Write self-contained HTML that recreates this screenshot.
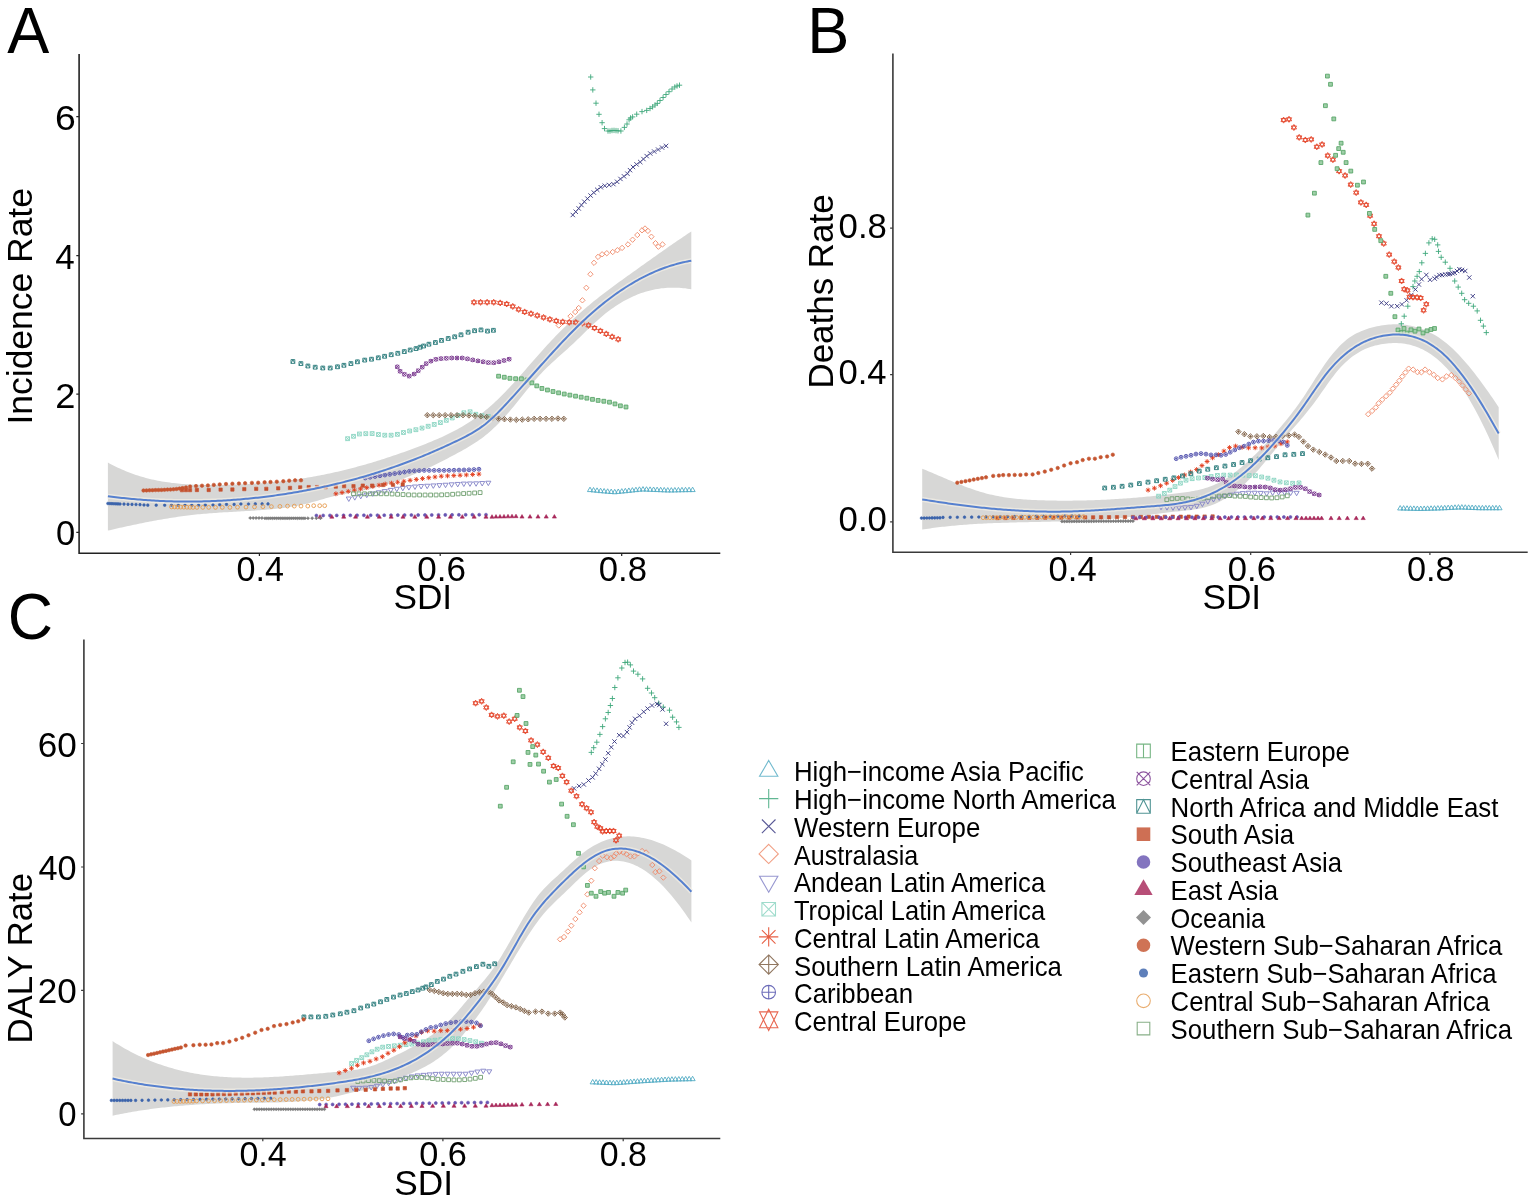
<!DOCTYPE html>
<html><head><meta charset="utf-8"><title>SDI vs rates</title>
<style>html,body{margin:0;padding:0;background:#fff;}svg{display:block;}</style>
</head><body>
<svg width="1535" height="1204" viewBox="0 0 1535 1204">
<rect width="1535" height="1204" fill="#fff"/>
<path d="M107.9 462.53 L109.9 463.64 L111.9 464.7 L113.89 465.73 L115.89 466.73 L117.89 467.69 L119.89 468.62 L121.89 469.51 L123.88 470.37 L125.88 471.21 L127.88 472.01 L129.88 472.78 L131.88 473.52 L133.87 474.23 L135.87 474.91 L137.87 475.56 L139.87 476.18 L141.87 476.78 L143.86 477.35 L145.86 477.9 L147.86 478.42 L149.86 478.92 L151.85 479.39 L153.85 479.83 L155.85 480.26 L157.85 480.66 L159.85 481.04 L161.84 481.39 L163.84 481.73 L165.84 482.05 L167.84 482.34 L169.84 482.62 L171.83 482.88 L173.83 483.12 L175.83 483.34 L177.83 483.55 L179.83 483.74 L181.82 483.91 L183.82 484.07 L185.82 484.22 L187.82 484.35 L189.82 484.46 L191.81 484.57 L193.81 484.66 L195.81 484.74 L197.81 484.8 L199.81 484.86 L201.8 484.91 L203.8 484.95 L205.8 484.97 L207.8 484.99 L209.8 485.01 L211.79 485.01 L213.79 485.01 L215.79 485 L217.79 484.99 L219.78 484.97 L221.78 484.94 L223.78 484.91 L225.78 484.88 L227.78 484.83 L229.77 484.78 L231.77 484.73 L233.77 484.67 L235.77 484.6 L237.77 484.53 L239.76 484.45 L241.76 484.36 L243.76 484.27 L245.76 484.17 L247.76 484.06 L249.75 483.95 L251.75 483.83 L253.75 483.7 L255.75 483.57 L257.75 483.43 L259.74 483.29 L261.74 483.13 L263.74 482.97 L265.74 482.81 L267.74 482.63 L269.73 482.45 L271.73 482.26 L273.73 482.07 L275.73 481.86 L277.73 481.65 L279.72 481.43 L281.72 481.21 L283.72 480.98 L285.72 480.74 L287.72 480.49 L289.71 480.23 L291.71 479.97 L293.71 479.7 L295.71 479.42 L297.7 479.13 L299.7 478.83 L301.7 478.53 L303.7 478.22 L305.7 477.9 L307.69 477.57 L309.69 477.23 L311.69 476.89 L313.69 476.54 L315.69 476.17 L317.68 475.8 L319.68 475.43 L321.68 475.04 L323.68 474.64 L325.68 474.24 L327.67 473.83 L329.67 473.4 L331.67 472.97 L333.67 472.53 L335.67 472.09 L337.66 471.63 L339.66 471.17 L341.66 470.69 L343.66 470.21 L345.66 469.72 L347.65 469.22 L349.65 468.72 L351.65 468.2 L353.65 467.68 L355.65 467.15 L357.64 466.61 L359.64 466.07 L361.64 465.51 L363.64 464.95 L365.63 464.38 L367.63 463.8 L369.63 463.22 L371.63 462.63 L373.63 462.03 L375.62 461.42 L377.62 460.8 L379.62 460.18 L381.62 459.55 L383.62 458.91 L385.61 458.26 L387.61 457.61 L389.61 456.95 L391.61 456.28 L393.61 455.61 L395.6 454.93 L397.6 454.24 L399.6 453.54 L401.6 452.84 L403.6 452.13 L405.59 451.42 L407.59 450.69 L409.59 449.96 L411.59 449.23 L413.59 448.48 L415.58 447.73 L417.58 446.98 L419.58 446.21 L421.58 445.44 L423.58 444.66 L425.57 443.88 L427.57 443.08 L429.57 442.28 L431.57 441.46 L433.57 440.62 L435.56 439.78 L437.56 438.91 L439.56 438.03 L441.56 437.13 L443.55 436.22 L445.55 435.28 L447.55 434.32 L449.55 433.33 L451.55 432.33 L453.54 431.29 L455.54 430.23 L457.54 429.15 L459.54 428.03 L461.54 426.88 L463.53 425.71 L465.53 424.49 L467.53 423.25 L469.53 421.97 L471.53 420.65 L473.52 419.3 L475.52 417.91 L477.52 416.48 L479.52 415 L481.52 413.49 L483.51 411.93 L485.51 410.33 L487.51 408.68 L489.51 406.98 L491.51 405.24 L493.5 403.45 L495.5 401.6 L497.5 399.71 L499.5 397.77 L501.5 395.79 L503.49 393.77 L505.49 391.7 L507.49 389.61 L509.49 387.48 L511.48 385.32 L513.48 383.14 L515.48 380.93 L517.48 378.71 L519.48 376.46 L521.47 374.2 L523.47 371.93 L525.47 369.65 L527.47 367.37 L529.47 365.08 L531.46 362.79 L533.46 360.51 L535.46 358.23 L537.46 355.95 L539.46 353.69 L541.45 351.45 L543.45 349.22 L545.45 347.01 L547.45 344.83 L549.45 342.67 L551.44 340.54 L553.44 338.43 L555.44 336.36 L557.44 334.31 L559.44 332.29 L561.43 330.29 L563.43 328.32 L565.43 326.38 L567.43 324.46 L569.43 322.56 L571.42 320.69 L573.42 318.84 L575.42 317.02 L577.42 315.22 L579.42 313.44 L581.41 311.69 L583.41 309.96 L585.41 308.25 L587.41 306.56 L589.4 304.89 L591.4 303.24 L593.4 301.61 L595.4 300 L597.4 298.41 L599.39 296.84 L601.39 295.28 L603.39 293.74 L605.39 292.21 L607.39 290.7 L609.38 289.2 L611.38 287.71 L613.38 286.23 L615.38 284.76 L617.38 283.3 L619.37 281.85 L621.37 280.4 L623.37 278.96 L625.37 277.52 L627.37 276.09 L629.36 274.67 L631.36 273.24 L633.36 271.82 L635.36 270.39 L637.36 268.97 L639.35 267.54 L641.35 266.12 L643.35 264.69 L645.35 263.27 L647.35 261.85 L649.34 260.42 L651.34 259.01 L653.34 257.59 L655.34 256.17 L657.33 254.76 L659.33 253.35 L661.33 251.95 L663.33 250.54 L665.33 249.15 L667.32 247.75 L669.32 246.36 L671.32 244.98 L673.32 243.6 L675.32 242.22 L677.31 240.85 L679.31 239.49 L681.31 238.14 L683.31 236.79 L685.31 235.44 L687.3 234.11 L689.3 232.78 L691.3 231.46 L691.3 289.27 L689.3 288.93 L687.3 288.63 L685.31 288.37 L683.31 288.14 L681.31 287.96 L679.31 287.82 L677.31 287.71 L675.32 287.65 L673.32 287.63 L671.32 287.64 L669.32 287.7 L667.32 287.8 L665.33 287.95 L663.33 288.13 L661.33 288.36 L659.33 288.63 L657.33 288.95 L655.34 289.31 L653.34 289.71 L651.34 290.16 L649.34 290.65 L647.35 291.19 L645.35 291.77 L643.35 292.4 L641.35 293.08 L639.35 293.8 L637.36 294.57 L635.36 295.39 L633.36 296.25 L631.36 297.17 L629.36 298.13 L627.37 299.14 L625.37 300.2 L623.37 301.31 L621.37 302.48 L619.37 303.69 L617.38 304.95 L615.38 306.26 L613.38 307.63 L611.38 309.04 L609.38 310.51 L607.39 312.04 L605.39 313.61 L603.39 315.24 L601.39 316.92 L599.39 318.66 L597.4 320.44 L595.4 322.26 L593.4 324.12 L591.4 326.01 L589.4 327.93 L587.41 329.86 L585.41 331.8 L583.41 333.75 L581.41 335.7 L579.42 337.65 L577.42 339.59 L575.42 341.51 L573.42 343.4 L571.42 345.28 L569.43 347.12 L567.43 348.95 L565.43 350.75 L563.43 352.54 L561.43 354.32 L559.44 356.09 L557.44 357.87 L555.44 359.67 L553.44 361.48 L551.44 363.31 L549.45 365.18 L547.45 367.1 L545.45 369.05 L543.45 371.07 L541.45 373.14 L539.46 375.29 L537.46 377.5 L535.46 379.78 L533.46 382.11 L531.46 384.5 L529.47 386.92 L527.47 389.37 L525.47 391.84 L523.47 394.33 L521.47 396.82 L519.48 399.31 L517.48 401.8 L515.48 404.26 L513.48 406.7 L511.48 409.1 L509.49 411.45 L507.49 413.76 L505.49 416.02 L503.49 418.22 L501.5 420.37 L499.5 422.45 L497.5 424.48 L495.5 426.45 L493.5 428.36 L491.51 430.2 L489.51 431.97 L487.51 433.68 L485.51 435.32 L483.51 436.88 L481.52 438.39 L479.52 439.83 L477.52 441.22 L475.52 442.56 L473.52 443.85 L471.53 445.1 L469.53 446.32 L467.53 447.5 L465.53 448.65 L463.53 449.79 L461.54 450.9 L459.54 452 L457.54 453.09 L455.54 454.18 L453.54 455.25 L451.55 456.32 L449.55 457.37 L447.55 458.42 L445.55 459.46 L443.55 460.48 L441.56 461.5 L439.56 462.51 L437.56 463.5 L435.56 464.49 L433.57 465.46 L431.57 466.42 L429.57 467.37 L427.57 468.31 L425.57 469.23 L423.58 470.15 L421.58 471.05 L419.58 471.93 L417.58 472.8 L415.58 473.66 L413.59 474.51 L411.59 475.34 L409.59 476.15 L407.59 476.95 L405.59 477.74 L403.6 478.51 L401.6 479.26 L399.6 480 L397.6 480.72 L395.6 481.43 L393.61 482.12 L391.61 482.79 L389.61 483.44 L387.61 484.08 L385.61 484.69 L383.62 485.29 L381.62 485.87 L379.62 486.43 L377.62 486.98 L375.62 487.5 L373.63 488 L371.63 488.49 L369.63 488.95 L367.63 489.4 L365.63 489.82 L363.64 490.23 L361.64 490.63 L359.64 491.02 L357.64 491.4 L355.65 491.77 L353.65 492.14 L351.65 492.51 L349.65 492.89 L347.65 493.26 L345.66 493.64 L343.66 494.04 L341.66 494.44 L339.66 494.85 L337.66 495.29 L335.67 495.74 L333.67 496.21 L331.67 496.71 L329.67 497.23 L327.67 497.77 L325.68 498.33 L323.68 498.9 L321.68 499.48 L319.68 500.06 L317.68 500.65 L315.69 501.23 L313.69 501.8 L311.69 502.36 L309.69 502.89 L307.69 503.41 L305.7 503.9 L303.7 504.37 L301.7 504.81 L299.7 505.23 L297.7 505.63 L295.71 506.01 L293.71 506.37 L291.71 506.7 L289.71 507.02 L287.72 507.33 L285.72 507.61 L283.72 507.88 L281.72 508.14 L279.72 508.38 L277.73 508.61 L275.73 508.83 L273.73 509.03 L271.73 509.23 L269.73 509.41 L267.74 509.59 L265.74 509.76 L263.74 509.92 L261.74 510.07 L259.74 510.22 L257.75 510.37 L255.75 510.5 L253.75 510.63 L251.75 510.76 L249.75 510.89 L247.76 511.01 L245.76 511.12 L243.76 511.24 L241.76 511.35 L239.76 511.46 L237.77 511.57 L235.77 511.68 L233.77 511.79 L231.77 511.91 L229.77 512.02 L227.78 512.13 L225.78 512.25 L223.78 512.37 L221.78 512.49 L219.78 512.61 L217.79 512.74 L215.79 512.88 L213.79 513.01 L211.79 513.16 L209.8 513.31 L207.8 513.47 L205.8 513.63 L203.8 513.8 L201.8 513.98 L199.81 514.17 L197.81 514.37 L195.81 514.58 L193.81 514.8 L191.81 515.02 L189.82 515.26 L187.82 515.5 L185.82 515.75 L183.82 516.01 L181.82 516.28 L179.83 516.56 L177.83 516.84 L175.83 517.14 L173.83 517.44 L171.83 517.74 L169.84 518.06 L167.84 518.38 L165.84 518.71 L163.84 519.05 L161.84 519.39 L159.85 519.74 L157.85 520.09 L155.85 520.46 L153.85 520.83 L151.85 521.2 L149.86 521.58 L147.86 521.96 L145.86 522.36 L143.86 522.75 L141.87 523.15 L139.87 523.56 L137.87 523.97 L135.87 524.39 L133.87 524.81 L131.88 525.23 L129.88 525.66 L127.88 526.09 L125.88 526.53 L123.88 526.97 L121.89 527.42 L119.89 527.86 L117.89 528.31 L115.89 528.77 L113.89 529.22 L111.9 529.68 L109.9 530.15 L107.9 530.61Z" fill="#d7d7d6"/>
<path d="M922.2 468.66 L924.19 469.48 L926.19 470.31 L928.18 471.14 L930.18 471.98 L932.17 472.83 L934.17 473.68 L936.16 474.54 L938.16 475.39 L940.15 476.25 L942.15 477.11 L944.14 477.96 L946.14 478.81 L948.13 479.66 L950.13 480.5 L952.12 481.34 L954.12 482.16 L956.11 482.98 L958.11 483.79 L960.1 484.59 L962.1 485.37 L964.09 486.14 L966.09 486.9 L968.08 487.64 L970.08 488.36 L972.07 489.07 L974.07 489.76 L976.06 490.42 L978.05 491.06 L980.05 491.69 L982.04 492.28 L984.04 492.85 L986.03 493.4 L988.03 493.92 L990.02 494.41 L992.02 494.87 L994.01 495.31 L996.01 495.73 L998 496.12 L1000 496.49 L1001.99 496.83 L1003.99 497.16 L1005.98 497.46 L1007.98 497.75 L1009.97 498.01 L1011.97 498.26 L1013.96 498.49 L1015.96 498.7 L1017.95 498.9 L1019.95 499.08 L1021.94 499.25 L1023.94 499.4 L1025.93 499.55 L1027.92 499.67 L1029.92 499.79 L1031.91 499.9 L1033.91 500 L1035.9 500.08 L1037.9 500.16 L1039.89 500.24 L1041.89 500.3 L1043.88 500.36 L1045.88 500.41 L1047.87 500.46 L1049.87 500.51 L1051.86 500.54 L1053.86 500.58 L1055.85 500.6 L1057.85 500.63 L1059.84 500.64 L1061.84 500.66 L1063.83 500.66 L1065.83 500.66 L1067.82 500.66 L1069.82 500.65 L1071.81 500.64 L1073.81 500.62 L1075.8 500.59 L1077.8 500.57 L1079.79 500.53 L1081.78 500.49 L1083.78 500.45 L1085.77 500.4 L1087.77 500.35 L1089.76 500.29 L1091.76 500.23 L1093.75 500.16 L1095.75 500.08 L1097.74 500.01 L1099.74 499.92 L1101.73 499.84 L1103.73 499.75 L1105.72 499.65 L1107.72 499.55 L1109.71 499.44 L1111.71 499.33 L1113.7 499.22 L1115.7 499.1 L1117.69 498.97 L1119.69 498.85 L1121.68 498.71 L1123.68 498.58 L1125.67 498.43 L1127.67 498.29 L1129.66 498.14 L1131.66 497.98 L1133.65 497.82 L1135.64 497.66 L1137.64 497.49 L1139.63 497.32 L1141.63 497.15 L1143.62 496.97 L1145.62 496.78 L1147.61 496.59 L1149.61 496.4 L1151.6 496.2 L1153.6 496 L1155.59 495.8 L1157.59 495.59 L1159.58 495.38 L1161.58 495.16 L1163.57 494.94 L1165.57 494.71 L1167.56 494.48 L1169.56 494.25 L1171.55 494.02 L1173.55 493.78 L1175.54 493.53 L1177.54 493.28 L1179.53 493.03 L1181.53 492.78 L1183.52 492.52 L1185.51 492.24 L1187.51 491.96 L1189.5 491.65 L1191.5 491.32 L1193.49 490.97 L1195.49 490.59 L1197.48 490.18 L1199.48 489.73 L1201.47 489.24 L1203.47 488.7 L1205.46 488.12 L1207.46 487.49 L1209.45 486.8 L1211.45 486.05 L1213.44 485.24 L1215.44 484.36 L1217.43 483.42 L1219.43 482.4 L1221.42 481.31 L1223.42 480.15 L1225.41 478.93 L1227.41 477.65 L1229.4 476.31 L1231.4 474.91 L1233.39 473.46 L1235.39 471.96 L1237.38 470.4 L1239.37 468.8 L1241.37 467.16 L1243.36 465.46 L1245.36 463.73 L1247.35 461.95 L1249.35 460.13 L1251.34 458.27 L1253.34 456.37 L1255.33 454.43 L1257.33 452.45 L1259.32 450.44 L1261.32 448.39 L1263.31 446.31 L1265.31 444.2 L1267.3 442.05 L1269.3 439.87 L1271.29 437.67 L1273.29 435.44 L1275.28 433.17 L1277.28 430.89 L1279.27 428.58 L1281.27 426.23 L1283.26 423.86 L1285.26 421.44 L1287.25 418.98 L1289.24 416.48 L1291.24 413.93 L1293.23 411.33 L1295.23 408.67 L1297.22 405.95 L1299.22 403.17 L1301.21 400.32 L1303.21 397.4 L1305.2 394.41 L1307.2 391.35 L1309.19 388.26 L1311.19 385.13 L1313.18 381.99 L1315.18 378.86 L1317.17 375.74 L1319.17 372.66 L1321.16 369.63 L1323.16 366.66 L1325.15 363.77 L1327.15 360.98 L1329.14 358.3 L1331.14 355.73 L1333.13 353.27 L1335.13 350.92 L1337.12 348.69 L1339.12 346.58 L1341.11 344.59 L1343.1 342.72 L1345.1 340.97 L1347.09 339.35 L1349.09 337.86 L1351.08 336.49 L1353.08 335.25 L1355.07 334.12 L1357.07 333.09 L1359.06 332.14 L1361.06 331.27 L1363.05 330.46 L1365.05 329.7 L1367.04 329 L1369.04 328.36 L1371.03 327.77 L1373.03 327.23 L1375.02 326.74 L1377.02 326.3 L1379.01 325.9 L1381.01 325.55 L1383 325.25 L1385 324.99 L1386.99 324.76 L1388.99 324.59 L1390.98 324.45 L1392.98 324.36 L1394.97 324.32 L1396.96 324.32 L1398.96 324.37 L1400.95 324.47 L1402.95 324.63 L1404.94 324.83 L1406.94 325.09 L1408.93 325.41 L1410.93 325.78 L1412.92 326.21 L1414.92 326.7 L1416.91 327.25 L1418.91 327.86 L1420.9 328.53 L1422.9 329.27 L1424.89 330.07 L1426.89 330.94 L1428.88 331.88 L1430.88 332.88 L1432.87 333.96 L1434.87 335.11 L1436.86 336.33 L1438.86 337.62 L1440.85 338.99 L1442.85 340.44 L1444.84 341.97 L1446.83 343.57 L1448.83 345.26 L1450.82 347.02 L1452.82 348.87 L1454.81 350.78 L1456.81 352.77 L1458.8 354.83 L1460.8 356.96 L1462.79 359.15 L1464.79 361.41 L1466.78 363.73 L1468.78 366.1 L1470.77 368.54 L1472.77 371.02 L1474.76 373.56 L1476.76 376.15 L1478.75 378.79 L1480.75 381.47 L1482.74 384.19 L1484.74 386.96 L1486.73 389.76 L1488.73 392.6 L1490.72 395.47 L1492.72 398.37 L1494.71 401.31 L1496.71 404.27 L1498.7 407.25 L1498.7 459.92 L1496.71 455.15 L1494.71 450.49 L1492.72 445.91 L1490.72 441.43 L1488.73 437.05 L1486.73 432.76 L1484.74 428.57 L1482.74 424.48 L1480.75 420.49 L1478.75 416.59 L1476.76 412.79 L1474.76 409.1 L1472.77 405.5 L1470.77 402.01 L1468.78 398.62 L1466.78 395.33 L1464.79 392.15 L1462.79 389.07 L1460.8 386.1 L1458.8 383.23 L1456.81 380.46 L1454.81 377.81 L1452.82 375.26 L1450.82 372.82 L1448.83 370.49 L1446.83 368.27 L1444.84 366.16 L1442.85 364.16 L1440.85 362.26 L1438.86 360.47 L1436.86 358.78 L1434.87 357.18 L1432.87 355.69 L1430.88 354.29 L1428.88 352.98 L1426.89 351.77 L1424.89 350.64 L1422.9 349.6 L1420.9 348.65 L1418.91 347.78 L1416.91 346.99 L1414.92 346.28 L1412.92 345.64 L1410.93 345.09 L1408.93 344.6 L1406.94 344.19 L1404.94 343.84 L1402.95 343.56 L1400.95 343.35 L1398.96 343.19 L1396.96 343.1 L1394.97 343.07 L1392.98 343.09 L1390.98 343.17 L1388.99 343.3 L1386.99 343.48 L1385 343.71 L1383 343.99 L1381.01 344.31 L1379.01 344.69 L1377.02 345.13 L1375.02 345.62 L1373.03 346.18 L1371.03 346.8 L1369.04 347.5 L1367.04 348.27 L1365.05 349.12 L1363.05 350.06 L1361.06 351.08 L1359.06 352.19 L1357.07 353.39 L1355.07 354.69 L1353.08 356.09 L1351.08 357.59 L1349.09 359.21 L1347.09 360.93 L1345.1 362.77 L1343.1 364.73 L1341.11 366.81 L1339.12 369.02 L1337.12 371.36 L1335.13 373.82 L1333.13 376.39 L1331.14 379.05 L1329.14 381.78 L1327.15 384.57 L1325.15 387.39 L1323.16 390.23 L1321.16 393.08 L1319.17 395.92 L1317.17 398.72 L1315.18 401.47 L1313.18 404.17 L1311.19 406.79 L1309.19 409.36 L1307.2 411.86 L1305.2 414.32 L1303.21 416.71 L1301.21 419.07 L1299.22 421.38 L1297.22 423.67 L1295.23 425.93 L1293.23 428.19 L1291.24 430.46 L1289.24 432.73 L1287.25 435.03 L1285.26 437.37 L1283.26 439.74 L1281.27 442.13 L1279.27 444.55 L1277.28 446.99 L1275.28 449.43 L1273.29 451.88 L1271.29 454.33 L1269.3 456.77 L1267.3 459.19 L1265.31 461.6 L1263.31 463.97 L1261.32 466.32 L1259.32 468.63 L1257.33 470.89 L1255.33 473.1 L1253.34 475.25 L1251.34 477.34 L1249.35 479.36 L1247.35 481.32 L1245.36 483.2 L1243.36 485.03 L1241.37 486.78 L1239.37 488.47 L1237.38 490.09 L1235.39 491.65 L1233.39 493.14 L1231.4 494.57 L1229.4 495.93 L1227.41 497.22 L1225.41 498.45 L1223.42 499.62 L1221.42 500.72 L1219.43 501.75 L1217.43 502.72 L1215.44 503.63 L1213.44 504.47 L1211.45 505.25 L1209.45 505.96 L1207.46 506.61 L1205.46 507.2 L1203.47 507.72 L1201.47 508.19 L1199.48 508.61 L1197.48 508.99 L1195.49 509.32 L1193.49 509.62 L1191.5 509.88 L1189.5 510.13 L1187.51 510.35 L1185.51 510.56 L1183.52 510.77 L1181.53 510.97 L1179.53 511.17 L1177.54 511.38 L1175.54 511.59 L1173.55 511.81 L1171.55 512.03 L1169.56 512.26 L1167.56 512.49 L1165.57 512.73 L1163.57 512.97 L1161.58 513.21 L1159.58 513.45 L1157.59 513.7 L1155.59 513.94 L1153.6 514.19 L1151.6 514.44 L1149.61 514.69 L1147.61 514.94 L1145.62 515.19 L1143.62 515.43 L1141.63 515.68 L1139.63 515.92 L1137.64 516.16 L1135.64 516.39 L1133.65 516.63 L1131.66 516.85 L1129.66 517.08 L1127.67 517.3 L1125.67 517.51 L1123.68 517.72 L1121.68 517.92 L1119.69 518.12 L1117.69 518.3 L1115.7 518.48 L1113.7 518.66 L1111.71 518.83 L1109.71 518.99 L1107.72 519.14 L1105.72 519.29 L1103.73 519.43 L1101.73 519.57 L1099.74 519.7 L1097.74 519.83 L1095.75 519.95 L1093.75 520.06 L1091.76 520.17 L1089.76 520.28 L1087.77 520.38 L1085.77 520.48 L1083.78 520.57 L1081.78 520.66 L1079.79 520.74 L1077.8 520.82 L1075.8 520.9 L1073.81 520.98 L1071.81 521.05 L1069.82 521.11 L1067.82 521.18 L1065.83 521.24 L1063.83 521.3 L1061.84 521.36 L1059.84 521.41 L1057.85 521.47 L1055.85 521.52 L1053.86 521.57 L1051.86 521.62 L1049.87 521.66 L1047.87 521.71 L1045.88 521.75 L1043.88 521.8 L1041.89 521.84 L1039.89 521.88 L1037.9 521.92 L1035.9 521.96 L1033.91 522.01 L1031.91 522.05 L1029.92 522.09 L1027.92 522.13 L1025.93 522.18 L1023.94 522.22 L1021.94 522.27 L1019.95 522.31 L1017.95 522.36 L1015.96 522.41 L1013.96 522.46 L1011.97 522.52 L1009.97 522.57 L1007.98 522.63 L1005.98 522.69 L1003.99 522.75 L1001.99 522.81 L1000 522.88 L998 522.95 L996.01 523.03 L994.01 523.1 L992.02 523.19 L990.02 523.27 L988.03 523.36 L986.03 523.45 L984.04 523.55 L982.04 523.65 L980.05 523.76 L978.05 523.87 L976.06 523.98 L974.07 524.1 L972.07 524.23 L970.08 524.36 L968.08 524.5 L966.09 524.64 L964.09 524.79 L962.1 524.94 L960.1 525.1 L958.11 525.27 L956.11 525.45 L954.12 525.63 L952.12 525.81 L950.13 526.01 L948.13 526.21 L946.14 526.42 L944.14 526.64 L942.15 526.86 L940.15 527.1 L938.16 527.34 L936.16 527.59 L934.17 527.84 L932.17 528.11 L930.18 528.39 L928.18 528.67 L926.19 528.96 L924.19 529.27 L922.2 529.58Z" fill="#d7d7d6"/>
<path d="M112.6 1041.11 L114.6 1042.39 L116.59 1043.64 L118.59 1044.87 L120.58 1046.07 L122.58 1047.23 L124.58 1048.38 L126.57 1049.49 L128.57 1050.58 L130.56 1051.64 L132.56 1052.68 L134.55 1053.69 L136.55 1054.67 L138.55 1055.63 L140.54 1056.57 L142.54 1057.48 L144.53 1058.36 L146.53 1059.22 L148.53 1060.06 L150.52 1060.88 L152.52 1061.67 L154.51 1062.44 L156.51 1063.18 L158.5 1063.9 L160.5 1064.6 L162.5 1065.28 L164.49 1065.94 L166.49 1066.57 L168.48 1067.19 L170.48 1067.78 L172.48 1068.36 L174.47 1068.91 L176.47 1069.44 L178.46 1069.96 L180.46 1070.45 L182.46 1070.92 L184.45 1071.38 L186.45 1071.82 L188.44 1072.24 L190.44 1072.64 L192.43 1073.02 L194.43 1073.39 L196.43 1073.74 L198.42 1074.07 L200.42 1074.38 L202.41 1074.68 L204.41 1074.96 L206.41 1075.23 L208.4 1075.48 L210.4 1075.72 L212.39 1075.94 L214.39 1076.15 L216.38 1076.34 L218.38 1076.52 L220.38 1076.68 L222.37 1076.83 L224.37 1076.97 L226.36 1077.09 L228.36 1077.2 L230.36 1077.3 L232.35 1077.39 L234.35 1077.46 L236.34 1077.52 L238.34 1077.58 L240.34 1077.62 L242.33 1077.65 L244.33 1077.67 L246.32 1077.67 L248.32 1077.67 L250.31 1077.66 L252.31 1077.64 L254.31 1077.61 L256.3 1077.57 L258.3 1077.53 L260.29 1077.47 L262.29 1077.41 L264.29 1077.34 L266.28 1077.26 L268.28 1077.17 L270.27 1077.08 L272.27 1076.98 L274.26 1076.87 L276.26 1076.76 L278.26 1076.64 L280.25 1076.52 L282.25 1076.39 L284.24 1076.26 L286.24 1076.12 L288.24 1075.98 L290.23 1075.83 L292.23 1075.68 L294.22 1075.53 L296.22 1075.37 L298.22 1075.21 L300.21 1075.04 L302.21 1074.88 L304.2 1074.71 L306.2 1074.54 L308.19 1074.36 L310.19 1074.19 L312.19 1074.02 L314.18 1073.84 L316.18 1073.66 L318.17 1073.49 L320.17 1073.31 L322.17 1073.13 L324.16 1072.96 L326.16 1072.78 L328.15 1072.61 L330.15 1072.44 L332.14 1072.27 L334.14 1072.1 L336.14 1071.93 L338.13 1071.76 L340.13 1071.6 L342.12 1071.42 L344.12 1071.24 L346.12 1071.04 L348.11 1070.83 L350.11 1070.6 L352.1 1070.34 L354.1 1070.06 L356.1 1069.75 L358.09 1069.41 L360.09 1069.03 L362.08 1068.62 L364.08 1068.16 L366.07 1067.66 L368.07 1067.11 L370.07 1066.5 L372.06 1065.84 L374.06 1065.14 L376.05 1064.38 L378.05 1063.59 L380.05 1062.75 L382.04 1061.89 L384.04 1061 L386.03 1060.08 L388.03 1059.15 L390.02 1058.2 L392.02 1057.24 L394.02 1056.28 L396.01 1055.32 L398.01 1054.35 L400 1053.38 L402 1052.4 L404 1051.4 L405.99 1050.39 L407.99 1049.37 L409.98 1048.33 L411.98 1047.27 L413.98 1046.18 L415.97 1045.07 L417.97 1043.92 L419.96 1042.75 L421.96 1041.54 L423.95 1040.3 L425.95 1039.02 L427.95 1037.69 L429.94 1036.32 L431.94 1034.91 L433.93 1033.45 L435.93 1031.93 L437.93 1030.36 L439.92 1028.74 L441.92 1027.05 L443.91 1025.3 L445.91 1023.49 L447.9 1021.62 L449.9 1019.67 L451.9 1017.65 L453.89 1015.56 L455.89 1013.39 L457.88 1011.14 L459.88 1008.83 L461.88 1006.47 L463.87 1004.08 L465.87 1001.67 L467.86 999.27 L469.86 996.9 L471.86 994.56 L473.85 992.24 L475.85 989.95 L477.84 987.65 L479.84 985.35 L481.83 983.01 L483.83 980.64 L485.83 978.21 L487.82 975.72 L489.82 973.14 L491.81 970.47 L493.81 967.7 L495.81 964.8 L497.8 961.78 L499.8 958.66 L501.79 955.43 L503.79 952.12 L505.78 948.75 L507.78 945.31 L509.78 941.83 L511.77 938.32 L513.77 934.78 L515.76 931.25 L517.76 927.72 L519.76 924.21 L521.75 920.73 L523.75 917.31 L525.74 913.95 L527.74 910.68 L529.74 907.5 L531.73 904.43 L533.73 901.5 L535.72 898.7 L537.72 896.07 L539.71 893.59 L541.71 891.25 L543.71 889.04 L545.7 886.93 L547.7 884.91 L549.69 882.97 L551.69 881.09 L553.69 879.25 L555.68 877.43 L557.68 875.63 L559.67 873.82 L561.67 871.98 L563.66 870.13 L565.66 868.28 L567.66 866.42 L569.65 864.57 L571.65 862.73 L573.64 860.92 L575.64 859.14 L577.64 857.4 L579.63 855.71 L581.63 854.08 L583.62 852.51 L585.62 851.01 L587.62 849.6 L589.61 848.26 L591.61 847 L593.6 845.81 L595.6 844.7 L597.59 843.66 L599.59 842.7 L601.59 841.81 L603.58 840.99 L605.58 840.24 L607.57 839.56 L609.57 838.95 L611.57 838.4 L613.56 837.93 L615.56 837.51 L617.55 837.16 L619.55 836.88 L621.54 836.66 L623.54 836.49 L625.54 836.39 L627.53 836.35 L629.53 836.37 L631.52 836.44 L633.52 836.57 L635.52 836.76 L637.51 837 L639.51 837.29 L641.5 837.64 L643.5 838.03 L645.5 838.48 L647.49 838.98 L649.49 839.52 L651.48 840.12 L653.48 840.76 L655.47 841.44 L657.47 842.17 L659.47 842.95 L661.46 843.76 L663.46 844.62 L665.45 845.52 L667.45 846.46 L669.45 847.44 L671.44 848.45 L673.44 849.5 L675.43 850.59 L677.43 851.71 L679.42 852.87 L681.42 854.06 L683.42 855.28 L685.41 856.53 L687.41 857.81 L689.4 859.12 L691.4 860.45 L691.4 922.6 L689.4 919.6 L687.41 916.66 L685.41 913.79 L683.42 910.98 L681.42 908.23 L679.42 905.55 L677.43 902.94 L675.43 900.39 L673.44 897.92 L671.44 895.51 L669.45 893.18 L667.45 890.92 L665.45 888.73 L663.46 886.61 L661.46 884.58 L659.47 882.61 L657.47 880.73 L655.47 878.92 L653.48 877.19 L651.48 875.55 L649.49 873.98 L647.49 872.5 L645.5 871.1 L643.5 869.78 L641.5 868.55 L639.51 867.41 L637.51 866.35 L635.52 865.38 L633.52 864.5 L631.52 863.72 L629.53 863.02 L627.53 862.42 L625.54 861.91 L623.54 861.49 L621.54 861.17 L619.55 860.95 L617.55 860.83 L615.56 860.8 L613.56 860.87 L611.57 861.05 L609.57 861.32 L607.57 861.7 L605.58 862.19 L603.58 862.77 L601.59 863.47 L599.59 864.27 L597.59 865.18 L595.6 866.2 L593.6 867.32 L591.61 868.56 L589.61 869.91 L587.62 871.38 L585.62 872.95 L583.62 874.64 L581.63 876.43 L579.63 878.29 L577.64 880.2 L575.64 882.12 L573.64 884.05 L571.65 885.98 L569.65 887.9 L567.66 889.83 L565.66 891.74 L563.66 893.65 L561.67 895.56 L559.67 897.45 L557.68 899.34 L555.68 901.24 L553.69 903.16 L551.69 905.14 L549.69 907.17 L547.7 909.28 L545.7 911.5 L543.71 913.82 L541.71 916.27 L539.71 918.83 L537.72 921.49 L535.72 924.24 L533.73 927.08 L531.73 930 L529.74 932.99 L527.74 936.04 L525.74 939.15 L523.75 942.31 L521.75 945.51 L519.76 948.76 L517.76 952.04 L515.76 955.35 L513.77 958.68 L511.77 962.03 L509.78 965.39 L507.78 968.75 L505.78 972.12 L503.79 975.47 L501.79 978.82 L499.8 982.14 L497.8 985.44 L495.81 988.71 L493.81 991.95 L491.81 995.14 L489.82 998.28 L487.82 1001.37 L485.83 1004.4 L483.83 1007.37 L481.83 1010.26 L479.84 1013.08 L477.84 1015.83 L475.85 1018.53 L473.85 1021.18 L471.86 1023.78 L469.86 1026.34 L467.86 1028.88 L465.87 1031.37 L463.87 1033.82 L461.88 1036.21 L459.88 1038.53 L457.88 1040.78 L455.89 1042.94 L453.89 1045.01 L451.9 1047 L449.9 1048.9 L447.9 1050.72 L445.91 1052.46 L443.91 1054.12 L441.92 1055.71 L439.92 1057.23 L437.93 1058.69 L435.93 1060.08 L433.93 1061.41 L431.94 1062.68 L429.94 1063.9 L427.95 1065.07 L425.95 1066.19 L423.95 1067.26 L421.96 1068.29 L419.96 1069.28 L417.97 1070.24 L415.97 1071.16 L413.98 1072.06 L411.98 1072.93 L409.98 1073.77 L407.99 1074.61 L405.99 1075.42 L404 1076.23 L402 1077.02 L400 1077.81 L398.01 1078.6 L396.01 1079.4 L394.02 1080.2 L392.02 1081 L390.02 1081.81 L388.03 1082.62 L386.03 1083.43 L384.04 1084.22 L382.04 1084.99 L380.05 1085.73 L378.05 1086.45 L376.05 1087.13 L374.06 1087.76 L372.06 1088.35 L370.07 1088.89 L368.07 1089.36 L366.07 1089.79 L364.08 1090.19 L362.08 1090.56 L360.09 1090.93 L358.09 1091.3 L356.1 1091.69 L354.1 1092.1 L352.1 1092.55 L350.11 1093.03 L348.11 1093.53 L346.12 1094.03 L344.12 1094.54 L342.12 1095.03 L340.13 1095.51 L338.13 1095.97 L336.14 1096.4 L334.14 1096.82 L332.14 1097.22 L330.15 1097.59 L328.15 1097.95 L326.16 1098.29 L324.16 1098.62 L322.17 1098.93 L320.17 1099.22 L318.17 1099.49 L316.18 1099.75 L314.18 1100 L312.19 1100.22 L310.19 1100.44 L308.19 1100.64 L306.2 1100.83 L304.2 1101.01 L302.21 1101.17 L300.21 1101.33 L298.22 1101.47 L296.22 1101.6 L294.22 1101.72 L292.23 1101.83 L290.23 1101.93 L288.24 1102.03 L286.24 1102.11 L284.24 1102.19 L282.25 1102.26 L280.25 1102.33 L278.26 1102.38 L276.26 1102.44 L274.26 1102.48 L272.27 1102.52 L270.27 1102.56 L268.28 1102.59 L266.28 1102.62 L264.29 1102.65 L262.29 1102.68 L260.29 1102.7 L258.3 1102.72 L256.3 1102.74 L254.31 1102.76 L252.31 1102.78 L250.31 1102.8 L248.32 1102.82 L246.32 1102.85 L244.33 1102.87 L242.33 1102.9 L240.34 1102.93 L238.34 1102.96 L236.34 1103 L234.35 1103.04 L232.35 1103.09 L230.36 1103.13 L228.36 1103.19 L226.36 1103.24 L224.37 1103.3 L222.37 1103.37 L220.38 1103.43 L218.38 1103.51 L216.38 1103.58 L214.39 1103.67 L212.39 1103.75 L210.4 1103.84 L208.4 1103.94 L206.41 1104.04 L204.41 1104.14 L202.41 1104.25 L200.42 1104.37 L198.42 1104.49 L196.43 1104.61 L194.43 1104.74 L192.43 1104.88 L190.44 1105.02 L188.44 1105.16 L186.45 1105.32 L184.45 1105.47 L182.46 1105.64 L180.46 1105.81 L178.46 1105.98 L176.47 1106.16 L174.47 1106.35 L172.48 1106.54 L170.48 1106.74 L168.48 1106.95 L166.49 1107.16 L164.49 1107.38 L162.5 1107.61 L160.5 1107.84 L158.5 1108.08 L156.51 1108.33 L154.51 1108.58 L152.52 1108.84 L150.52 1109.1 L148.53 1109.38 L146.53 1109.66 L144.53 1109.95 L142.54 1110.24 L140.54 1110.55 L138.55 1110.86 L136.55 1111.18 L134.55 1111.5 L132.56 1111.84 L130.56 1112.18 L128.57 1112.53 L126.57 1112.89 L124.58 1113.26 L122.58 1113.63 L120.58 1114.01 L118.59 1114.41 L116.59 1114.81 L114.6 1115.21 L112.6 1115.63Z" fill="#d7d7d6"/>
<path d="M590 487.15L592.56 491.58L587.44 491.58ZM593.53 487.5L596.09 491.93L590.97 491.93ZM597.06 487.85L599.62 492.28L594.5 492.28ZM600.59 488.2L603.15 492.64L598.03 492.64ZM604.12 488.51L606.68 492.95L601.56 492.95ZM607.66 488.79L610.22 493.23L605.1 493.23ZM611.19 489.08L613.75 493.51L608.64 493.51ZM614.73 489.33L617.29 493.76L612.17 493.76ZM618.26 488.99L620.82 493.42L615.7 493.42ZM621.79 488.65L624.35 493.08L619.23 493.08ZM625.32 488.31L627.88 492.74L622.76 492.74ZM628.85 487.95L631.41 492.39L626.29 492.39ZM632.38 487.58L634.94 492.01L629.82 492.01ZM635.91 487.2L638.47 491.63L633.35 491.63ZM639.43 486.82L641.99 491.25L636.87 491.25ZM642.97 486.58L645.52 491.01L640.41 491.01ZM646.51 486.72L649.07 491.15L643.95 491.15ZM650.05 486.86L652.61 491.29L647.5 491.29ZM653.6 486.99L656.16 491.42L651.04 491.42ZM657.14 487.13L659.7 491.57L654.58 491.57ZM660.69 487.28L663.25 491.71L658.13 491.71ZM664.23 487.43L666.79 491.86L661.67 491.86ZM667.78 487.58L670.34 492.01L665.22 492.01ZM671.32 487.6L673.88 492.03L668.76 492.03ZM674.87 487.5L677.43 491.94L672.31 491.94ZM678.41 487.41L680.97 491.84L675.85 491.84ZM681.96 487.33L684.52 491.76L679.4 491.76ZM685.51 487.27L688.07 491.7L682.95 491.7ZM689.05 487.21L691.61 491.64L686.49 491.64ZM692.6 487.15L695.16 491.58L690.04 491.58Z" fill="none" stroke="#52abc4" stroke-width="0.9"/>
<path d="M588.01 77H593.39M590.7 74.31V79.69M590.11 89.9H595.49M592.8 87.21V92.59M593.31 103.2H598.69M596 100.51V105.89M596.31 114.3H601.69M599 111.61V116.99M599.41 122.7H604.79M602.1 120.01V125.39M601.81 128.6H607.19M604.5 125.91V131.29M605.31 131H610.69M608 128.31V133.69M607.31 131H612.69M610 128.31V133.69M609.31 130.5H614.69M612 127.81V133.19M611.31 130.4H616.69M614 127.71V133.09M613.31 130.6H618.69M616 127.91V133.29M615.31 130.8H620.69M618 128.11V133.49M618.21 131H623.59M620.9 128.31V133.69M621.71 127.4H627.09M624.4 124.71V130.09M624.31 124H629.69M627 121.31V126.69M626.41 119.8H631.79M629.1 117.11V122.49M627.81 118H633.19M630.5 115.31V120.69M629.91 116.9H635.29M632.6 114.21V119.59M634.01 114.2H639.39M636.7 111.51V116.89M639.31 111.6H644.69M642 108.91V114.29M644.01 110.4H649.39M646.7 107.71V113.09M647.31 108.5H652.69M650 105.81V111.19M649.91 106.9H655.29M652.6 104.21V109.59M652.31 105H657.69M655 102.31V107.69M654.61 103.4H659.99M657.3 100.71V106.09M657.31 100.5H662.69M660 97.81V103.19M660.41 97.5H665.79M663.1 94.81V100.19M663.31 94.5H668.69M666 91.81V97.19M666.31 91.7H671.69M669 89.01V94.39M669.31 89H674.69M672 86.31V91.69M672.11 87H677.49M674.8 84.31V89.69M674.31 86H679.69M677 83.31V88.69M676.81 85.2H682.19M679.5 82.51V87.89" fill="none" stroke="#3fa87c" stroke-width="0.9"/>
<path d="M570.62 212.81L574.98 217.19M570.62 217.19L574.98 212.81M573.58 209.57L577.95 213.94M573.58 213.94L577.95 209.57M576.5 206.28L580.87 210.65M576.5 210.65L580.87 206.28M579.24 202.84L583.61 207.21M579.24 207.21L583.61 202.84M582.16 199.57L586.53 203.94M582.16 203.94L586.53 199.57M585.27 196.46L589.64 200.83M585.27 200.83L589.64 196.46M588.38 193.35L592.75 197.72M588.38 197.72L592.75 193.35M591.63 190.39L596 194.76M591.63 194.76L596 190.39M595.01 187.58L599.38 191.95M595.01 191.95L599.38 187.58M598.6 185.04L602.97 189.41M598.6 189.41L602.97 185.04M602.65 183.56L607.02 187.93M602.65 187.93L607.02 183.56M606.97 182.79L611.34 187.16M606.97 187.16L611.34 182.79M611.22 181.97L615.59 186.34M611.22 186.34L615.59 181.97M614.92 179.6L619.29 183.97M614.92 183.97L619.29 179.6M618.27 176.75L622.64 181.12M618.27 181.12L622.64 176.75M621.8 174.15L626.17 178.52M621.8 178.52L626.17 174.15M625.25 171.53L629.62 175.9M625.25 175.9L629.62 171.53M627.83 167.97L632.2 172.34M627.83 172.34L632.2 167.97M630.81 164.8L635.18 169.17M630.81 169.17L635.18 164.8M634.35 162.2L638.72 166.57M634.35 166.57L638.72 162.2M638.07 159.86L642.44 164.23M638.07 164.23L642.44 159.86M641.27 156.86L645.64 161.23M641.27 161.23L645.64 156.86M644.52 153.92L648.89 158.29M644.52 158.29L648.89 153.92M648.05 151.3L652.42 155.67M648.05 155.67L652.42 151.3M652 149.35L656.37 153.72M652 153.72L656.37 149.35M655.94 147.4L660.31 151.77M655.94 151.77L660.31 147.4M659.85 145.4L664.22 149.77M659.85 149.77L664.22 145.4M663.92 143.72L668.28 148.09M663.92 148.09L668.28 143.72" fill="none" stroke="#353580" stroke-width="0.9"/>
<path d="M558.8 322.81L561.49 325.5L558.8 328.19L556.11 325.5ZM570.5 313.51L573.19 316.2L570.5 318.89L567.81 316.2ZM575.2 309.31L577.89 312L575.2 314.69L572.51 312ZM578.7 305.31L581.39 308L578.7 310.69L576.01 308ZM582.4 297.61L585.09 300.3L582.4 302.99L579.71 300.3ZM586.3 285.11L588.99 287.8L586.3 290.49L583.61 287.8ZM590.4 271.51L593.09 274.2L590.4 276.89L587.71 274.2ZM594 260.11L596.69 262.8L594 265.49L591.31 262.8ZM598 254.21L600.69 256.9L598 259.59L595.31 256.9ZM602.1 251.61L604.79 254.3L602.1 256.99L599.41 254.3ZM606.8 250.51L609.49 253.2L606.8 255.89L604.11 253.2ZM612.7 249.31L615.39 252L612.7 254.69L610.01 252ZM617.4 247.51L620.09 250.2L617.4 252.89L614.71 250.2ZM622.1 245.21L624.79 247.9L622.1 250.59L619.41 247.9ZM628 241.71L630.69 244.4L628 247.09L625.31 244.4ZM632.6 237.01L635.29 239.7L632.6 242.39L629.91 239.7ZM637.3 232.31L639.99 235L637.3 237.69L634.61 235ZM642 227.61L644.69 230.3L642 232.99L639.31 230.3ZM645 225.81L647.69 228.5L645 231.19L642.31 228.5ZM647.9 228.21L650.59 230.9L647.9 233.59L645.21 230.9ZM651.4 234.01L654.09 236.7L651.4 239.39L648.71 236.7ZM655.5 240.51L658.19 243.2L655.5 245.89L652.81 243.2ZM658.4 244.01L661.09 246.7L658.4 249.39L655.71 246.7ZM662.5 241.71L665.19 244.4L662.5 247.09L659.81 244.4Z" fill="none" stroke="#ef8a6a" stroke-width="0.9"/>
<path d="M348.8 501.45L351.36 497.02L346.24 497.02ZM354.78 500.15L357.34 495.71L352.22 495.71ZM360.76 498.86L363.32 494.42L358.2 494.42ZM366.75 497.63L369.31 493.19L364.19 493.19ZM372.75 496.41L375.31 491.98L370.19 491.98ZM378.76 495.24L381.32 490.81L376.2 490.81ZM384.76 494.05L387.32 489.62L382.2 489.62ZM390.75 492.82L393.31 488.39L388.19 488.39ZM396.77 491.72L399.33 487.29L394.21 487.29ZM402.83 490.84L405.38 486.41L400.27 486.41ZM408.9 490.08L411.45 485.65L406.34 485.65ZM414.98 489.45L417.54 485.02L412.42 485.02ZM421.08 488.99L423.64 484.56L418.52 484.56ZM427.19 488.68L429.75 484.25L424.63 484.25ZM433.3 488.37L435.86 483.94L430.75 483.94ZM439.42 488.06L441.97 483.62L436.86 483.62ZM445.52 487.67L448.08 483.24L442.96 483.24ZM451.63 487.26L454.19 482.82L449.07 482.82ZM457.73 486.88L460.29 482.45L455.18 482.45ZM463.84 486.52L466.4 482.09L461.28 482.09ZM469.96 486.37L472.52 481.94L467.4 481.94ZM476.08 486.26L478.64 481.83L473.52 481.83ZM482.19 485.97L484.75 481.54L479.63 481.54ZM488.3 485.65L490.86 481.22L485.74 481.22Z" fill="none" stroke="#8181c6" stroke-width="0.9"/>
<path d="M345.7 436.8H349.5V440.6H345.7ZM345.7 436.8L349.5 440.6M345.7 440.6L349.5 436.8M351.61 434.43H355.41V438.23H351.61ZM351.61 434.43L355.41 438.23M351.61 438.23L355.41 434.43M357.53 432.09H361.33V435.89H357.53ZM357.53 432.09L361.33 435.89M357.53 435.89L361.33 432.09M363.89 431.77H367.69V435.57H363.89ZM363.89 431.77L367.69 435.57M363.89 435.57L367.69 431.77M370.24 431.67H374.04V435.47H370.24ZM370.24 431.67L374.04 435.47M370.24 435.47L374.04 431.67M376.54 432.63H380.34V436.43H376.54ZM376.54 432.63L380.34 436.43M376.54 436.43L380.34 432.63M382.86 433.3H386.66V437.1H382.86ZM382.86 433.3L386.66 437.1M382.86 437.1L386.66 433.3M389.23 433.3H393.03V437.1H389.23ZM389.23 433.3L393.03 437.1M389.23 437.1L393.03 433.3M395.47 432.44H399.27V436.24H395.47ZM395.47 432.44L399.27 436.24M395.47 436.24L399.27 432.44M401.57 430.62H405.37V434.42H401.57ZM401.57 430.62L405.37 434.42M401.57 434.42L405.37 430.62M407.75 429.09H411.55V432.89H407.75ZM407.75 429.09L411.55 432.89M407.75 432.89L411.55 429.09M413.99 427.81H417.79V431.61H413.99ZM413.99 427.81L417.79 431.61M413.99 431.61L417.79 427.81M420.14 426.17H423.94V429.97H420.14ZM420.14 426.17L423.94 429.97M420.14 429.97L423.94 426.17M426.25 424.36H430.05V428.16H426.25ZM426.25 424.36L430.05 428.16M426.25 428.16L430.05 424.36M432.35 422.54H436.15V426.34H432.35ZM432.35 422.54L436.15 426.34M432.35 426.34L436.15 422.54M438.46 420.71H442.26V424.51H438.46ZM438.46 420.71L442.26 424.51M438.46 424.51L442.26 420.71M444.4 418.43H448.2V422.23H444.4ZM444.4 418.43L448.2 422.23M444.4 422.23L448.2 418.43M450.31 416.06H454.11V419.86H450.31ZM450.31 416.06L454.11 419.86M450.31 419.86L454.11 416.06M456.14 413.48H459.94V417.28H456.14ZM456.14 413.48L459.94 417.28M456.14 417.28L459.94 413.48M461.95 410.87H465.75V414.67H461.95ZM461.95 410.87L465.75 414.67M461.95 414.67L465.75 410.87M468.19 409.86H471.99V413.66H468.19ZM468.19 409.86L471.99 413.66M468.19 413.66L471.99 409.86M473.95 412.37H477.75V416.17H473.95ZM473.95 412.37L477.75 416.17M473.95 416.17L477.75 412.37M480.07 413.78H483.87V417.58H480.07ZM480.07 413.78L483.87 417.58M480.07 417.58L483.87 413.78M486.4 414.5H490.2V418.3H486.4ZM486.4 414.5L490.2 418.3M486.4 418.3L490.2 414.5" fill="none" stroke="#8ad5c2" stroke-width="0.9"/>
<path d="M334.19 492.09L337.61 495.51M334.19 495.51L337.61 492.09M333.48 493.8H338.32M335.9 491.38V496.22M340.36 490.88L343.78 494.3M340.36 494.3L343.78 490.88M339.65 492.59H344.49M342.07 490.17V495.01M346.52 489.66L349.94 493.08M346.52 493.08L349.94 489.66M345.82 491.37H350.65M348.23 488.95V493.79M352.68 488.4L356.1 491.82M352.68 491.82L356.1 488.4M351.97 490.11H356.81M354.39 487.69V492.53M358.84 487.14L362.26 490.56M358.84 490.56L362.26 487.14M358.13 488.85H362.97M360.55 486.44V491.27M365.01 485.93L368.43 489.35M365.01 489.35L368.43 485.93M364.3 487.64H369.14M366.72 485.22V490.06M371.17 484.71L374.59 488.13M371.17 488.13L374.59 484.71M370.46 486.42H375.3M372.88 484V488.84M377.33 483.45L380.75 486.87M377.33 486.87L380.75 483.45M376.62 485.16H381.46M379.04 482.75V487.58M383.52 482.34L386.94 485.76M383.52 485.76L386.94 482.34M382.81 484.05H387.64M385.23 481.63V486.47M389.74 481.43L393.16 484.85M389.74 484.85L393.16 481.43M389.03 483.14H393.86M391.45 480.73V485.56M395.95 480.5L399.37 483.92M395.95 483.92L399.37 480.5M395.24 482.21H400.08M397.66 479.8V484.63M402.16 479.55L405.58 482.97M402.16 482.97L405.58 479.55M401.46 481.26H406.29M403.87 478.84V483.68M408.38 478.62L411.8 482.04M408.38 482.04L411.8 478.62M407.67 480.33H412.51M410.09 477.92V482.75M414.6 477.72L418.02 481.14M414.6 481.14L418.02 477.72M413.89 479.43H418.73M416.31 477.01V481.85M420.83 476.86L424.25 480.28M420.83 480.28L424.25 476.86M420.12 478.57H424.96M422.54 476.15V480.99M427.06 476.02L430.48 479.44M427.06 479.44L430.48 476.02M426.35 477.73H431.19M428.77 475.31V480.14M433.3 475.26L436.72 478.68M433.3 478.68L436.72 475.26M432.59 476.97H437.42M435.01 474.55V479.38M439.54 474.51L442.96 477.93M439.54 477.93L442.96 474.51M438.83 476.22H443.67M441.25 473.8V478.64M445.81 474.18L449.23 477.6M445.81 477.6L449.23 474.18M445.11 475.89H449.94M447.52 473.47V478.3M452.09 473.85L455.51 477.27M452.09 477.27L455.51 473.85M451.38 475.56H456.22M453.8 473.15V477.98M458.37 473.54L461.79 476.96M458.37 476.96L461.79 473.54M457.66 475.25H462.5M460.08 472.83V477.66M464.64 473.2L468.06 476.62M464.64 476.62L468.06 473.2M463.94 474.91H468.77M466.35 472.49V477.32M470.92 472.79L474.34 476.21M470.92 476.21L474.34 472.79M470.21 474.5H475.05M472.63 472.08V476.92M477.19 472.39L480.61 475.81M477.19 475.81L480.61 472.39M476.48 474.1H481.32M478.9 471.68V476.52" fill="none" stroke="#e23c1c" stroke-width="0.9"/>
<path d="M427.3 412.51L429.99 415.2L427.3 417.89L424.61 415.2ZM425.82 415.2H428.78M427.3 413.72V416.68M433.25 412.51L435.94 415.2L433.25 417.89L430.56 415.2ZM431.77 415.2H434.73M433.25 413.72V416.68M439.2 412.51L441.89 415.2L439.2 417.89L436.52 415.2ZM437.73 415.2H440.68M439.2 413.72V416.68M445.15 412.51L447.84 415.2L445.15 417.89L442.47 415.2ZM443.68 415.2H446.63M445.15 413.72V416.68M451.11 412.51L453.79 415.2L451.11 417.89L448.42 415.2ZM449.63 415.2H452.58M451.11 413.72V416.68M457.06 412.51L459.74 415.2L457.06 417.89L454.37 415.2ZM455.58 415.2H458.54M457.06 413.72V416.68M463.01 412.51L465.7 415.2L463.01 417.89L460.32 415.2ZM461.53 415.2H464.49M463.01 413.72V416.68M468.95 412.79L471.64 415.48L468.95 418.16L466.26 415.48ZM467.47 415.48H470.43M468.95 414V416.96M474.89 413.2L477.58 415.88L474.89 418.57L472.2 415.88ZM473.41 415.88H476.37M474.89 414.41V417.36M480.83 413.61L483.51 416.29L480.83 418.98L478.14 416.29ZM479.35 416.29H482.3M480.83 414.81V417.77M486.72 414.37L489.41 417.06L486.72 419.75L484.04 417.06ZM485.25 417.06H488.2M486.72 415.58V418.54M492.61 415.27L495.3 417.96L492.61 420.64L489.92 417.96ZM491.13 417.96H494.09M492.61 416.48V419.44M498.52 415.94L501.21 418.63L498.52 421.32L495.83 418.63ZM497.04 418.63H500M498.52 417.15V420.11M504.44 416.54L507.13 419.22L504.44 421.91L501.76 419.22ZM502.96 419.22H505.92M504.44 417.75V420.7M510.38 416.88L513.07 419.57L510.38 422.25L507.7 419.57ZM508.91 419.57H511.86M510.38 418.09V421.04M516.33 417.18L519.01 419.87L516.33 422.56L513.64 419.87ZM514.85 419.87H517.8M516.33 418.39V421.35M522.27 416.94L524.96 419.62L522.27 422.31L519.58 419.62ZM520.79 419.62H523.75M522.27 418.15V421.1M528.21 416.63L530.9 419.32L528.21 422.01L525.53 419.32ZM526.74 419.32H529.69M528.21 417.84V420.8M534.15 416.14L536.83 418.83L534.15 421.52L531.46 418.83ZM532.67 418.83H535.62M534.15 417.35V420.31M540.1 416.11L542.78 418.8L540.1 421.49L537.41 418.8ZM538.62 418.8H541.57M540.1 417.32V420.28M546.05 416.11L548.73 418.8L546.05 421.49L543.36 418.8ZM544.57 418.8H547.53M546.05 417.32V420.28M552 416.11L554.69 418.8L552 421.49L549.31 418.8ZM550.52 418.8H553.48M552 417.32V420.28M557.94 415.81L560.63 418.5L557.94 421.19L555.25 418.5ZM556.46 418.5H559.42M557.94 417.02V419.98M563.8 416.11L566.49 418.8L563.8 421.49L561.11 418.8ZM562.32 418.8H565.28M563.8 417.32V420.28" fill="none" stroke="#7a5a3e" stroke-width="0.9"/>
<path d="M363.3 478a1.9 1.9 0 1 0 3.8 0a1.9 1.9 0 1 0 -3.8 0ZM364.06 478H366.34M365.2 476.86V479.14M368.21 477.24a1.9 1.9 0 1 0 3.8 0a1.9 1.9 0 1 0 -3.8 0ZM368.97 477.24H371.25M370.11 476.1V478.38M373.12 476.49a1.9 1.9 0 1 0 3.8 0a1.9 1.9 0 1 0 -3.8 0ZM373.88 476.49H376.16M375.02 475.35V477.63M378.04 475.76a1.9 1.9 0 1 0 3.8 0a1.9 1.9 0 1 0 -3.8 0ZM378.8 475.76H381.08M379.94 474.62V476.9M382.95 475.04a1.9 1.9 0 1 0 3.8 0a1.9 1.9 0 1 0 -3.8 0ZM383.71 475.04H385.99M384.85 473.9V476.18M387.87 474.32a1.9 1.9 0 1 0 3.8 0a1.9 1.9 0 1 0 -3.8 0ZM388.63 474.32H390.91M389.77 473.18V475.46M392.78 473.57a1.9 1.9 0 1 0 3.8 0a1.9 1.9 0 1 0 -3.8 0ZM393.54 473.57H395.82M394.68 472.43V474.71M397.69 472.82a1.9 1.9 0 1 0 3.8 0a1.9 1.9 0 1 0 -3.8 0ZM398.45 472.82H400.73M399.59 471.68V473.96M402.6 472.07a1.9 1.9 0 1 0 3.8 0a1.9 1.9 0 1 0 -3.8 0ZM403.36 472.07H405.64M404.5 470.93V473.21M407.51 471.31a1.9 1.9 0 1 0 3.8 0a1.9 1.9 0 1 0 -3.8 0ZM408.27 471.31H410.55M409.41 470.17V472.45M412.45 470.8a1.9 1.9 0 1 0 3.8 0a1.9 1.9 0 1 0 -3.8 0ZM413.21 470.8H415.49M414.35 469.66V471.94M417.41 470.59a1.9 1.9 0 1 0 3.8 0a1.9 1.9 0 1 0 -3.8 0ZM418.17 470.59H420.45M419.31 469.45V471.73M422.38 470.4a1.9 1.9 0 1 0 3.8 0a1.9 1.9 0 1 0 -3.8 0ZM423.14 470.4H425.42M424.28 469.26V471.54M427.34 470.4a1.9 1.9 0 1 0 3.8 0a1.9 1.9 0 1 0 -3.8 0ZM428.1 470.4H430.38M429.24 469.26V471.54M432.31 470.4a1.9 1.9 0 1 0 3.8 0a1.9 1.9 0 1 0 -3.8 0ZM433.07 470.4H435.35M434.21 469.26V471.54M437.28 470.4a1.9 1.9 0 1 0 3.8 0a1.9 1.9 0 1 0 -3.8 0ZM438.04 470.4H440.32M439.18 469.26V471.54M442.25 470.4a1.9 1.9 0 1 0 3.8 0a1.9 1.9 0 1 0 -3.8 0ZM443.01 470.4H445.29M444.15 469.26V471.54M447.22 470.35a1.9 1.9 0 1 0 3.8 0a1.9 1.9 0 1 0 -3.8 0ZM447.98 470.35H450.26M449.12 469.21V471.49M452.19 470.23a1.9 1.9 0 1 0 3.8 0a1.9 1.9 0 1 0 -3.8 0ZM452.95 470.23H455.23M454.09 469.09V471.37M457.15 470.1a1.9 1.9 0 1 0 3.8 0a1.9 1.9 0 1 0 -3.8 0ZM457.91 470.1H460.19M459.05 468.96V471.24M462.12 469.97a1.9 1.9 0 1 0 3.8 0a1.9 1.9 0 1 0 -3.8 0ZM462.88 469.97H465.16M464.02 468.83V471.11M467.09 469.84a1.9 1.9 0 1 0 3.8 0a1.9 1.9 0 1 0 -3.8 0ZM467.85 469.84H470.13M468.99 468.7V470.98M472.04 469.56a1.9 1.9 0 1 0 3.8 0a1.9 1.9 0 1 0 -3.8 0ZM472.8 469.56H475.08M473.94 468.42V470.7M477 469.2a1.9 1.9 0 1 0 3.8 0a1.9 1.9 0 1 0 -3.8 0ZM477.76 469.2H480.04M478.9 468.06V470.34" fill="none" stroke="#4c4caa" stroke-width="0.9"/>
<path d="M474 299.26L476.63 303.82L471.37 303.82ZM474 305.34L476.63 300.78L471.37 300.78ZM480.57 299.26L483.2 303.82L477.93 303.82ZM480.57 305.34L483.2 300.78L477.93 300.78ZM487.13 299.26L489.76 303.82L484.5 303.82ZM487.13 305.34L489.76 300.78L484.5 300.78ZM493.7 299.26L496.33 303.82L491.06 303.82ZM493.7 305.34L496.33 300.78L491.06 300.78ZM500.21 299.89L502.84 304.45L497.58 304.45ZM500.21 305.97L502.84 301.41L497.58 301.41ZM506.69 300.94L509.32 305.5L504.06 305.5ZM506.69 307.02L509.32 302.46L504.06 302.46ZM512.76 303.39L515.39 307.95L510.13 307.95ZM512.76 309.47L515.39 304.91L510.13 304.91ZM518.61 306.37L521.25 310.93L515.98 310.93ZM518.61 312.45L521.25 307.89L515.98 307.89ZM524.66 308.9L527.29 313.46L522.03 313.46ZM524.66 314.98L527.29 310.42L522.03 310.42ZM530.99 310.66L533.62 315.22L528.35 315.22ZM530.99 316.74L533.62 312.18L528.35 312.18ZM537.29 312.5L539.92 317.06L534.66 317.06ZM537.29 318.58L539.92 314.02L534.66 314.02ZM543.56 314.44L546.19 319L540.93 319ZM543.56 320.52L546.19 315.96L540.93 315.96ZM549.85 316.33L552.48 320.89L547.21 320.89ZM549.85 322.41L552.48 317.85L547.21 317.85ZM556.22 317.89L558.85 322.45L553.58 322.45ZM556.22 323.97L558.85 319.41L553.58 319.41ZM562.71 318.8L565.34 323.36L560.08 323.36ZM562.71 324.88L565.34 320.32L560.08 320.32ZM569.26 319.27L571.89 323.83L566.63 323.83ZM569.26 325.35L571.89 320.79L566.63 320.79ZM575.82 319.45L578.45 324.01L573.19 324.01ZM575.82 325.53L578.45 320.97L573.19 320.97ZM582.34 320.23L584.97 324.79L579.71 324.79ZM582.34 326.31L584.97 321.75L579.71 321.75ZM588.51 322.3L591.15 326.86L585.88 326.86ZM588.51 328.38L591.15 323.82L585.88 323.82ZM594.5 324.99L597.13 329.55L591.87 329.55ZM594.5 331.07L597.13 326.51L591.87 326.51ZM600.39 327.9L603.02 332.46L597.75 332.46ZM600.39 333.98L603.02 329.42L597.75 329.42ZM606.26 330.84L608.89 335.4L603.62 335.4ZM606.26 336.92L608.89 332.36L603.62 332.36ZM612.13 333.77L614.76 338.33L609.5 338.33ZM612.13 339.85L614.76 335.29L609.5 335.29ZM618.2 336.26L620.83 340.82L615.57 340.82ZM618.2 342.34L620.83 337.78L615.57 337.78Z" fill="none" stroke="#e4452a" stroke-width="0.9"/>
<path d="M496.7 374.3H500.5V378.1H496.7ZM502.36 375.34H506.16V379.14H502.36ZM508.01 376.4H511.81V380.2H508.01ZM513.73 376.84H517.53V380.64H513.73ZM519.48 376.9H523.28V380.7H519.48ZM525.04 378.09H528.84V381.89H525.04ZM530 380.95H533.8V384.75H530ZM534.88 383.98H538.68V387.78H534.88ZM540.02 386.56H543.82V390.36H540.02ZM545.56 388.11H549.36V391.91H545.56ZM551.11 389.6H554.91V393.4H551.11ZM556.7 390.94H560.5V394.74H556.7ZM562.33 392.13H566.13V395.93H562.33ZM567.97 393.22H571.77V397.02H567.97ZM573.63 394.26H577.43V398.06H573.63ZM579.29 395.28H583.09V399.08H579.29ZM584.95 396.29H588.75V400.09H584.95ZM590.58 397.44H594.38V401.24H590.58ZM596.23 398.54H600.03V402.34H596.23ZM601.92 399.33H605.72V403.13H601.92ZM607.59 400.28H611.39V404.08H607.59ZM613.07 402.01H616.87V405.81H613.07ZM618.47 403.93H622.27V407.73H618.47ZM624.1 405.1H627.9V408.9H624.1Z" fill="#9fcfa8" stroke="#5aa66a" stroke-width="0.9"/>
<path d="M395.4 366.8a1.9 1.9 0 1 0 3.8 0a1.9 1.9 0 1 0 -3.8 0ZM395.4 364.9L399.2 368.7M395.4 368.7L399.2 364.9M398.17 371.29a1.9 1.9 0 1 0 3.8 0a1.9 1.9 0 1 0 -3.8 0ZM398.17 369.39L401.97 373.19M398.17 373.19L401.97 369.39M402.47 374.32a1.9 1.9 0 1 0 3.8 0a1.9 1.9 0 1 0 -3.8 0ZM402.47 372.42L406.27 376.22M402.47 376.22L406.27 372.42M407.39 376.08a1.9 1.9 0 1 0 3.8 0a1.9 1.9 0 1 0 -3.8 0ZM407.39 374.18L411.19 377.98M407.39 377.98L411.19 374.18M412.3 374.05a1.9 1.9 0 1 0 3.8 0a1.9 1.9 0 1 0 -3.8 0ZM412.3 372.15L416.1 375.95M412.3 375.95L416.1 372.15M416.39 370.72a1.9 1.9 0 1 0 3.8 0a1.9 1.9 0 1 0 -3.8 0ZM416.39 368.82L420.19 372.62M416.39 372.62L420.19 368.82M420.36 367.2a1.9 1.9 0 1 0 3.8 0a1.9 1.9 0 1 0 -3.8 0ZM420.36 365.3L424.16 369.1M420.36 369.1L424.16 365.3M424.31 363.65a1.9 1.9 0 1 0 3.8 0a1.9 1.9 0 1 0 -3.8 0ZM424.31 361.75L428.11 365.55M424.31 365.55L428.11 361.75M428.98 361.16a1.9 1.9 0 1 0 3.8 0a1.9 1.9 0 1 0 -3.8 0ZM428.98 359.26L432.78 363.06M428.98 363.06L432.78 359.26M433.96 359.35a1.9 1.9 0 1 0 3.8 0a1.9 1.9 0 1 0 -3.8 0ZM433.96 357.45L437.76 361.25M433.96 361.25L437.76 357.45M439.15 358.6a1.9 1.9 0 1 0 3.8 0a1.9 1.9 0 1 0 -3.8 0ZM439.15 356.7L442.95 360.5M439.15 360.5L442.95 356.7M444.46 358.34a1.9 1.9 0 1 0 3.8 0a1.9 1.9 0 1 0 -3.8 0ZM444.46 356.44L448.26 360.24M444.46 360.24L448.26 356.44M449.75 358a1.9 1.9 0 1 0 3.8 0a1.9 1.9 0 1 0 -3.8 0ZM449.75 356.1L453.55 359.9M449.75 359.9L453.55 356.1M455.06 358a1.9 1.9 0 1 0 3.8 0a1.9 1.9 0 1 0 -3.8 0ZM455.06 356.1L458.86 359.9M455.06 359.9L458.86 356.1M460.37 358a1.9 1.9 0 1 0 3.8 0a1.9 1.9 0 1 0 -3.8 0ZM460.37 356.1L464.17 359.9M460.37 359.9L464.17 356.1M465.6 358.83a1.9 1.9 0 1 0 3.8 0a1.9 1.9 0 1 0 -3.8 0ZM465.6 356.93L469.4 360.73M465.6 360.73L469.4 356.93M470.8 359.89a1.9 1.9 0 1 0 3.8 0a1.9 1.9 0 1 0 -3.8 0ZM470.8 357.99L474.6 361.79M470.8 361.79L474.6 357.99M476.02 360.87a1.9 1.9 0 1 0 3.8 0a1.9 1.9 0 1 0 -3.8 0ZM476.02 358.97L479.82 362.77M476.02 362.77L479.82 358.97M481.25 361.75a1.9 1.9 0 1 0 3.8 0a1.9 1.9 0 1 0 -3.8 0ZM481.25 359.85L485.05 363.65M481.25 363.65L485.05 359.85M486.5 362.57a1.9 1.9 0 1 0 3.8 0a1.9 1.9 0 1 0 -3.8 0ZM486.5 360.67L490.3 364.47M486.5 364.47L490.3 360.67M491.8 362.7a1.9 1.9 0 1 0 3.8 0a1.9 1.9 0 1 0 -3.8 0ZM491.8 360.8L495.6 364.6M491.8 364.6L495.6 360.8M497 361.78a1.9 1.9 0 1 0 3.8 0a1.9 1.9 0 1 0 -3.8 0ZM497 359.88L500.8 363.68M497 363.68L500.8 359.88M502.15 360.5a1.9 1.9 0 1 0 3.8 0a1.9 1.9 0 1 0 -3.8 0ZM502.15 358.6L505.95 362.4M502.15 362.4L505.95 358.6M507.3 359.2a1.9 1.9 0 1 0 3.8 0a1.9 1.9 0 1 0 -3.8 0ZM507.3 357.3L511.1 361.1M507.3 361.1L511.1 357.3" fill="none" stroke="#74308a" stroke-width="0.9"/>
<path d="M291 359.6H294.8V363.4H291ZM291 363.4L292.9 359.6L294.8 363.4M299 361.7H302.8V365.5H299ZM299 365.5L300.9 361.7L302.8 365.5M306 364.1H309.8V367.9H306ZM306 367.9L307.9 364.1L309.8 367.9M313.3 365.3H317.1V369.1H313.3ZM313.3 369.1L315.2 365.3L317.1 369.1M320.9 366.1H324.7V369.9H320.9ZM320.9 369.9L322.8 366.1L324.7 369.9M328.3 366.1H332.1V369.9H328.3ZM328.3 369.9L330.2 366.1L332.1 369.9M335.6 364.9H339.4V368.7H335.6ZM335.6 368.7L337.5 364.9L339.4 368.7M342 363.4H345.8V367.2H342ZM342 367.2L343.9 363.4L345.8 367.2M349 361.7H352.8V365.5H349ZM349 365.5L350.9 361.7L352.8 365.5M355.5 359.9H359.3V363.7H355.5ZM355.5 363.7L357.4 359.9L359.3 363.7M362.8 358.2H366.6V362H362.8ZM362.8 362L364.7 358.2L366.6 362M369.6 357.3H373.4V361.1H369.6ZM369.6 361.1L371.5 357.3L373.4 361.1M376.4 355.9H380.2V359.7H376.4ZM376.4 359.7L378.3 355.9L380.2 359.7M382.7 354.4H386.5V358.2H382.7ZM382.7 358.2L384.6 354.4L386.5 358.2M389.3 352.8H393.1V356.6H389.3ZM389.3 356.6L391.2 352.8L393.1 356.6M395.9 351.4H399.7V355.2H395.9ZM395.9 355.2L397.8 351.4L399.7 355.2M402.4 349.7H406.2V353.5H402.4ZM402.4 353.5L404.3 349.7L406.2 353.5M408.3 348.1H412.1V351.9H408.3ZM408.3 351.9L410.2 348.1L412.1 351.9M414.1 346.7H417.9V350.5H414.1ZM414.1 350.5L416 346.7L417.9 350.5M418.2 345.3H422V349.1H418.2ZM418.2 349.1L420.1 345.3L422 349.1M421.7 344.1H425.5V347.9H421.7ZM421.7 347.9L423.6 344.1L425.5 347.9M427 342.3H430.8V346.1H427ZM427 346.1L428.9 342.3L430.8 346.1M433.5 340.6H437.3V344.4H433.5ZM433.5 344.4L435.4 340.6L437.3 344.4M439.6 338.5H443.4V342.3H439.6ZM439.6 342.3L441.5 338.5L443.4 342.3M446.3 336.6H450.1V340.4H446.3ZM446.3 340.4L448.2 336.6L450.1 340.4M452.8 334.9H456.6V338.7H452.8ZM452.8 338.7L454.7 334.9L456.6 338.7M459.1 332.9H462.9V336.7H459.1ZM459.1 336.7L461 332.9L462.9 336.7M466.2 330.3H470V334.1H466.2ZM466.2 334.1L468.1 330.3L470 334.1M472.7 328.8H476.5V332.6H472.7ZM472.7 332.6L474.6 328.8L476.5 332.6M479.1 328H482.9V331.8H479.1ZM479.1 331.8L481 328L482.9 331.8M485.6 329.2H489.4V333H485.6ZM485.6 333L487.5 329.2L489.4 333M491.5 328.4H495.3V332.2H491.5ZM491.5 332.2L493.4 328.4L495.3 332.2" fill="none" stroke="#2c7d7d" stroke-width="0.9"/>
<path d="M180.33 488.53H183.67V491.87H180.33ZM184.33 488.43H187.67V491.77H184.33ZM188.33 488.43H191.67V491.77H188.33ZM195.23 488.33H198.57V491.67H195.23ZM207.03 488.33H210.37V491.67H207.03ZM218.93 487.93H222.27V491.27H218.93ZM230.73 487.83H234.07V491.17H230.73ZM242.63 487.43H245.97V490.77H242.63ZM254.53 487.13H257.87V490.47H254.53ZM264.63 487.13H267.97V490.47H264.63ZM276.53 486.63H279.87V489.97H276.53ZM288.33 486.23H291.67V489.57H288.33ZM298.53 485.73H301.87V489.07H298.53ZM307.03 485.43H310.37V488.77H307.03ZM315.43 485.43H318.77V488.77H315.43ZM323.93 485.43H327.27V488.77H323.93ZM334.13 484.93H337.47V488.27H334.13ZM342.43 484.53H345.77V487.87H342.43ZM351.83 484.53H355.17V487.87H351.83ZM361.13 483.93H364.47V487.27H361.13ZM370.53 483.93H373.87V487.27H370.53ZM381.33 483.33H384.67V486.67H381.33ZM391.33 483.13H394.67V486.47H391.33ZM401.03 482.73H404.37V486.07H401.03Z" fill="#c4502f" stroke="#c4502f" stroke-width="0.6"/>
<path d="M314.88 515.5a1.52 1.52 0 1 0 3.04 0a1.52 1.52 0 1 0 -3.04 0ZM321.66 515.47a1.52 1.52 0 1 0 3.04 0a1.52 1.52 0 1 0 -3.04 0ZM328.45 515.44a1.52 1.52 0 1 0 3.04 0a1.52 1.52 0 1 0 -3.04 0ZM335.23 515.4a1.52 1.52 0 1 0 3.04 0a1.52 1.52 0 1 0 -3.04 0ZM342.02 515.37a1.52 1.52 0 1 0 3.04 0a1.52 1.52 0 1 0 -3.04 0ZM348.8 515.34a1.52 1.52 0 1 0 3.04 0a1.52 1.52 0 1 0 -3.04 0ZM355.58 515.31a1.52 1.52 0 1 0 3.04 0a1.52 1.52 0 1 0 -3.04 0ZM362.37 515.28a1.52 1.52 0 1 0 3.04 0a1.52 1.52 0 1 0 -3.04 0ZM369.15 515.24a1.52 1.52 0 1 0 3.04 0a1.52 1.52 0 1 0 -3.04 0ZM375.94 515.21a1.52 1.52 0 1 0 3.04 0a1.52 1.52 0 1 0 -3.04 0ZM382.72 515.18a1.52 1.52 0 1 0 3.04 0a1.52 1.52 0 1 0 -3.04 0ZM389.5 515.15a1.52 1.52 0 1 0 3.04 0a1.52 1.52 0 1 0 -3.04 0ZM396.29 515.12a1.52 1.52 0 1 0 3.04 0a1.52 1.52 0 1 0 -3.04 0ZM403.07 515.08a1.52 1.52 0 1 0 3.04 0a1.52 1.52 0 1 0 -3.04 0ZM409.86 515.05a1.52 1.52 0 1 0 3.04 0a1.52 1.52 0 1 0 -3.04 0ZM416.64 515.02a1.52 1.52 0 1 0 3.04 0a1.52 1.52 0 1 0 -3.04 0ZM423.42 514.99a1.52 1.52 0 1 0 3.04 0a1.52 1.52 0 1 0 -3.04 0ZM430.21 514.96a1.52 1.52 0 1 0 3.04 0a1.52 1.52 0 1 0 -3.04 0ZM436.99 514.92a1.52 1.52 0 1 0 3.04 0a1.52 1.52 0 1 0 -3.04 0ZM443.78 514.89a1.52 1.52 0 1 0 3.04 0a1.52 1.52 0 1 0 -3.04 0ZM450.56 514.86a1.52 1.52 0 1 0 3.04 0a1.52 1.52 0 1 0 -3.04 0ZM457.34 514.83a1.52 1.52 0 1 0 3.04 0a1.52 1.52 0 1 0 -3.04 0ZM464.13 514.8a1.52 1.52 0 1 0 3.04 0a1.52 1.52 0 1 0 -3.04 0ZM470.91 514.76a1.52 1.52 0 1 0 3.04 0a1.52 1.52 0 1 0 -3.04 0ZM477.7 514.73a1.52 1.52 0 1 0 3.04 0a1.52 1.52 0 1 0 -3.04 0ZM484.48 514.7a1.52 1.52 0 1 0 3.04 0a1.52 1.52 0 1 0 -3.04 0Z" fill="#6856b2" stroke="#6856b2" stroke-width="0.6"/>
<path d="M320 514.64L322.05 518.18L317.95 518.18ZM331.86 514.64L333.9 518.18L329.81 518.18ZM343.71 514.64L345.76 518.18L341.67 518.18ZM355.57 514.64L357.62 518.18L353.52 518.18ZM367.43 514.64L369.48 518.18L365.38 518.18ZM379.29 514.64L381.33 518.18L377.24 518.18ZM391.14 514.64L393.19 518.18L389.1 518.18ZM403 514.64L405.05 518.18L400.95 518.18ZM414.86 514.64L416.9 518.18L412.81 518.18ZM426.71 514.64L428.76 518.18L424.67 518.18ZM438.57 514.64L440.62 518.18L436.52 518.18ZM450.43 514.64L452.48 518.18L448.38 518.18ZM462.29 514.64L464.33 518.18L460.24 518.18ZM474.14 514.64L476.19 518.18L472.1 518.18ZM486 514.64L488.05 518.18L483.95 518.18ZM492 514.64L494.05 518.18L489.95 518.18ZM496 514.55L498.05 518.1L493.95 518.1ZM500 514.47L502.05 518.02L497.95 518.02ZM504 514.39L506.05 517.93L501.95 517.93ZM508 514.3L510.05 517.85L505.95 517.85ZM512 514.22L514.05 517.77L509.95 517.77ZM516 514.14L518.05 517.68L513.95 517.68ZM522 514.54L524.05 518.08L519.95 518.08ZM530 514.54L532.05 518.08L527.95 518.08ZM538 514.54L540.05 518.08L535.95 518.08ZM546.2 514.54L548.25 518.08L544.15 518.08ZM554.4 514.54L556.45 518.08L552.35 518.08Z" fill="#a8285a" stroke="#a8285a" stroke-width="0.6"/>
<path d="M250.2 516.43L251.77 518L250.2 519.57L248.63 518ZM253.15 516.43L254.72 518L253.15 519.57L251.58 518ZM256.1 516.43L257.67 518L256.1 519.57L254.53 518ZM259.05 516.43L260.62 518L259.05 519.57L257.48 518ZM262 516.43L263.57 518L262 519.57L260.43 518ZM265 516.73L266.57 518.3L265 519.87L263.43 518.3ZM266.9 516.73L268.47 518.3L266.9 519.87L265.34 518.3ZM268.81 516.73L270.38 518.3L268.81 519.87L267.24 518.3ZM270.71 516.73L272.28 518.3L270.71 519.87L269.15 518.3ZM272.62 516.73L274.19 518.3L272.62 519.87L271.05 518.3ZM274.52 516.73L276.09 518.3L274.52 519.87L272.96 518.3ZM276.43 516.73L278 518.3L276.43 519.87L274.86 518.3ZM278.33 516.73L279.9 518.3L278.33 519.87L276.77 518.3ZM280.24 516.73L281.81 518.3L280.24 519.87L278.67 518.3ZM282.14 516.73L283.71 518.3L282.14 519.87L280.58 518.3ZM284.05 516.73L285.62 518.3L284.05 519.87L282.48 518.3ZM285.95 516.73L287.52 518.3L285.95 519.87L284.38 518.3ZM287.86 516.73L289.42 518.3L287.86 519.87L286.29 518.3ZM289.76 516.73L291.33 518.3L289.76 519.87L288.19 518.3ZM291.67 516.73L293.23 518.3L291.67 519.87L290.1 518.3ZM293.57 516.73L295.14 518.3L293.57 519.87L292 518.3ZM295.48 516.73L297.04 518.3L295.48 519.87L293.91 518.3ZM297.38 516.73L298.95 518.3L297.38 519.87L295.81 518.3ZM299.29 516.73L300.85 518.3L299.29 519.87L297.72 518.3ZM301.19 516.73L302.76 518.3L301.19 519.87L299.62 518.3ZM303.1 516.73L304.66 518.3L303.1 519.87L301.53 518.3ZM305 516.73L306.57 518.3L305 519.87L303.43 518.3ZM308 516.63L309.57 518.2L308 519.77L306.43 518.2ZM312.17 516.63L313.73 518.2L312.17 519.77L310.6 518.2ZM316.33 516.63L317.9 518.2L316.33 519.77L314.77 518.2ZM320.5 516.63L322.07 518.2L320.5 519.77L318.93 518.2Z" fill="#7b7b7b" stroke="#7b7b7b" stroke-width="0.6"/>
<path d="M141.75 490.5a1.75 1.75 0 1 0 3.5 0a1.75 1.75 0 1 0 -3.5 0ZM144.75 490.4a1.75 1.75 0 1 0 3.5 0a1.75 1.75 0 1 0 -3.5 0ZM147.75 490.3a1.75 1.75 0 1 0 3.5 0a1.75 1.75 0 1 0 -3.5 0ZM150.75 490.2a1.75 1.75 0 1 0 3.5 0a1.75 1.75 0 1 0 -3.5 0ZM153.75 490.1a1.75 1.75 0 1 0 3.5 0a1.75 1.75 0 1 0 -3.5 0ZM156.75 490a1.75 1.75 0 1 0 3.5 0a1.75 1.75 0 1 0 -3.5 0ZM159.75 489.9a1.75 1.75 0 1 0 3.5 0a1.75 1.75 0 1 0 -3.5 0ZM162.75 489.8a1.75 1.75 0 1 0 3.5 0a1.75 1.75 0 1 0 -3.5 0ZM165.75 489.6a1.75 1.75 0 1 0 3.5 0a1.75 1.75 0 1 0 -3.5 0ZM168.75 489.5a1.75 1.75 0 1 0 3.5 0a1.75 1.75 0 1 0 -3.5 0ZM171.75 489.3a1.75 1.75 0 1 0 3.5 0a1.75 1.75 0 1 0 -3.5 0ZM174.75 489a1.75 1.75 0 1 0 3.5 0a1.75 1.75 0 1 0 -3.5 0ZM177.75 488.6a1.75 1.75 0 1 0 3.5 0a1.75 1.75 0 1 0 -3.5 0ZM180.75 488.1a1.75 1.75 0 1 0 3.5 0a1.75 1.75 0 1 0 -3.5 0ZM184.25 487.4a1.75 1.75 0 1 0 3.5 0a1.75 1.75 0 1 0 -3.5 0ZM188.35 486.6a1.75 1.75 0 1 0 3.5 0a1.75 1.75 0 1 0 -3.5 0ZM194.25 486.1a1.75 1.75 0 1 0 3.5 0a1.75 1.75 0 1 0 -3.5 0ZM200.25 485.7a1.75 1.75 0 1 0 3.5 0a1.75 1.75 0 1 0 -3.5 0ZM206.15 485.4a1.75 1.75 0 1 0 3.5 0a1.75 1.75 0 1 0 -3.5 0ZM212.05 484.9a1.75 1.75 0 1 0 3.5 0a1.75 1.75 0 1 0 -3.5 0ZM217.95 484.4a1.75 1.75 0 1 0 3.5 0a1.75 1.75 0 1 0 -3.5 0ZM224.25 484a1.75 1.75 0 1 0 3.5 0a1.75 1.75 0 1 0 -3.5 0ZM230.65 483.7a1.75 1.75 0 1 0 3.5 0a1.75 1.75 0 1 0 -3.5 0ZM237.15 483.5a1.75 1.75 0 1 0 3.5 0a1.75 1.75 0 1 0 -3.5 0ZM243.35 483.2a1.75 1.75 0 1 0 3.5 0a1.75 1.75 0 1 0 -3.5 0ZM250.15 482.9a1.75 1.75 0 1 0 3.5 0a1.75 1.75 0 1 0 -3.5 0ZM256.45 482.7a1.75 1.75 0 1 0 3.5 0a1.75 1.75 0 1 0 -3.5 0ZM262.85 482.3a1.75 1.75 0 1 0 3.5 0a1.75 1.75 0 1 0 -3.5 0ZM268.75 482a1.75 1.75 0 1 0 3.5 0a1.75 1.75 0 1 0 -3.5 0ZM275.05 481.7a1.75 1.75 0 1 0 3.5 0a1.75 1.75 0 1 0 -3.5 0ZM281.55 481.2a1.75 1.75 0 1 0 3.5 0a1.75 1.75 0 1 0 -3.5 0ZM287.45 480.7a1.75 1.75 0 1 0 3.5 0a1.75 1.75 0 1 0 -3.5 0ZM293.35 480.3a1.75 1.75 0 1 0 3.5 0a1.75 1.75 0 1 0 -3.5 0ZM299.25 480.3a1.75 1.75 0 1 0 3.5 0a1.75 1.75 0 1 0 -3.5 0Z" fill="#c55530" stroke="#c55530" stroke-width="0.6"/>
<path d="M106.57 503.5a1.33 1.33 0 1 0 2.66 0a1.33 1.33 0 1 0 -2.66 0ZM108.59 503.58a1.33 1.33 0 1 0 2.66 0a1.33 1.33 0 1 0 -2.66 0ZM110.6 503.67a1.33 1.33 0 1 0 2.66 0a1.33 1.33 0 1 0 -2.66 0ZM112.62 503.75a1.33 1.33 0 1 0 2.66 0a1.33 1.33 0 1 0 -2.66 0ZM114.64 503.83a1.33 1.33 0 1 0 2.66 0a1.33 1.33 0 1 0 -2.66 0ZM116.65 503.92a1.33 1.33 0 1 0 2.66 0a1.33 1.33 0 1 0 -2.66 0ZM118.67 504a1.33 1.33 0 1 0 2.66 0a1.33 1.33 0 1 0 -2.66 0ZM122.67 504.1a1.33 1.33 0 1 0 2.66 0a1.33 1.33 0 1 0 -2.66 0ZM126.67 504.3a1.33 1.33 0 1 0 2.66 0a1.33 1.33 0 1 0 -2.66 0ZM130.67 504.4a1.33 1.33 0 1 0 2.66 0a1.33 1.33 0 1 0 -2.66 0ZM134.67 504.5a1.33 1.33 0 1 0 2.66 0a1.33 1.33 0 1 0 -2.66 0ZM138.67 504.7a1.33 1.33 0 1 0 2.66 0a1.33 1.33 0 1 0 -2.66 0ZM142.67 505a1.33 1.33 0 1 0 2.66 0a1.33 1.33 0 1 0 -2.66 0ZM146.47 505.2a1.33 1.33 0 1 0 2.66 0a1.33 1.33 0 1 0 -2.66 0ZM154.87 505.2a1.33 1.33 0 1 0 2.66 0a1.33 1.33 0 1 0 -2.66 0ZM163.37 505.2a1.33 1.33 0 1 0 2.66 0a1.33 1.33 0 1 0 -2.66 0ZM170.17 505.2a1.33 1.33 0 1 0 2.66 0a1.33 1.33 0 1 0 -2.66 0ZM176.87 505.2a1.33 1.33 0 1 0 2.66 0a1.33 1.33 0 1 0 -2.66 0ZM183.67 505.2a1.33 1.33 0 1 0 2.66 0a1.33 1.33 0 1 0 -2.66 0ZM190.47 505.2a1.33 1.33 0 1 0 2.66 0a1.33 1.33 0 1 0 -2.66 0ZM197.27 505.2a1.33 1.33 0 1 0 2.66 0a1.33 1.33 0 1 0 -2.66 0ZM203.97 504.9a1.33 1.33 0 1 0 2.66 0a1.33 1.33 0 1 0 -2.66 0ZM211.67 504.9a1.33 1.33 0 1 0 2.66 0a1.33 1.33 0 1 0 -2.66 0ZM218.37 504.7a1.33 1.33 0 1 0 2.66 0a1.33 1.33 0 1 0 -2.66 0ZM225.17 504.4a1.33 1.33 0 1 0 2.66 0a1.33 1.33 0 1 0 -2.66 0ZM232.77 504.4a1.33 1.33 0 1 0 2.66 0a1.33 1.33 0 1 0 -2.66 0ZM239.57 504a1.33 1.33 0 1 0 2.66 0a1.33 1.33 0 1 0 -2.66 0ZM247.17 504a1.33 1.33 0 1 0 2.66 0a1.33 1.33 0 1 0 -2.66 0ZM253.97 503.9a1.33 1.33 0 1 0 2.66 0a1.33 1.33 0 1 0 -2.66 0ZM260.77 503.9a1.33 1.33 0 1 0 2.66 0a1.33 1.33 0 1 0 -2.66 0ZM266.67 503.9a1.33 1.33 0 1 0 2.66 0a1.33 1.33 0 1 0 -2.66 0Z" fill="#3b63ab" stroke="#3b63ab" stroke-width="0.6"/>
<path d="M169.6 506.9a1.9 1.9 0 1 0 3.8 0a1.9 1.9 0 1 0 -3.8 0ZM172.67 506.97a1.9 1.9 0 1 0 3.8 0a1.9 1.9 0 1 0 -3.8 0ZM175.74 507.04a1.9 1.9 0 1 0 3.8 0a1.9 1.9 0 1 0 -3.8 0ZM178.81 507.11a1.9 1.9 0 1 0 3.8 0a1.9 1.9 0 1 0 -3.8 0ZM181.89 507.19a1.9 1.9 0 1 0 3.8 0a1.9 1.9 0 1 0 -3.8 0ZM184.96 507.26a1.9 1.9 0 1 0 3.8 0a1.9 1.9 0 1 0 -3.8 0ZM188.03 507.33a1.9 1.9 0 1 0 3.8 0a1.9 1.9 0 1 0 -3.8 0ZM191.1 507.4a1.9 1.9 0 1 0 3.8 0a1.9 1.9 0 1 0 -3.8 0ZM195 507.4a1.9 1.9 0 1 0 3.8 0a1.9 1.9 0 1 0 -3.8 0ZM200.9 507.4a1.9 1.9 0 1 0 3.8 0a1.9 1.9 0 1 0 -3.8 0ZM206.8 507.4a1.9 1.9 0 1 0 3.8 0a1.9 1.9 0 1 0 -3.8 0ZM213.6 507.4a1.9 1.9 0 1 0 3.8 0a1.9 1.9 0 1 0 -3.8 0ZM220.4 507.4a1.9 1.9 0 1 0 3.8 0a1.9 1.9 0 1 0 -3.8 0ZM228 507.4a1.9 1.9 0 1 0 3.8 0a1.9 1.9 0 1 0 -3.8 0ZM235.6 507.2a1.9 1.9 0 1 0 3.8 0a1.9 1.9 0 1 0 -3.8 0ZM244.1 507.1a1.9 1.9 0 1 0 3.8 0a1.9 1.9 0 1 0 -3.8 0ZM252.6 506.9a1.9 1.9 0 1 0 3.8 0a1.9 1.9 0 1 0 -3.8 0ZM261 506.7a1.9 1.9 0 1 0 3.8 0a1.9 1.9 0 1 0 -3.8 0ZM269.5 506.6a1.9 1.9 0 1 0 3.8 0a1.9 1.9 0 1 0 -3.8 0ZM278 506.4a1.9 1.9 0 1 0 3.8 0a1.9 1.9 0 1 0 -3.8 0ZM285.6 506.1a1.9 1.9 0 1 0 3.8 0a1.9 1.9 0 1 0 -3.8 0ZM292.4 506.1a1.9 1.9 0 1 0 3.8 0a1.9 1.9 0 1 0 -3.8 0ZM299.1 506.1a1.9 1.9 0 1 0 3.8 0a1.9 1.9 0 1 0 -3.8 0ZM305.9 506.1a1.9 1.9 0 1 0 3.8 0a1.9 1.9 0 1 0 -3.8 0ZM311.8 505.7a1.9 1.9 0 1 0 3.8 0a1.9 1.9 0 1 0 -3.8 0ZM317.8 505.7a1.9 1.9 0 1 0 3.8 0a1.9 1.9 0 1 0 -3.8 0ZM322.8 505.7a1.9 1.9 0 1 0 3.8 0a1.9 1.9 0 1 0 -3.8 0Z" fill="none" stroke="#e59c50" stroke-width="0.9"/>
<path d="M351.6 491.9H355.4V495.7H351.6ZM357.11 491.9H360.91V495.7H357.11ZM362.62 491.9H366.42V495.7H362.62ZM368.13 491.9H371.93V495.7H368.13ZM373.64 491.9H377.44V495.7H373.64ZM379.14 491.9H382.94V495.7H379.14ZM384.65 491.9H388.45V495.7H384.65ZM390.16 492.08H393.96V495.88H390.16ZM395.66 492.36H399.46V496.16H395.66ZM401.16 492.64H404.96V496.44H401.16ZM406.66 492.92H410.46V496.72H406.66ZM412.17 493.1H415.97V496.9H412.17ZM417.68 493.1H421.48V496.9H417.68ZM423.18 493.1H426.98V496.9H423.18ZM428.69 493.1H432.49V496.9H428.69ZM434.2 493.08H438V496.88H434.2ZM439.71 492.94H443.51V496.74H439.71ZM445.22 492.8H449.02V496.6H445.22ZM450.71 492.39H454.51V496.19H450.71ZM456.2 491.97H460V495.77H456.2ZM461.7 491.66H465.5V495.46H461.7ZM467.2 491.38H471V495.18H467.2ZM472.7 491.05H476.5V494.85H472.7ZM478.2 490.7H482V494.5H478.2Z" fill="none" stroke="#6f9f6f" stroke-width="0.9"/>
<path d="M1400.2 505.55L1402.76 509.98L1397.64 509.98ZM1403.62 505.63L1406.18 510.06L1401.07 510.06ZM1407.05 505.72L1409.61 510.15L1404.49 510.15ZM1410.47 505.8L1413.03 510.24L1407.92 510.24ZM1413.9 505.89L1416.46 510.32L1411.34 510.32ZM1417.32 505.98L1419.88 510.41L1414.77 510.41ZM1420.75 506.03L1423.31 510.46L1418.19 510.46ZM1424.17 505.94L1426.73 510.37L1421.62 510.37ZM1427.6 505.86L1430.16 510.29L1425.04 510.29ZM1431.02 505.77L1433.58 510.2L1428.47 510.2ZM1434.45 505.68L1437.01 510.12L1431.89 510.12ZM1437.87 505.6L1440.43 510.03L1435.32 510.03ZM1441.3 505.48L1443.86 509.91L1438.74 509.91ZM1444.72 505.31L1447.28 509.74L1442.16 509.74ZM1448.14 505.14L1450.7 509.57L1445.58 509.57ZM1451.56 504.97L1454.12 509.4L1449 509.4ZM1454.98 504.8L1457.54 509.23L1452.43 509.23ZM1458.41 504.62L1460.97 509.06L1455.85 509.06ZM1461.83 504.62L1464.39 509.05L1459.27 509.05ZM1465.25 504.76L1467.81 509.19L1462.69 509.19ZM1468.68 504.89L1471.23 509.32L1466.12 509.32ZM1472.1 505.03L1474.66 509.46L1469.54 509.46ZM1475.52 505.17L1478.08 509.6L1472.96 509.6ZM1478.94 505.3L1481.5 509.74L1476.39 509.74ZM1482.37 505.35L1484.93 509.78L1479.81 509.78ZM1485.8 505.35L1488.35 509.78L1483.24 509.78ZM1489.22 505.35L1491.78 509.78L1486.66 509.78ZM1492.65 505.35L1495.21 509.78L1490.09 509.78ZM1496.07 505.35L1498.63 509.78L1493.52 509.78ZM1499.5 505.35L1502.06 509.78L1496.94 509.78Z" fill="none" stroke="#52abc4" stroke-width="0.9"/>
<path d="M1398.61 323.8H1403.99M1401.3 321.11V326.49M1401.51 316.2H1406.89M1404.2 313.51V318.89M1405.11 306.2H1410.49M1407.8 303.51V308.89M1410.31 286.6H1415.69M1413 283.91V289.29M1412.11 281H1417.49M1414.8 278.31V283.69M1414.41 276.3H1419.79M1417.1 273.61V278.99M1416.61 271.6H1421.99M1419.3 268.91V274.29M1419.11 262.8H1424.49M1421.8 260.11V265.49M1422.71 253.4H1428.09M1425.4 250.71V256.09M1426.21 242.9H1431.59M1428.9 240.21V245.59M1429.51 238.8H1434.89M1432.2 236.11V241.49M1432.01 239.3H1437.39M1434.7 236.61V241.99M1435.01 244.9H1440.39M1437.7 242.21V247.59M1435.81 251.4H1441.19M1438.5 248.71V254.09M1438.51 257.3H1443.89M1441.2 254.61V259.99M1442.61 262.2H1447.99M1445.3 259.51V264.89M1447.31 268.3H1452.69M1450 265.61V270.99M1452.01 281H1457.39M1454.7 278.31V283.69M1455.51 287.1H1460.89M1458.2 284.41V289.79M1459.01 293.3H1464.39M1461.7 290.61V295.99M1461.91 299.7H1467.29M1464.6 297.01V302.39M1466.01 303.3H1471.39M1468.7 300.61V305.99M1470.71 306.2H1476.09M1473.4 303.51V308.89M1474.51 310.9H1479.89M1477.2 308.21V313.59M1477.81 320.3H1483.19M1480.5 317.61V322.99M1480.71 326.1H1486.09M1483.4 323.41V328.79M1483.61 332.6H1488.99M1486.3 329.91V335.29" fill="none" stroke="#3fa87c" stroke-width="0.9"/>
<path d="M1379.22 300.51L1383.59 304.88M1379.22 304.88L1383.59 300.51M1384.22 301.31L1388.59 305.69M1384.22 305.69L1388.59 301.31M1389.22 304.01L1393.59 308.38M1389.22 308.38L1393.59 304.01M1395.02 304.01L1399.38 308.38M1395.02 308.38L1399.38 304.01M1399.72 302.21L1404.09 306.58M1399.72 306.58L1404.09 302.21M1404.41 298.12L1408.78 302.49M1404.41 302.49L1408.78 298.12M1409.12 292.81L1413.48 297.19M1409.12 297.19L1413.48 292.81M1413.22 287.21L1417.59 291.58M1413.22 291.58L1417.59 287.21M1416.72 282.31L1421.09 286.69M1416.72 286.69L1421.09 282.31M1419.41 277.01L1423.78 281.38M1419.41 281.38L1423.78 277.01M1424.12 272.71L1428.48 277.08M1424.12 277.08L1428.48 272.71M1427.82 277.62L1432.18 281.99M1427.82 281.99L1432.18 277.62M1432.52 276.42L1436.88 280.79M1432.52 280.79L1436.88 276.42M1434.32 274.81L1438.68 279.19M1434.32 279.19L1438.68 274.81M1437.22 272.92L1441.59 277.29M1437.22 277.29L1441.59 272.92M1439.82 272.81L1444.18 277.19M1439.82 277.19L1444.18 272.81M1443.12 272.31L1447.48 276.69M1443.12 276.69L1447.48 272.31M1445.82 272.01L1450.18 276.38M1445.82 276.38L1450.18 272.01M1447.82 271.71L1452.18 276.08M1447.82 276.08L1452.18 271.71M1450.32 271.12L1454.68 275.49M1450.32 275.49L1454.68 271.12M1452.52 270.62L1456.88 274.99M1452.52 274.99L1456.88 270.62M1454.82 268.81L1459.18 273.19M1454.82 273.19L1459.18 268.81M1457.22 267.01L1461.59 271.38M1457.22 271.38L1461.59 267.01M1459.82 267.81L1464.18 272.19M1459.82 272.19L1464.18 267.81M1463.02 268.81L1467.38 273.19M1463.02 273.19L1467.38 268.81M1467.12 275.31L1471.48 279.69M1467.12 279.69L1471.48 275.31M1470.62 294.01L1474.98 298.38M1470.62 298.38L1474.98 294.01" fill="none" stroke="#353580" stroke-width="0.9"/>
<path d="M1368.2 411.51L1370.89 414.2L1368.2 416.89L1365.51 414.2ZM1372.1 408.23L1374.79 410.91L1372.1 413.6L1369.41 410.91ZM1375.79 404.75L1378.48 407.44L1375.79 410.12L1373.11 407.44ZM1378.68 400.54L1381.37 403.23L1378.68 405.92L1375.99 403.23ZM1382.28 396.93L1384.97 399.62L1382.28 402.31L1379.59 399.62ZM1386.04 393.49L1388.73 396.17L1386.04 398.86L1383.35 396.17ZM1389.76 390.01L1392.45 392.7L1389.76 395.39L1387.07 392.7ZM1392.87 385.97L1395.56 388.66L1392.87 391.35L1390.19 388.66ZM1396.09 382.02L1398.78 384.7L1396.09 387.39L1393.41 384.7ZM1399.3 378.05L1401.99 380.74L1399.3 383.43L1396.61 380.74ZM1402.22 373.87L1404.9 376.56L1402.22 379.24L1399.53 376.56ZM1405.37 369.86L1408.05 372.55L1405.37 375.24L1402.68 372.55ZM1408.65 365.96L1411.34 368.65L1408.65 371.34L1405.97 368.65ZM1413.14 366.92L1415.83 369.6L1413.14 372.29L1410.45 369.6ZM1417.49 369.5L1420.18 372.18L1417.49 374.87L1414.81 372.18ZM1421.37 369.64L1424.06 372.33L1421.37 375.01L1418.69 372.33ZM1425.07 366.89L1427.76 369.57L1425.07 372.26L1422.38 369.57ZM1429.42 369.54L1432.11 372.22L1429.42 374.91L1426.73 372.22ZM1433.78 372.13L1436.47 374.82L1433.78 377.51L1431.09 374.82ZM1437.72 375.34L1440.41 378.03L1437.72 380.71L1435.04 378.03ZM1442.41 376.71L1445.09 379.4L1442.41 382.08L1439.72 379.4ZM1446.5 373.66L1449.19 376.35L1446.5 379.04L1443.81 376.35ZM1451.4 372.31L1454.09 375L1451.4 377.69L1448.71 375ZM1455.45 375.41L1458.14 378.1L1455.45 380.79L1452.76 378.1ZM1459.13 378.94L1461.81 381.63L1459.13 384.31L1456.44 381.63ZM1462.46 382.79L1465.14 385.48L1462.46 388.16L1459.77 385.48ZM1465.65 386.77L1468.34 389.45L1465.65 392.14L1462.96 389.45ZM1469 390.61L1471.69 393.3L1469 395.99L1466.31 393.3Z" fill="none" stroke="#ef8a6a" stroke-width="0.9"/>
<path d="M1161 509.75L1163.56 505.32L1158.44 505.32ZM1166.99 510.14L1169.54 505.7L1164.43 505.7ZM1172.98 510.35L1175.53 505.92L1170.42 505.92ZM1178.97 510.35L1181.53 505.92L1176.41 505.92ZM1184.97 510.21L1187.53 505.78L1182.41 505.78ZM1190.96 509.9L1193.52 505.47L1188.4 505.47ZM1196.78 508.73L1199.34 504.3L1194.22 504.3ZM1202.37 506.59L1204.93 502.15L1199.81 502.15ZM1207.83 504.11L1210.39 499.68L1205.27 499.68ZM1213.46 502.06L1216.02 497.63L1210.9 497.63ZM1219.21 500.36L1221.77 495.93L1216.65 495.93ZM1224.98 498.77L1227.54 494.34L1222.43 494.34ZM1230.87 497.61L1233.43 493.17L1228.31 493.17ZM1236.79 496.66L1239.35 492.23L1234.23 492.23ZM1242.75 496.05L1245.31 491.62L1240.19 491.62ZM1248.73 495.65L1251.29 491.22L1246.17 491.22ZM1254.73 495.65L1257.29 491.22L1252.17 491.22ZM1260.72 495.83L1263.28 491.4L1258.16 491.4ZM1266.7 496.23L1269.26 491.8L1264.14 491.8ZM1272.65 495.47L1275.21 491.04L1270.09 491.04ZM1278.62 495.15L1281.18 490.71L1276.06 490.71ZM1284.61 495.35L1287.17 490.92L1282.05 490.92ZM1290.61 495.55L1293.16 491.12L1288.05 491.12ZM1296.6 495.75L1299.16 491.32L1294.04 491.32Z" fill="none" stroke="#8181c6" stroke-width="0.9"/>
<path d="M1156.7 494.3H1160.5V498.1H1156.7ZM1156.7 494.3L1160.5 498.1M1156.7 498.1L1160.5 494.3M1162.41 491.49H1166.21V495.29H1162.41ZM1162.41 491.49L1166.21 495.29M1162.41 495.29L1166.21 491.49M1167.88 488.27H1171.68V492.07H1167.88ZM1167.88 488.27L1171.68 492.07M1167.88 492.07L1171.68 488.27M1173.12 484.67H1176.92V488.47H1173.12ZM1173.12 484.67L1176.92 488.47M1173.12 488.47L1176.92 484.67M1178.5 481.28H1182.3V485.08H1178.5ZM1178.5 481.28L1182.3 485.08M1178.5 485.08L1182.3 481.28M1184.11 478.29H1187.91V482.09H1184.11ZM1184.11 478.29L1187.91 482.09M1184.11 482.09L1187.91 478.29M1190.27 476.79H1194.07V480.59H1190.27ZM1190.27 476.79L1194.07 480.59M1190.27 480.59L1194.07 476.79M1196.6 476.1H1200.4V479.9H1196.6ZM1196.6 476.1L1200.4 479.9M1196.6 479.9L1200.4 476.1M1202.94 475.65H1206.74V479.45H1202.94ZM1202.94 475.65L1206.74 479.45M1202.94 479.45L1206.74 475.65M1209.23 474.65H1213.03V478.45H1209.23ZM1209.23 474.65L1213.03 478.45M1209.23 478.45L1213.03 474.65M1215.5 473.57H1219.3V477.37H1215.5ZM1215.5 473.57L1219.3 477.37M1215.5 477.37L1219.3 473.57M1221.85 473.22H1225.65V477.02H1221.85ZM1221.85 473.22L1225.65 477.02M1221.85 477.02L1225.65 473.22M1228.21 473.2H1232.01V477H1228.21ZM1228.21 473.2L1232.01 477M1228.21 477L1232.01 473.2M1234.57 473.02H1238.37V476.82H1234.57ZM1234.57 473.02L1238.37 476.82M1234.57 476.82L1238.37 473.02M1240.93 473.3H1244.73V477.1H1240.93ZM1240.93 473.3L1244.73 477.1M1240.93 477.1L1244.73 473.3M1247.25 473.61H1251.05V477.41H1247.25ZM1247.25 473.61L1251.05 477.41M1247.25 477.41L1251.05 473.61M1253.53 473.82H1257.33V477.62H1253.53ZM1253.53 473.82L1257.33 477.62M1253.53 477.62L1257.33 473.82M1259.77 475.08H1263.57V478.88H1259.77ZM1259.77 475.08L1263.57 478.88M1259.77 478.88L1263.57 475.08M1266.01 476.3H1269.81V480.1H1266.01ZM1266.01 476.3L1269.81 480.1M1266.01 480.1L1269.81 476.3M1272.03 478.3H1275.83V482.1H1272.03ZM1272.03 478.3L1275.83 482.1M1272.03 482.1L1275.83 478.3M1278.13 480.03H1281.93V483.83H1278.13ZM1278.13 480.03L1281.93 483.83M1278.13 483.83L1281.93 480.03M1284.42 480.89H1288.22V484.69H1284.42ZM1284.42 480.89L1288.22 484.69M1284.42 484.69L1288.22 480.89M1290.77 481.37H1294.57V485.17H1290.77ZM1290.77 481.37L1294.57 485.17M1290.77 485.17L1294.57 481.37M1297.1 481H1300.9V484.8H1297.1ZM1297.1 481L1300.9 484.8M1297.1 484.8L1300.9 481" fill="none" stroke="#8ad5c2" stroke-width="0.9"/>
<path d="M1146.39 488.39L1149.81 491.81M1146.39 491.81L1149.81 488.39M1145.68 490.1H1150.52M1148.1 487.68V492.52M1152.71 486.49L1156.13 489.91M1152.71 489.91L1156.13 486.49M1152 488.2H1156.84M1154.42 485.79V490.62M1158.83 484.03L1162.25 487.45M1158.83 487.45L1162.25 484.03M1158.13 485.74H1162.96M1160.54 483.33V488.16M1164.92 481.48L1168.34 484.9M1164.92 484.9L1168.34 481.48M1164.21 483.19H1169.05M1166.63 480.77V485.6M1170.9 478.69L1174.32 482.11M1170.9 482.11L1174.32 478.69M1170.19 480.4H1175.02M1172.61 477.98V482.82M1176.87 475.88L1180.29 479.3M1176.87 479.3L1180.29 475.88M1176.16 477.59H1180.99M1178.58 475.17V480M1182.93 473.27L1186.35 476.69M1182.93 476.69L1186.35 473.27M1182.22 474.98H1187.06M1184.64 472.56V477.4M1188.85 470.35L1192.27 473.77M1188.85 473.77L1192.27 470.35M1188.14 472.06H1192.98M1190.56 469.65V474.48M1194.92 467.77L1198.34 471.19M1194.92 471.19L1198.34 467.77M1194.21 469.48H1199.05M1196.63 467.06V471.9M1200.22 463.88L1203.64 467.3M1200.22 467.3L1203.64 463.88M1199.52 465.59H1204.35M1201.93 463.17V468.01M1205.4 459.78L1208.82 463.2M1205.4 463.2L1208.82 459.78M1204.69 461.49H1209.53M1207.11 459.07V463.91M1210.86 456.1L1214.28 459.52M1210.86 459.52L1214.28 456.1M1210.15 457.81H1214.99M1212.57 455.39V460.22M1216.64 452.93L1220.06 456.35M1216.64 456.35L1220.06 452.93M1215.94 454.64H1220.77M1218.35 452.22V457.05M1222.21 449.39L1225.63 452.81M1222.21 452.81L1225.63 449.39M1221.5 451.1H1226.34M1223.92 448.68V453.52M1227.79 445.87L1231.21 449.29M1227.79 449.29L1231.21 445.87M1227.08 447.58H1231.92M1229.5 445.16V450M1233.88 444.4L1237.3 447.82M1233.88 447.82L1237.3 444.4M1233.18 446.11H1238.01M1235.59 443.7V448.53M1240.36 445.58L1243.78 449M1240.36 449L1243.78 445.58M1239.66 447.29H1244.49M1242.07 444.87V449.71M1246.86 446.16L1250.28 449.58M1246.86 449.58L1250.28 446.16M1246.15 447.87H1250.99M1248.57 445.46V450.29M1253.44 446.06L1256.86 449.48M1253.44 449.48L1256.86 446.06M1252.74 447.77H1257.57M1255.15 445.35V450.19M1260.02 446.21L1263.44 449.63M1260.02 449.63L1263.44 446.21M1259.31 447.92H1264.15M1261.73 445.51V450.34M1266.54 445.21L1269.96 448.63M1266.54 448.63L1269.96 445.21M1265.84 446.92H1270.67M1268.25 444.5V449.34M1273.08 444.25L1276.5 447.67M1273.08 447.67L1276.5 444.25M1272.37 445.96H1277.2M1274.79 443.54V448.38M1279.27 442.04L1282.69 445.46M1279.27 445.46L1282.69 442.04M1278.56 443.75H1283.4M1280.98 441.34V446.17M1285.59 440.19L1289.01 443.61M1285.59 443.61L1289.01 440.19M1284.88 441.9H1289.72M1287.3 439.48V444.32" fill="none" stroke="#e23c1c" stroke-width="0.9"/>
<path d="M1238.4 429.01L1241.09 431.7L1238.4 434.39L1235.71 431.7ZM1236.92 431.7H1239.88M1238.4 430.22V433.18M1244.37 431.48L1247.06 434.17L1244.37 436.86L1241.69 434.17ZM1242.9 434.17H1245.85M1244.37 432.69V435.65M1250.42 433.71L1253.11 436.4L1250.42 439.09L1247.73 436.4ZM1248.94 436.4H1251.9M1250.42 434.92V437.88M1256.88 433.62L1259.57 436.31L1256.88 439L1254.19 436.31ZM1255.4 436.31H1258.36M1256.88 434.83V437.79M1263.3 433.31L1265.99 435.99L1263.3 438.68L1260.62 435.99ZM1261.83 435.99H1264.78M1263.3 434.51V437.47M1269.68 434.36L1272.36 437.05L1269.68 439.73L1266.99 437.05ZM1268.2 437.05H1271.16M1269.68 435.57V438.52M1276.01 434.15L1278.69 436.84L1276.01 439.53L1273.32 436.84ZM1274.53 436.84H1277.48M1276.01 435.36V438.32M1282.37 433.06L1285.06 435.75L1282.37 438.44L1279.68 435.75ZM1280.89 435.75H1283.85M1282.37 434.27V437.23M1288.76 432.85L1291.44 435.54L1288.76 438.23L1286.07 435.54ZM1287.28 435.54H1290.24M1288.76 434.06V437.02M1294.56 431.88L1297.25 434.57L1294.56 437.26L1291.88 434.57ZM1293.09 434.57H1296.04M1294.56 433.09V436.05M1298.88 434.21L1301.56 436.9L1298.88 439.59L1296.19 436.9ZM1297.4 436.9H1300.35M1298.88 435.42V438.38M1303.35 438.86L1306.04 441.55L1303.35 444.24L1300.66 441.55ZM1301.87 441.55H1304.83M1303.35 440.07V443.03M1307.98 443.37L1310.67 446.06L1307.98 448.74L1305.29 446.06ZM1306.5 446.06H1309.46M1307.98 444.58V447.53M1313.32 446.94L1316.01 449.63L1313.32 452.32L1310.63 449.63ZM1311.84 449.63H1314.8M1313.32 448.15V451.11M1319.36 449.25L1322.05 451.94L1319.36 454.63L1316.67 451.94ZM1317.88 451.94H1320.84M1319.36 450.46V453.42M1325.25 451.9L1327.94 454.59L1325.25 457.27L1322.56 454.59ZM1323.77 454.59H1326.73M1325.25 453.11V456.06M1331.01 454.82L1333.7 457.51L1331.01 460.2L1328.33 457.51ZM1329.54 457.51H1332.49M1331.01 456.03V458.99M1336.32 458.31L1339.01 461L1336.32 463.69L1333.64 461ZM1334.84 461H1337.8M1336.32 459.52V462.48M1342.79 458.31L1345.47 461L1342.79 463.69L1340.1 461ZM1341.31 461H1344.26M1342.79 459.52V462.48M1349.25 458.31L1351.94 461L1349.25 463.69L1346.56 461ZM1347.77 461H1350.73M1349.25 459.52V462.48M1355.1 460.97L1357.79 463.65L1355.1 466.34L1352.41 463.65ZM1353.62 463.65H1356.58M1355.1 462.18V465.13M1361.51 461.21L1364.19 463.9L1361.51 466.59L1358.82 463.9ZM1360.03 463.9H1362.98M1361.51 462.42V465.38M1367.75 461.06L1370.43 463.75L1367.75 466.43L1365.06 463.75ZM1366.27 463.75H1369.22M1367.75 462.27V465.22M1372 465.91L1374.69 468.6L1372 471.29L1369.31 468.6ZM1370.52 468.6H1373.48M1372 467.12V470.08" fill="none" stroke="#7a5a3e" stroke-width="0.9"/>
<path d="M1174.3 458.7a1.9 1.9 0 1 0 3.8 0a1.9 1.9 0 1 0 -3.8 0ZM1175.06 458.7H1177.34M1176.2 457.56V459.84M1179.16 457.22a1.9 1.9 0 1 0 3.8 0a1.9 1.9 0 1 0 -3.8 0ZM1179.92 457.22H1182.2M1181.06 456.08V458.36M1184.14 456.28a1.9 1.9 0 1 0 3.8 0a1.9 1.9 0 1 0 -3.8 0ZM1184.9 456.28H1187.18M1186.04 455.14V457.42M1189.13 455.31a1.9 1.9 0 1 0 3.8 0a1.9 1.9 0 1 0 -3.8 0ZM1189.89 455.31H1192.17M1191.03 454.17V456.45M1194.05 454.06a1.9 1.9 0 1 0 3.8 0a1.9 1.9 0 1 0 -3.8 0ZM1194.81 454.06H1197.09M1195.95 452.92V455.2M1199.11 453.59a1.9 1.9 0 1 0 3.8 0a1.9 1.9 0 1 0 -3.8 0ZM1199.87 453.59H1202.15M1201.01 452.45V454.73M1204.09 454.11a1.9 1.9 0 1 0 3.8 0a1.9 1.9 0 1 0 -3.8 0ZM1204.85 454.11H1207.13M1205.99 452.97V455.25M1209.09 454.92a1.9 1.9 0 1 0 3.8 0a1.9 1.9 0 1 0 -3.8 0ZM1209.85 454.92H1212.13M1210.99 453.78V456.06M1214.14 454.9a1.9 1.9 0 1 0 3.8 0a1.9 1.9 0 1 0 -3.8 0ZM1214.9 454.9H1217.18M1216.04 453.76V456.04M1219.12 455.27a1.9 1.9 0 1 0 3.8 0a1.9 1.9 0 1 0 -3.8 0ZM1219.88 455.27H1222.16M1221.02 454.13V456.41M1223.81 454.47a1.9 1.9 0 1 0 3.8 0a1.9 1.9 0 1 0 -3.8 0ZM1224.57 454.47H1226.85M1225.71 453.33V455.61M1228.36 452.2a1.9 1.9 0 1 0 3.8 0a1.9 1.9 0 1 0 -3.8 0ZM1229.12 452.2H1231.4M1230.26 451.06V453.34M1232.9 449.93a1.9 1.9 0 1 0 3.8 0a1.9 1.9 0 1 0 -3.8 0ZM1233.66 449.93H1235.94M1234.8 448.79V451.07M1237.49 447.77a1.9 1.9 0 1 0 3.8 0a1.9 1.9 0 1 0 -3.8 0ZM1238.25 447.77H1240.53M1239.39 446.63V448.91M1242.32 446.19a1.9 1.9 0 1 0 3.8 0a1.9 1.9 0 1 0 -3.8 0ZM1243.08 446.19H1245.36M1244.22 445.05V447.33M1246.93 444.08a1.9 1.9 0 1 0 3.8 0a1.9 1.9 0 1 0 -3.8 0ZM1247.69 444.08H1249.97M1248.83 442.94V445.22M1251.57 442.08a1.9 1.9 0 1 0 3.8 0a1.9 1.9 0 1 0 -3.8 0ZM1252.33 442.08H1254.61M1253.47 440.94V443.22M1256.55 441.1a1.9 1.9 0 1 0 3.8 0a1.9 1.9 0 1 0 -3.8 0ZM1257.31 441.1H1259.59M1258.45 439.96V442.24M1261.64 441.1a1.9 1.9 0 1 0 3.8 0a1.9 1.9 0 1 0 -3.8 0ZM1262.4 441.1H1264.68M1263.54 439.96V442.24M1266.69 440.65a1.9 1.9 0 1 0 3.8 0a1.9 1.9 0 1 0 -3.8 0ZM1267.45 440.65H1269.73M1268.59 439.51V441.79M1271.77 440.5a1.9 1.9 0 1 0 3.8 0a1.9 1.9 0 1 0 -3.8 0ZM1272.53 440.5H1274.81M1273.67 439.36V441.64M1276.84 440.73a1.9 1.9 0 1 0 3.8 0a1.9 1.9 0 1 0 -3.8 0ZM1277.6 440.73H1279.88M1278.74 439.59V441.87M1281.49 442.15a1.9 1.9 0 1 0 3.8 0a1.9 1.9 0 1 0 -3.8 0ZM1282.25 442.15H1284.53M1283.39 441.01V443.29M1285.4 445.4a1.9 1.9 0 1 0 3.8 0a1.9 1.9 0 1 0 -3.8 0ZM1286.16 445.4H1288.44M1287.3 444.26V446.54" fill="none" stroke="#4c4caa" stroke-width="0.9"/>
<path d="M1283.6 117.06L1286.23 121.62L1280.97 121.62ZM1283.6 123.14L1286.23 118.58L1280.97 118.58ZM1289 116.26L1291.63 120.82L1286.37 120.82ZM1289 122.34L1291.63 117.78L1286.37 117.78ZM1293.9 124.46L1296.53 129.02L1291.27 129.02ZM1293.9 130.54L1296.53 125.98L1291.27 125.98ZM1299.2 134.36L1301.83 138.92L1296.57 138.92ZM1299.2 140.44L1301.83 135.88L1296.57 135.88ZM1305.3 136.96L1307.93 141.52L1302.67 141.52ZM1305.3 143.04L1307.93 138.48L1302.67 138.48ZM1311.2 136.36L1313.83 140.92L1308.57 140.92ZM1311.2 142.44L1313.83 137.88L1308.57 137.88ZM1316.8 143.76L1319.43 148.32L1314.17 148.32ZM1316.8 149.84L1319.43 145.28L1314.17 145.28ZM1322.1 141.46L1324.73 146.02L1319.47 146.02ZM1322.1 147.54L1324.73 142.98L1319.47 142.98ZM1327.7 152.56L1330.33 157.12L1325.07 157.12ZM1327.7 158.64L1330.33 154.08L1325.07 154.08ZM1332.9 156.66L1335.53 161.22L1330.27 161.22ZM1332.9 162.74L1335.53 158.18L1330.27 158.18ZM1339.1 168.06L1341.73 172.62L1336.47 172.62ZM1339.1 174.14L1341.73 169.58L1336.47 169.58ZM1345.1 172.46L1347.73 177.02L1342.47 177.02ZM1345.1 178.54L1347.73 173.98L1342.47 173.98ZM1350.7 181.56L1353.33 186.12L1348.07 186.12ZM1350.7 187.64L1353.33 183.08L1348.07 183.08ZM1356.2 189.56L1358.83 194.12L1353.57 194.12ZM1356.2 195.64L1358.83 191.08L1353.57 191.08ZM1360.9 199.36L1363.53 203.92L1358.27 203.92ZM1360.9 205.44L1363.53 200.88L1358.27 200.88ZM1366.2 201.86L1368.83 206.42L1363.57 206.42ZM1366.2 207.94L1368.83 203.38L1363.57 203.38ZM1370.1 212.66L1372.73 217.22L1367.47 217.22ZM1370.1 218.74L1372.73 214.18L1367.47 214.18ZM1374.1 220.76L1376.73 225.32L1371.47 225.32ZM1374.1 226.84L1376.73 222.28L1371.47 222.28ZM1379 233.16L1381.63 237.72L1376.37 237.72ZM1379 239.24L1381.63 234.68L1376.37 234.68ZM1383.7 240.46L1386.33 245.02L1381.07 245.02ZM1383.7 246.54L1386.33 241.98L1381.07 241.98ZM1389.2 251.56L1391.83 256.12L1386.57 256.12ZM1389.2 257.64L1391.83 253.08L1386.57 253.08ZM1394.3 258.56L1396.93 263.12L1391.67 263.12ZM1394.3 264.64L1396.93 260.08L1391.67 260.08ZM1398.4 264.46L1401.03 269.02L1395.77 269.02ZM1398.4 270.54L1401.03 265.98L1395.77 265.98ZM1401.6 277.96L1404.23 282.52L1398.97 282.52ZM1401.6 284.04L1404.23 279.48L1398.97 279.48ZM1404.2 286.16L1406.83 290.72L1401.57 290.72ZM1404.2 292.24L1406.83 287.68L1401.57 287.68ZM1407.5 287.36L1410.13 291.92L1404.87 291.92ZM1407.5 293.44L1410.13 288.88L1404.87 288.88ZM1409.5 293.76L1412.13 298.32L1406.87 298.32ZM1409.5 299.84L1412.13 295.28L1406.87 295.28ZM1413 294.16L1415.63 298.72L1410.37 298.72ZM1413 300.24L1415.63 295.68L1410.37 295.68ZM1417.1 294.36L1419.73 298.92L1414.47 298.92ZM1417.1 300.44L1419.73 295.88L1414.47 295.88ZM1420.7 294.96L1423.33 299.52L1418.07 299.52ZM1420.7 301.04L1423.33 296.48L1418.07 296.48ZM1426.3 301.16L1428.93 305.72L1423.67 305.72ZM1426.3 307.24L1428.93 302.68L1423.67 302.68ZM1423.6 307.26L1426.23 311.82L1420.97 311.82ZM1423.6 313.34L1426.23 308.78L1420.97 308.78Z" fill="none" stroke="#e4452a" stroke-width="0.9"/>
<path d="M1325.5 74.2H1329.3V78H1325.5ZM1328.6 82.4H1332.4V86.2H1328.6ZM1323.5 103.8H1327.3V107.6H1323.5ZM1331.9 117H1335.7V120.8H1331.9ZM1339.2 141.3H1343V145.1H1339.2ZM1336.8 146.7H1340.6V150.5H1336.8ZM1341.3 150.4H1345.1V154.2H1341.3ZM1333.7 153.4H1337.5V157.2H1333.7ZM1319 160.7H1322.8V164.5H1319ZM1344.2 160.7H1348V164.5H1344.2ZM1335.2 166.8H1339V170.6H1335.2ZM1348.9 169.2H1352.7V173H1348.9ZM1361.6 180.1H1365.4V183.9H1361.6ZM1355.5 183.3H1359.3V187.1H1355.5ZM1312.5 191.3H1316.3V195.1H1312.5ZM1306 213.2H1309.8V217H1306ZM1367.5 211.5H1371.3V215.3H1367.5ZM1372.8 227.5H1376.6V231.3H1372.8ZM1378.9 238.8H1382.7V242.6H1378.9ZM1383.9 274.4H1387.7V278.2H1383.9ZM1388.9 291.4H1392.7V295.2H1388.9ZM1393 314.8H1396.8V318.6H1393ZM1396.1 328.1H1399.9V331.9H1396.1ZM1399.1 330.6H1402.9V334.4H1399.1ZM1402.1 326.6H1405.9V330.4H1402.1ZM1405.1 331.1H1408.9V334.9H1405.1ZM1409.1 327.9H1412.9V331.7H1409.1ZM1413.1 329.3H1416.9V333.1H1413.1ZM1417.1 327.1H1420.9V330.9H1417.1ZM1421.1 331.1H1424.9V334.9H1421.1ZM1425.1 328.9H1428.9V332.7H1425.1ZM1429.1 327.6H1432.9V331.4H1429.1ZM1432.6 326.6H1436.4V330.4H1432.6Z" fill="#9fcfa8" stroke="#5aa66a" stroke-width="0.9"/>
<path d="M1205.6 478.2a1.9 1.9 0 1 0 3.8 0a1.9 1.9 0 1 0 -3.8 0ZM1205.6 476.3L1209.4 480.1M1205.6 480.1L1209.4 476.3M1210.66 479.19a1.9 1.9 0 1 0 3.8 0a1.9 1.9 0 1 0 -3.8 0ZM1210.66 477.29L1214.46 481.09M1210.66 481.09L1214.46 477.29M1215.77 479.71a1.9 1.9 0 1 0 3.8 0a1.9 1.9 0 1 0 -3.8 0ZM1215.77 477.81L1219.57 481.61M1215.77 481.61L1219.57 477.81M1220.67 478.99a1.9 1.9 0 1 0 3.8 0a1.9 1.9 0 1 0 -3.8 0ZM1220.67 477.09L1224.47 480.89M1220.67 480.89L1224.47 477.09M1224.3 482.44a1.9 1.9 0 1 0 3.8 0a1.9 1.9 0 1 0 -3.8 0ZM1224.3 480.54L1228.1 484.34M1224.3 484.34L1228.1 480.54M1227.43 485.7a1.9 1.9 0 1 0 3.8 0a1.9 1.9 0 1 0 -3.8 0ZM1227.43 483.8L1231.23 487.6M1227.43 487.6L1231.23 483.8M1232.57 485.9a1.9 1.9 0 1 0 3.8 0a1.9 1.9 0 1 0 -3.8 0ZM1232.57 484L1236.37 487.8M1232.57 487.8L1236.37 484M1237.71 486.4a1.9 1.9 0 1 0 3.8 0a1.9 1.9 0 1 0 -3.8 0ZM1237.71 484.5L1241.51 488.3M1237.71 488.3L1241.51 484.5M1242.85 486.85a1.9 1.9 0 1 0 3.8 0a1.9 1.9 0 1 0 -3.8 0ZM1242.85 484.95L1246.65 488.75M1242.85 488.75L1246.65 484.95M1247.99 487.28a1.9 1.9 0 1 0 3.8 0a1.9 1.9 0 1 0 -3.8 0ZM1247.99 485.38L1251.79 489.18M1247.99 489.18L1251.79 485.38M1253.12 487.02a1.9 1.9 0 1 0 3.8 0a1.9 1.9 0 1 0 -3.8 0ZM1253.12 485.12L1256.92 488.92M1253.12 488.92L1256.92 485.12M1258.27 486.8a1.9 1.9 0 1 0 3.8 0a1.9 1.9 0 1 0 -3.8 0ZM1258.27 484.9L1262.07 488.7M1258.27 488.7L1262.07 484.9M1263.41 487.04a1.9 1.9 0 1 0 3.8 0a1.9 1.9 0 1 0 -3.8 0ZM1263.41 485.14L1267.21 488.94M1263.41 488.94L1267.21 485.14M1268.45 487.97a1.9 1.9 0 1 0 3.8 0a1.9 1.9 0 1 0 -3.8 0ZM1268.45 486.07L1272.25 489.87M1268.45 489.87L1272.25 486.07M1273.32 489.64a1.9 1.9 0 1 0 3.8 0a1.9 1.9 0 1 0 -3.8 0ZM1273.32 487.74L1277.12 491.54M1273.32 491.54L1277.12 487.74M1278.37 490.2a1.9 1.9 0 1 0 3.8 0a1.9 1.9 0 1 0 -3.8 0ZM1278.37 488.3L1282.17 492.1M1278.37 492.1L1282.17 488.3M1283.5 489.69a1.9 1.9 0 1 0 3.8 0a1.9 1.9 0 1 0 -3.8 0ZM1283.5 487.79L1287.3 491.59M1283.5 491.59L1287.3 487.79M1288.55 488.69a1.9 1.9 0 1 0 3.8 0a1.9 1.9 0 1 0 -3.8 0ZM1288.55 486.79L1292.35 490.59M1288.55 490.59L1292.35 486.79M1293.54 487.4a1.9 1.9 0 1 0 3.8 0a1.9 1.9 0 1 0 -3.8 0ZM1293.54 485.5L1297.34 489.3M1293.54 489.3L1297.34 485.5M1298.65 487.38a1.9 1.9 0 1 0 3.8 0a1.9 1.9 0 1 0 -3.8 0ZM1298.65 485.48L1302.45 489.28M1298.65 489.28L1302.45 485.48M1303.46 488.72a1.9 1.9 0 1 0 3.8 0a1.9 1.9 0 1 0 -3.8 0ZM1303.46 486.82L1307.26 490.62M1303.46 490.62L1307.26 486.82M1307.74 491.59a1.9 1.9 0 1 0 3.8 0a1.9 1.9 0 1 0 -3.8 0ZM1307.74 489.69L1311.54 493.49M1307.74 493.49L1311.54 489.69M1312.41 493.74a1.9 1.9 0 1 0 3.8 0a1.9 1.9 0 1 0 -3.8 0ZM1312.41 491.84L1316.21 495.64M1312.41 495.64L1316.21 491.84M1317.3 495a1.9 1.9 0 1 0 3.8 0a1.9 1.9 0 1 0 -3.8 0ZM1317.3 493.1L1321.1 496.9M1317.3 496.9L1321.1 493.1" fill="none" stroke="#74308a" stroke-width="0.9"/>
<path d="M1102.8 486.1H1106.6V489.9H1102.8ZM1102.8 489.9L1104.7 486.1L1106.6 489.9M1111.51 485.37H1115.31V489.17H1111.51ZM1111.51 489.17L1113.41 485.37L1115.31 489.17M1120.2 484.37H1124V488.17H1120.2ZM1120.2 488.17L1122.1 484.37L1124 488.17M1128.86 483.16H1132.66V486.96H1128.86ZM1128.86 486.96L1130.76 483.16L1132.66 486.96M1137.48 481.68H1141.28V485.48H1137.48ZM1137.48 485.48L1139.38 481.68L1141.28 485.48M1146.1 480.22H1149.9V484.02H1146.1ZM1146.1 484.02L1148 480.22L1149.9 484.02M1154.73 478.84H1158.53V482.64H1154.73ZM1154.73 482.64L1156.63 478.84L1158.53 482.64M1163.35 477.37H1167.15V481.17H1163.35ZM1163.35 481.17L1165.25 477.37L1167.15 481.17M1171.98 475.96H1175.78V479.76H1171.98ZM1171.98 479.76L1173.88 475.96L1175.78 479.76M1180.5 474.03H1184.3V477.83H1180.5ZM1180.5 477.83L1182.4 474.03L1184.3 477.83M1188.96 471.82H1192.76V475.62H1188.96ZM1188.96 475.62L1190.86 471.82L1192.76 475.62M1197.31 469.21H1201.11V473.01H1197.31ZM1197.31 473.01L1199.21 469.21L1201.11 473.01M1205.85 467.33H1209.65V471.13H1205.85ZM1205.85 471.13L1207.75 467.33L1209.65 471.13M1214.46 465.82H1218.26V469.62H1214.46ZM1214.46 469.62L1216.36 465.82L1218.26 469.62M1223.04 464.14H1226.84V467.94H1223.04ZM1223.04 467.94L1224.94 464.14L1226.84 467.94M1231.65 462.6H1235.45V466.4H1231.65ZM1231.65 466.4L1233.55 462.6L1235.45 466.4M1240.16 460.61H1243.96V464.41H1240.16ZM1240.16 464.41L1242.06 460.61L1243.96 464.41M1248.71 458.82H1252.51V462.62H1248.71ZM1248.71 462.62L1250.61 458.82L1252.51 462.62M1257.31 457.24H1261.11V461.04H1257.31ZM1257.31 461.04L1259.21 457.24L1261.11 461.04M1265.94 455.86H1269.74V459.66H1265.94ZM1265.94 459.66L1267.84 455.86L1269.74 459.66M1274.61 454.72H1278.41V458.52H1274.61ZM1274.61 458.52L1276.51 454.72L1278.41 458.52M1283.15 452.89H1286.95V456.69H1283.15ZM1283.15 456.69L1285.05 452.89L1286.95 456.69M1291.89 452.43H1295.69V456.23H1291.89ZM1291.89 456.23L1293.79 452.43L1295.69 456.23M1300.6 451.7H1304.4V455.5H1300.6ZM1300.6 455.5L1302.5 451.7L1304.4 455.5" fill="none" stroke="#2c7d7d" stroke-width="0.9"/>
<path d="M995.83 516.33H999.17V519.67H995.83ZM1003.79 516.27H1007.14V519.62H1003.79ZM1011.76 516.22H1015.11V519.56H1011.76ZM1019.73 516.16H1023.07V519.51H1019.73ZM1027.69 516.11H1031.04V519.45H1027.69ZM1035.66 516.05H1039.01V519.39H1035.66ZM1043.63 515.99H1046.97V519.34H1043.63ZM1051.59 515.94H1054.94V519.28H1051.59ZM1059.56 515.88H1062.91V519.23H1059.56ZM1067.53 515.83H1070.87V519.17H1067.53ZM1075.49 515.77H1078.84V519.12H1075.49ZM1083.46 515.72H1086.81V519.06H1083.46ZM1091.43 515.66H1094.77V519.01H1091.43ZM1099.39 515.61H1102.74V518.95H1099.39ZM1107.36 515.55H1110.71V518.89H1107.36ZM1115.33 515.49H1118.67V518.84H1115.33ZM1123.29 515.44H1126.64V518.78H1123.29ZM1131.26 515.38H1134.61V518.73H1131.26ZM1139.23 515.33H1142.57V518.67H1139.23ZM1147.19 515.27H1150.54V518.62H1147.19ZM1155.16 515.22H1158.51V518.56H1155.16ZM1163.13 515.16H1166.47V518.51H1163.13ZM1171.09 515.11H1174.44V518.45H1171.09ZM1179.06 515.05H1182.41V518.39H1179.06ZM1187.03 514.99H1190.37V518.34H1187.03ZM1194.99 514.94H1198.34V518.28H1194.99ZM1202.96 514.88H1206.31V518.23H1202.96ZM1210.93 514.83H1214.27V518.17H1210.93Z" fill="#c4502f" stroke="#c4502f" stroke-width="0.6"/>
<path d="M1131.48 517.3a1.52 1.52 0 1 0 3.04 0a1.52 1.52 0 1 0 -3.04 0ZM1138.04 517.29a1.52 1.52 0 1 0 3.04 0a1.52 1.52 0 1 0 -3.04 0ZM1144.6 517.28a1.52 1.52 0 1 0 3.04 0a1.52 1.52 0 1 0 -3.04 0ZM1151.16 517.26a1.52 1.52 0 1 0 3.04 0a1.52 1.52 0 1 0 -3.04 0ZM1157.72 517.25a1.52 1.52 0 1 0 3.04 0a1.52 1.52 0 1 0 -3.04 0ZM1164.28 517.24a1.52 1.52 0 1 0 3.04 0a1.52 1.52 0 1 0 -3.04 0ZM1170.84 517.23a1.52 1.52 0 1 0 3.04 0a1.52 1.52 0 1 0 -3.04 0ZM1177.4 517.22a1.52 1.52 0 1 0 3.04 0a1.52 1.52 0 1 0 -3.04 0ZM1183.96 517.2a1.52 1.52 0 1 0 3.04 0a1.52 1.52 0 1 0 -3.04 0ZM1190.52 517.19a1.52 1.52 0 1 0 3.04 0a1.52 1.52 0 1 0 -3.04 0ZM1197.08 517.18a1.52 1.52 0 1 0 3.04 0a1.52 1.52 0 1 0 -3.04 0ZM1203.64 517.17a1.52 1.52 0 1 0 3.04 0a1.52 1.52 0 1 0 -3.04 0ZM1210.2 517.16a1.52 1.52 0 1 0 3.04 0a1.52 1.52 0 1 0 -3.04 0ZM1216.76 517.14a1.52 1.52 0 1 0 3.04 0a1.52 1.52 0 1 0 -3.04 0ZM1223.32 517.13a1.52 1.52 0 1 0 3.04 0a1.52 1.52 0 1 0 -3.04 0ZM1229.88 517.12a1.52 1.52 0 1 0 3.04 0a1.52 1.52 0 1 0 -3.04 0ZM1236.44 517.11a1.52 1.52 0 1 0 3.04 0a1.52 1.52 0 1 0 -3.04 0ZM1243 517.1a1.52 1.52 0 1 0 3.04 0a1.52 1.52 0 1 0 -3.04 0ZM1249.56 517.08a1.52 1.52 0 1 0 3.04 0a1.52 1.52 0 1 0 -3.04 0ZM1256.12 517.07a1.52 1.52 0 1 0 3.04 0a1.52 1.52 0 1 0 -3.04 0ZM1262.68 517.06a1.52 1.52 0 1 0 3.04 0a1.52 1.52 0 1 0 -3.04 0ZM1269.24 517.05a1.52 1.52 0 1 0 3.04 0a1.52 1.52 0 1 0 -3.04 0ZM1275.8 517.04a1.52 1.52 0 1 0 3.04 0a1.52 1.52 0 1 0 -3.04 0ZM1282.36 517.02a1.52 1.52 0 1 0 3.04 0a1.52 1.52 0 1 0 -3.04 0ZM1288.92 517.01a1.52 1.52 0 1 0 3.04 0a1.52 1.52 0 1 0 -3.04 0ZM1295.48 517a1.52 1.52 0 1 0 3.04 0a1.52 1.52 0 1 0 -3.04 0Z" fill="#6856b2" stroke="#6856b2" stroke-width="0.6"/>
<path d="M1136 516.24L1138.05 519.78L1133.95 519.78ZM1144.42 516.23L1146.47 519.77L1142.37 519.77ZM1152.84 516.22L1154.89 519.76L1150.8 519.76ZM1161.26 516.2L1163.31 519.75L1159.22 519.75ZM1169.68 516.19L1171.73 519.74L1167.64 519.74ZM1178.11 516.18L1180.15 519.73L1176.06 519.73ZM1186.53 516.17L1188.57 519.72L1184.48 519.72ZM1194.95 516.16L1196.99 519.71L1192.9 519.71ZM1203.37 516.15L1205.42 519.7L1201.32 519.7ZM1211.79 516.14L1213.84 519.69L1209.74 519.69ZM1220.21 516.13L1222.26 519.68L1218.16 519.68ZM1228.63 516.12L1230.68 519.67L1226.58 519.67ZM1237.05 516.11L1239.1 519.66L1235.01 519.66ZM1245.47 516.1L1247.52 519.65L1243.43 519.65ZM1253.89 516.09L1255.94 519.63L1251.85 519.63ZM1262.32 516.08L1264.36 519.62L1260.27 519.62ZM1270.74 516.07L1272.78 519.61L1268.69 519.61ZM1279.16 516.06L1281.2 519.6L1277.11 519.6ZM1287.58 516.05L1289.63 519.59L1285.53 519.59ZM1296 516.04L1298.05 519.58L1293.95 519.58ZM1301.7 516.04L1303.75 519.58L1299.65 519.58ZM1306 516.04L1308.05 519.58L1303.95 519.58ZM1310 516.04L1312.05 519.58L1307.95 519.58ZM1314 516.04L1316.05 519.58L1311.95 519.58ZM1318 516.04L1320.05 519.58L1315.95 519.58ZM1321.6 516.04L1323.65 519.58L1319.55 519.58ZM1331 516.04L1333.05 519.58L1328.95 519.58ZM1339.2 516.04L1341.25 519.58L1337.15 519.58ZM1347.4 516.04L1349.45 519.58L1345.35 519.58ZM1356.2 516.04L1358.25 519.58L1354.15 519.58ZM1363.2 516.04L1365.25 519.58L1361.15 519.58Z" fill="#a8285a" stroke="#a8285a" stroke-width="0.6"/>
<path d="M1062 519.93L1063.57 521.5L1062 523.07L1060.43 521.5ZM1064.45 519.92L1066.02 521.49L1064.45 523.05L1062.88 521.49ZM1066.9 519.9L1068.46 521.47L1066.9 523.04L1065.33 521.47ZM1069.34 519.89L1070.91 521.46L1069.34 523.03L1067.78 521.46ZM1071.79 519.88L1073.36 521.44L1071.79 523.01L1070.23 521.44ZM1074.24 519.86L1075.81 521.43L1074.24 523L1072.67 521.43ZM1076.69 519.85L1078.26 521.42L1076.69 522.98L1075.12 521.42ZM1079.14 519.84L1080.71 521.4L1079.14 522.97L1077.57 521.4ZM1081.59 519.82L1083.15 521.39L1081.59 522.96L1080.02 521.39ZM1084.03 519.81L1085.6 521.38L1084.03 522.94L1082.47 521.38ZM1086.48 519.79L1088.05 521.36L1086.48 522.93L1084.92 521.36ZM1088.93 519.78L1090.5 521.35L1088.93 522.92L1087.36 521.35ZM1091.38 519.77L1092.95 521.33L1091.38 522.9L1089.81 521.33ZM1093.83 519.75L1095.4 521.32L1093.83 522.89L1092.26 521.32ZM1096.28 519.74L1097.84 521.31L1096.28 522.87L1094.71 521.31ZM1098.72 519.73L1100.29 521.29L1098.72 522.86L1097.16 521.29ZM1101.17 519.71L1102.74 521.28L1101.17 522.85L1099.6 521.28ZM1103.62 519.7L1105.19 521.27L1103.62 522.83L1102.05 521.27ZM1106.07 519.68L1107.64 521.25L1106.07 522.82L1104.5 521.25ZM1108.52 519.67L1110.08 521.24L1108.52 522.81L1106.95 521.24ZM1110.97 519.66L1112.53 521.22L1110.97 522.79L1109.4 521.22ZM1113.41 519.64L1114.98 521.21L1113.41 522.78L1111.85 521.21ZM1115.86 519.63L1117.43 521.2L1115.86 522.76L1114.29 521.2ZM1118.31 519.62L1119.88 521.18L1118.31 522.75L1116.74 521.18ZM1120.76 519.6L1122.33 521.17L1120.76 522.74L1119.19 521.17ZM1123.21 519.59L1124.77 521.16L1123.21 522.72L1121.64 521.16ZM1125.66 519.57L1127.22 521.14L1125.66 522.71L1124.09 521.14ZM1128.1 519.56L1129.67 521.13L1128.1 522.7L1126.54 521.13ZM1130.55 519.55L1132.12 521.11L1130.55 522.68L1128.98 521.11ZM1133 519.53L1134.57 521.1L1133 522.67L1131.43 521.1Z" fill="#7b7b7b" stroke="#7b7b7b" stroke-width="0.6"/>
<path d="M955.55 482.7a1.75 1.75 0 1 0 3.5 0a1.75 1.75 0 1 0 -3.5 0ZM959.65 481.93a1.75 1.75 0 1 0 3.5 0a1.75 1.75 0 1 0 -3.5 0ZM963.75 481.16a1.75 1.75 0 1 0 3.5 0a1.75 1.75 0 1 0 -3.5 0ZM967.85 480.39a1.75 1.75 0 1 0 3.5 0a1.75 1.75 0 1 0 -3.5 0ZM971.95 479.61a1.75 1.75 0 1 0 3.5 0a1.75 1.75 0 1 0 -3.5 0ZM976.05 478.84a1.75 1.75 0 1 0 3.5 0a1.75 1.75 0 1 0 -3.5 0ZM980.15 478.07a1.75 1.75 0 1 0 3.5 0a1.75 1.75 0 1 0 -3.5 0ZM984.25 477.3a1.75 1.75 0 1 0 3.5 0a1.75 1.75 0 1 0 -3.5 0ZM991.45 475.9a1.75 1.75 0 1 0 3.5 0a1.75 1.75 0 1 0 -3.5 0ZM997.15 475.6a1.75 1.75 0 1 0 3.5 0a1.75 1.75 0 1 0 -3.5 0ZM1001.45 475.1a1.75 1.75 0 1 0 3.5 0a1.75 1.75 0 1 0 -3.5 0ZM1007.15 475.1a1.75 1.75 0 1 0 3.5 0a1.75 1.75 0 1 0 -3.5 0ZM1012.95 474.9a1.75 1.75 0 1 0 3.5 0a1.75 1.75 0 1 0 -3.5 0ZM1018.65 474.9a1.75 1.75 0 1 0 3.5 0a1.75 1.75 0 1 0 -3.5 0ZM1024.35 474.4a1.75 1.75 0 1 0 3.5 0a1.75 1.75 0 1 0 -3.5 0ZM1030.85 474.4a1.75 1.75 0 1 0 3.5 0a1.75 1.75 0 1 0 -3.5 0ZM1036.55 473a1.75 1.75 0 1 0 3.5 0a1.75 1.75 0 1 0 -3.5 0ZM1043.05 471.6a1.75 1.75 0 1 0 3.5 0a1.75 1.75 0 1 0 -3.5 0ZM1049.45 469.8a1.75 1.75 0 1 0 3.5 0a1.75 1.75 0 1 0 -3.5 0ZM1055.95 468a1.75 1.75 0 1 0 3.5 0a1.75 1.75 0 1 0 -3.5 0ZM1062.35 465.5a1.75 1.75 0 1 0 3.5 0a1.75 1.75 0 1 0 -3.5 0ZM1068.85 463.3a1.75 1.75 0 1 0 3.5 0a1.75 1.75 0 1 0 -3.5 0ZM1075.25 462.2a1.75 1.75 0 1 0 3.5 0a1.75 1.75 0 1 0 -3.5 0ZM1080.95 460.1a1.75 1.75 0 1 0 3.5 0a1.75 1.75 0 1 0 -3.5 0ZM1087.15 458.7a1.75 1.75 0 1 0 3.5 0a1.75 1.75 0 1 0 -3.5 0ZM1093.15 458.7a1.75 1.75 0 1 0 3.5 0a1.75 1.75 0 1 0 -3.5 0ZM1098.95 457.2a1.75 1.75 0 1 0 3.5 0a1.75 1.75 0 1 0 -3.5 0ZM1105.35 456.5a1.75 1.75 0 1 0 3.5 0a1.75 1.75 0 1 0 -3.5 0ZM1111.05 454.7a1.75 1.75 0 1 0 3.5 0a1.75 1.75 0 1 0 -3.5 0Z" fill="#c55530" stroke="#c55530" stroke-width="0.6"/>
<path d="M920.17 518.1a1.33 1.33 0 1 0 2.66 0a1.33 1.33 0 1 0 -2.66 0ZM922.81 518.06a1.33 1.33 0 1 0 2.66 0a1.33 1.33 0 1 0 -2.66 0ZM925.46 518.01a1.33 1.33 0 1 0 2.66 0a1.33 1.33 0 1 0 -2.66 0ZM928.1 517.97a1.33 1.33 0 1 0 2.66 0a1.33 1.33 0 1 0 -2.66 0ZM930.74 517.93a1.33 1.33 0 1 0 2.66 0a1.33 1.33 0 1 0 -2.66 0ZM933.38 517.89a1.33 1.33 0 1 0 2.66 0a1.33 1.33 0 1 0 -2.66 0ZM936.03 517.84a1.33 1.33 0 1 0 2.66 0a1.33 1.33 0 1 0 -2.66 0ZM938.67 517.8a1.33 1.33 0 1 0 2.66 0a1.33 1.33 0 1 0 -2.66 0ZM941.67 517.4a1.33 1.33 0 1 0 2.66 0a1.33 1.33 0 1 0 -2.66 0ZM948.84 517.33a1.33 1.33 0 1 0 2.66 0a1.33 1.33 0 1 0 -2.66 0ZM956.01 517.25a1.33 1.33 0 1 0 2.66 0a1.33 1.33 0 1 0 -2.66 0ZM963.18 517.18a1.33 1.33 0 1 0 2.66 0a1.33 1.33 0 1 0 -2.66 0ZM970.34 517.11a1.33 1.33 0 1 0 2.66 0a1.33 1.33 0 1 0 -2.66 0ZM977.51 517.03a1.33 1.33 0 1 0 2.66 0a1.33 1.33 0 1 0 -2.66 0ZM984.68 516.96a1.33 1.33 0 1 0 2.66 0a1.33 1.33 0 1 0 -2.66 0ZM991.85 516.88a1.33 1.33 0 1 0 2.66 0a1.33 1.33 0 1 0 -2.66 0ZM999.02 516.81a1.33 1.33 0 1 0 2.66 0a1.33 1.33 0 1 0 -2.66 0ZM1006.19 516.74a1.33 1.33 0 1 0 2.66 0a1.33 1.33 0 1 0 -2.66 0ZM1013.35 516.66a1.33 1.33 0 1 0 2.66 0a1.33 1.33 0 1 0 -2.66 0ZM1020.52 516.59a1.33 1.33 0 1 0 2.66 0a1.33 1.33 0 1 0 -2.66 0ZM1027.69 516.52a1.33 1.33 0 1 0 2.66 0a1.33 1.33 0 1 0 -2.66 0ZM1034.86 516.44a1.33 1.33 0 1 0 2.66 0a1.33 1.33 0 1 0 -2.66 0ZM1042.03 516.37a1.33 1.33 0 1 0 2.66 0a1.33 1.33 0 1 0 -2.66 0ZM1049.2 516.29a1.33 1.33 0 1 0 2.66 0a1.33 1.33 0 1 0 -2.66 0ZM1056.36 516.22a1.33 1.33 0 1 0 2.66 0a1.33 1.33 0 1 0 -2.66 0ZM1063.53 516.15a1.33 1.33 0 1 0 2.66 0a1.33 1.33 0 1 0 -2.66 0ZM1070.7 516.07a1.33 1.33 0 1 0 2.66 0a1.33 1.33 0 1 0 -2.66 0ZM1077.87 516a1.33 1.33 0 1 0 2.66 0a1.33 1.33 0 1 0 -2.66 0Z" fill="#3b63ab" stroke="#3b63ab" stroke-width="0.6"/>
<path d="M981.2 517.7a1.9 1.9 0 1 0 3.8 0a1.9 1.9 0 1 0 -3.8 0ZM984.58 517.68a1.9 1.9 0 1 0 3.8 0a1.9 1.9 0 1 0 -3.8 0ZM987.96 517.66a1.9 1.9 0 1 0 3.8 0a1.9 1.9 0 1 0 -3.8 0ZM991.34 517.64a1.9 1.9 0 1 0 3.8 0a1.9 1.9 0 1 0 -3.8 0ZM994.72 517.62a1.9 1.9 0 1 0 3.8 0a1.9 1.9 0 1 0 -3.8 0ZM998.1 517.6a1.9 1.9 0 1 0 3.8 0a1.9 1.9 0 1 0 -3.8 0ZM1002.1 517.5a1.9 1.9 0 1 0 3.8 0a1.9 1.9 0 1 0 -3.8 0ZM1006.28 517.46a1.9 1.9 0 1 0 3.8 0a1.9 1.9 0 1 0 -3.8 0ZM1010.47 517.42a1.9 1.9 0 1 0 3.8 0a1.9 1.9 0 1 0 -3.8 0ZM1014.65 517.37a1.9 1.9 0 1 0 3.8 0a1.9 1.9 0 1 0 -3.8 0ZM1018.84 517.33a1.9 1.9 0 1 0 3.8 0a1.9 1.9 0 1 0 -3.8 0ZM1023.02 517.29a1.9 1.9 0 1 0 3.8 0a1.9 1.9 0 1 0 -3.8 0ZM1027.21 517.25a1.9 1.9 0 1 0 3.8 0a1.9 1.9 0 1 0 -3.8 0ZM1031.39 517.21a1.9 1.9 0 1 0 3.8 0a1.9 1.9 0 1 0 -3.8 0ZM1035.57 517.16a1.9 1.9 0 1 0 3.8 0a1.9 1.9 0 1 0 -3.8 0ZM1039.76 517.12a1.9 1.9 0 1 0 3.8 0a1.9 1.9 0 1 0 -3.8 0ZM1043.94 517.08a1.9 1.9 0 1 0 3.8 0a1.9 1.9 0 1 0 -3.8 0ZM1048.13 517.04a1.9 1.9 0 1 0 3.8 0a1.9 1.9 0 1 0 -3.8 0ZM1052.31 516.99a1.9 1.9 0 1 0 3.8 0a1.9 1.9 0 1 0 -3.8 0ZM1056.49 516.95a1.9 1.9 0 1 0 3.8 0a1.9 1.9 0 1 0 -3.8 0ZM1060.68 516.91a1.9 1.9 0 1 0 3.8 0a1.9 1.9 0 1 0 -3.8 0ZM1064.86 516.87a1.9 1.9 0 1 0 3.8 0a1.9 1.9 0 1 0 -3.8 0ZM1069.05 516.83a1.9 1.9 0 1 0 3.8 0a1.9 1.9 0 1 0 -3.8 0ZM1073.23 516.78a1.9 1.9 0 1 0 3.8 0a1.9 1.9 0 1 0 -3.8 0ZM1077.42 516.74a1.9 1.9 0 1 0 3.8 0a1.9 1.9 0 1 0 -3.8 0ZM1081.6 516.7a1.9 1.9 0 1 0 3.8 0a1.9 1.9 0 1 0 -3.8 0Z" fill="none" stroke="#e59c50" stroke-width="0.9"/>
<path d="M1164.9 497.8H1168.7V501.6H1164.9ZM1170.08 496.83H1173.88V500.63H1170.08ZM1175.34 496.51H1179.14V500.31H1175.34ZM1180.61 496.6H1184.41V500.4H1180.61ZM1185.86 497.02H1189.66V500.82H1185.86ZM1191.09 497.7H1194.89V501.5H1191.09ZM1196.3 497.11H1200.1V500.91H1196.3ZM1201.51 496.26H1205.31V500.06H1201.51ZM1206.71 495.38H1210.51V499.18H1206.71ZM1211.91 494.49H1215.71V498.29H1211.91ZM1217.16 494.18H1220.96V497.98H1217.16ZM1222.43 493.97H1226.23V497.77H1222.43ZM1227.7 493.75H1231.5V497.55H1227.7ZM1232.95 494.2H1236.75V498H1232.95ZM1238.22 494.3H1242.02V498.1H1238.22ZM1243.48 494.55H1247.28V498.35H1243.48ZM1248.72 495.11H1252.52V498.91H1248.72ZM1253.98 495.45H1257.78V499.25H1253.98ZM1259.25 495.67H1263.05V499.47H1259.25ZM1264.52 495.9H1268.32V499.7H1264.52ZM1269.79 496.08H1273.59V499.88H1269.79ZM1275.06 495.82H1278.86V499.62H1275.06ZM1280.26 495.07H1284.06V498.87H1280.26ZM1285.4 493.9H1289.2V497.7H1285.4Z" fill="none" stroke="#6f9f6f" stroke-width="0.9"/>
<path d="M592.7 1079.45L595.26 1083.88L590.14 1083.88ZM596.15 1079.59L598.71 1084.02L593.59 1084.02ZM599.59 1079.73L602.15 1084.16L597.03 1084.16ZM603.04 1079.87L605.6 1084.3L600.48 1084.3ZM606.49 1080.01L609.05 1084.44L603.93 1084.44ZM609.93 1080.15L612.49 1084.59L607.38 1084.59ZM613.38 1080.3L615.94 1084.73L610.82 1084.73ZM616.82 1080.18L619.38 1084.62L614.27 1084.62ZM620.26 1079.93L622.82 1084.36L617.71 1084.36ZM623.71 1079.68L626.26 1084.11L621.15 1084.11ZM627.15 1079.43L629.7 1083.86L624.59 1083.86ZM630.59 1079.18L633.15 1083.61L628.03 1083.61ZM634.03 1078.93L636.59 1083.36L631.47 1083.36ZM637.47 1078.68L640.03 1083.11L634.91 1083.11ZM640.91 1078.42L643.47 1082.86L638.35 1082.86ZM644.35 1078.21L646.91 1082.64L641.79 1082.64ZM647.8 1078.01L650.35 1082.44L645.24 1082.44ZM651.24 1077.81L653.8 1082.24L648.68 1082.24ZM654.68 1077.6L657.24 1082.04L652.12 1082.04ZM658.13 1077.4L660.69 1081.84L655.57 1081.84ZM661.57 1077.2L664.13 1081.63L659.01 1081.63ZM665.01 1077L667.57 1081.43L662.46 1081.43ZM668.46 1076.8L671.02 1081.23L665.9 1081.23ZM671.91 1076.69L674.47 1081.12L669.35 1081.12ZM675.36 1076.62L677.91 1081.05L672.8 1081.05ZM678.8 1076.54L681.36 1080.97L676.25 1080.97ZM682.25 1076.47L684.81 1080.9L679.69 1080.9ZM685.7 1076.39L688.26 1080.83L683.14 1080.83ZM689.15 1076.32L691.71 1080.75L686.59 1080.75ZM692.6 1076.25L695.16 1080.68L690.04 1080.68Z" fill="none" stroke="#52abc4" stroke-width="0.9"/>
<path d="M588.61 752.4H593.99M591.3 749.71V755.09M591.01 747.7H596.39M593.7 745.01V750.39M594.11 742.2H599.49M596.8 739.51V744.89M597.21 734.4H602.59M599.9 731.71V737.09M599.91 726.6H605.29M602.6 723.91V729.29M602.71 718.8H608.09M605.4 716.11V721.49M605.51 712.5H610.89M608.2 709.81V715.19M607.71 705.5H613.09M610.4 702.81V708.19M609.71 698.5H615.09M612.4 695.81V701.19M612.11 687.5H617.49M614.8 684.81V690.19M615.21 677.8H620.59M617.9 675.11V680.49M619.11 668H624.49M621.8 665.31V670.69M622.31 662.5H627.69M625 659.81V665.19M624.91 662.2H630.29M627.6 659.51V664.89M627.71 664.9H633.09M630.4 662.21V667.59M630.81 671.1H636.19M633.5 668.41V673.79M635.21 674.2H640.59M637.9 671.51V676.89M639.91 678.9H645.29M642.6 676.21V681.59M644.91 688.3H650.29M647.6 685.61V690.99M648.81 693H654.19M651.5 690.31V695.69M652.01 697.7H657.39M654.7 695.01V700.39M655.91 703.2H661.29M658.6 700.51V705.89M660.61 707.1H665.99M663.3 704.41V709.79M666.81 710.2H672.19M669.5 707.51V712.89M669.91 717.2H675.29M672.6 714.51V719.89M673.81 721.9H679.19M676.5 719.21V724.59M676.21 727.4H681.59M678.9 724.71V730.09" fill="none" stroke="#3fa87c" stroke-width="0.9"/>
<path d="M571.92 786.22L576.28 790.58M571.92 790.58L576.28 786.22M576.92 783.82L581.28 788.18M576.92 788.18L581.28 783.82M581.62 782.32L585.98 786.68M581.62 786.68L585.98 782.32M586.32 778.32L590.68 782.68M586.32 782.68L590.68 778.32M590.42 775.22L594.78 779.58M590.42 779.58L594.78 775.22M593.52 771.32L597.88 775.68M593.52 775.68L597.88 771.32M596.92 766.62L601.28 770.98M596.92 770.98L601.28 766.62M600.12 761.92L604.48 766.28M600.12 766.28L604.48 761.92M603.22 757.22L607.58 761.58M603.22 761.58L607.58 757.22M606.02 751.02L610.38 755.38M606.02 755.38L610.38 751.02M609.12 745.02L613.48 749.38M609.12 749.38L613.48 745.02M612.32 739.32L616.68 743.68M612.32 743.68L616.68 739.32M617.02 733.02L621.38 737.38M617.02 737.38L621.38 733.02M621.22 733.82L625.58 738.18M621.22 738.18L625.58 733.82M624.82 729.92L629.18 734.28M624.82 734.28L629.18 729.92M627.42 725.22L631.78 729.58M627.42 729.58L631.78 725.22M629.82 720.52L634.18 724.88M629.82 724.88L634.18 720.52M632.92 716.62L637.28 720.98M632.92 720.98L637.28 716.62M637.32 713.52L641.68 717.88M637.32 717.88L641.68 713.52M641.52 709.62L645.88 713.98M641.52 713.98L645.88 709.62M645.42 706.42L649.78 710.78M645.42 710.78L649.78 706.42M649.82 703.32L654.18 707.68M649.82 707.68L654.18 703.32M654.82 701.72L659.18 706.08M654.82 706.08L659.18 701.72M657.12 702.82L661.48 707.18M657.12 707.18L661.48 702.82M660.32 707.22L664.68 711.58M660.32 711.58L664.68 707.22M663.92 721.62L668.28 725.98M663.92 725.98L668.28 721.62" fill="none" stroke="#353580" stroke-width="0.9"/>
<path d="M560.1 936.61L562.79 939.3L560.1 941.99L557.41 939.3ZM564 934.31L566.69 937L564 939.69L561.31 937ZM567.9 928.81L570.59 931.5L567.9 934.19L565.21 931.5ZM571.3 923.01L573.99 925.7L571.3 928.39L568.61 925.7ZM575.4 916.31L578.09 919L575.4 921.69L572.71 919ZM579.6 909.61L582.29 912.3L579.6 914.99L576.91 912.3ZM583.5 903.01L586.19 905.7L583.5 908.39L580.81 905.7ZM587.4 891.71L590.09 894.4L587.4 897.09L584.71 894.4ZM591.3 878.01L593.99 880.7L591.3 883.39L588.61 880.7ZM594.8 865.51L597.49 868.2L594.8 870.89L592.11 868.2ZM599.1 858.41L601.79 861.1L599.1 863.79L596.41 861.1ZM602.6 853.01L605.29 855.7L602.6 858.39L599.91 855.7ZM607 854.51L609.69 857.2L607 859.89L604.31 857.2ZM610.9 855.31L613.59 858L610.9 860.69L608.21 858ZM614 853.71L616.69 856.4L614 859.09L611.31 856.4ZM616.3 850.61L618.99 853.3L616.3 855.99L613.61 853.3ZM619.5 849.11L622.19 851.8L619.5 854.49L616.81 851.8ZM623.4 849.81L626.09 852.5L623.4 855.19L620.71 852.5ZM626.5 851.41L629.19 854.1L626.5 856.79L623.81 854.1ZM630.4 853.71L633.09 856.4L630.4 859.09L627.71 856.4ZM634.3 853.71L636.99 856.4L634.3 859.09L631.61 856.4ZM638.2 850.61L640.89 853.3L638.2 855.99L635.51 853.3ZM642.1 848.31L644.79 851L642.1 853.69L639.41 851ZM646.1 849.81L648.79 852.5L646.1 855.19L643.41 852.5ZM652.3 862.31L654.99 865L652.3 867.69L649.61 865ZM655.4 869.41L658.09 872.1L655.4 874.79L652.71 872.1ZM659.3 868.61L661.99 871.3L659.3 873.99L656.61 871.3ZM663.3 874.91L665.99 877.6L663.3 880.29L660.61 877.6Z" fill="none" stroke="#ef8a6a" stroke-width="0.9"/>
<path d="M353.2 1090.65L355.76 1086.22L350.64 1086.22ZM359.2 1090.78L361.76 1086.35L356.64 1086.35ZM365.19 1090.6L367.74 1086.17L362.63 1086.17ZM371.16 1090.03L373.72 1085.59L368.6 1085.59ZM376.99 1088.65L379.55 1084.22L374.43 1084.22ZM382.81 1087.19L385.37 1082.75L380.25 1082.75ZM388.64 1085.76L391.19 1081.33L386.08 1081.33ZM394.38 1084.04L396.94 1079.61L391.82 1079.61ZM400.08 1082.16L402.64 1077.73L397.52 1077.73ZM405.89 1080.66L408.45 1076.23L403.33 1076.23ZM411.74 1079.36L414.3 1074.92L409.18 1074.92ZM417.65 1078.35L420.21 1073.92L415.09 1073.92ZM423.62 1077.8L426.18 1073.36L421.06 1073.36ZM429.61 1077.34L432.16 1072.9L427.05 1072.9ZM435.58 1076.83L438.14 1072.39L433.03 1072.39ZM441.58 1076.65L444.14 1072.22L439.02 1072.22ZM447.58 1076.65L450.14 1072.22L445.02 1072.22ZM453.58 1076.65L456.14 1072.22L451.02 1072.22ZM459.58 1076.65L462.14 1072.22L457.02 1072.22ZM465.58 1076.65L468.14 1072.22L463.02 1072.22ZM471.49 1075.67L474.05 1071.24L468.93 1071.24ZM477.37 1074.48L479.93 1070.05L474.81 1070.05ZM483.23 1073.64L485.79 1069.21L480.67 1069.21ZM489.2 1074.25L491.76 1069.82L486.64 1069.82Z" fill="none" stroke="#8181c6" stroke-width="0.9"/>
<path d="M349.7 1061.6H353.5V1065.4H349.7ZM349.7 1061.6L353.5 1065.4M349.7 1065.4L353.5 1061.6M354.67 1058.47H358.47V1062.27H354.67ZM354.67 1058.47L358.47 1062.27M354.67 1062.27L358.47 1058.47M359.86 1055.75H363.66V1059.55H359.86ZM359.86 1055.75L363.66 1059.55M359.86 1059.55L363.66 1055.75M364.97 1052.88H368.77V1056.68H364.97ZM364.97 1052.88L368.77 1056.68M364.97 1056.68L368.77 1052.88M370.03 1049.91H373.83V1053.71H370.03ZM370.03 1049.91L373.83 1053.71M370.03 1053.71L373.83 1049.91M375.28 1047.29H379.08V1051.09H375.28ZM375.28 1047.29L379.08 1051.09M375.28 1051.09L379.08 1047.29M380.79 1045.28H384.59V1049.08H380.79ZM380.79 1045.28L384.59 1049.08M380.79 1049.08L384.59 1045.28M386.61 1044.56H390.41V1048.36H386.61ZM386.61 1044.56L390.41 1048.36M386.61 1048.36L390.41 1044.56M392.44 1043.89H396.24V1047.69H392.44ZM392.44 1043.89L396.24 1047.69M392.44 1047.69L396.24 1043.89M398.28 1043.31H402.08V1047.11H398.28ZM398.28 1043.31L402.08 1047.11M398.28 1047.11L402.08 1043.31M404.13 1042.77H407.93V1046.57H404.13ZM404.13 1042.77L407.93 1046.57M404.13 1046.57L407.93 1042.77M409.96 1042.18H413.76V1045.98H409.96ZM409.96 1042.18L413.76 1045.98M409.96 1045.98L413.76 1042.18M415.73 1041.07H419.53V1044.87H415.73ZM415.73 1041.07L419.53 1044.87M415.73 1044.87L419.53 1041.07M421.48 1039.89H425.28V1043.69H421.48ZM421.48 1039.89L425.28 1043.69M421.48 1043.69L425.28 1039.89M427.24 1038.82H431.04V1042.62H427.24ZM427.24 1038.82L431.04 1042.62M427.24 1042.62L431.04 1038.82M433.09 1038.29H436.89V1042.09H433.09ZM433.09 1038.29L436.89 1042.09M433.09 1042.09L436.89 1038.29M438.93 1037.7H442.73V1041.5H438.93ZM438.93 1037.7L442.73 1041.5M438.93 1041.5L442.73 1037.7M444.77 1037.11H448.57V1040.91H444.77ZM444.77 1037.11L448.57 1040.91M444.77 1040.91L448.57 1037.11M450.61 1036.63H454.41V1040.43H450.61ZM450.61 1036.63L454.41 1040.43M450.61 1040.43L454.41 1036.63M456.47 1036.86H460.27V1040.66H456.47ZM456.47 1036.86L460.27 1040.66M456.47 1040.66L460.27 1036.86M462.28 1037.68H466.08V1041.48H462.28ZM462.28 1037.68L466.08 1041.48M462.28 1041.48L466.08 1037.68M468.06 1038.71H471.86V1042.51H468.06ZM468.06 1038.71L471.86 1042.51M468.06 1042.51L471.86 1038.71M473.81 1039.86H477.61V1043.66H473.81ZM473.81 1039.86L477.61 1043.66M473.81 1043.66L477.61 1039.86M479.5 1041.3H483.3V1045.1H479.5ZM479.5 1041.3L483.3 1045.1M479.5 1045.1L483.3 1041.3" fill="none" stroke="#8ad5c2" stroke-width="0.9"/>
<path d="M337.39 1071.19L340.81 1074.61M337.39 1074.61L340.81 1071.19M336.68 1072.9H341.52M339.1 1070.48V1075.32M343.56 1068.8L346.98 1072.22M343.56 1072.22L346.98 1068.8M342.85 1070.51H347.68M345.27 1068.09V1072.93M349.77 1066.54L353.19 1069.96M349.77 1069.96L353.19 1066.54M349.06 1068.25H353.89M351.48 1065.83V1070.66M355.69 1063.59L359.11 1067.01M355.69 1067.01L359.11 1063.59M354.98 1065.3H359.81M357.4 1062.88V1067.72M361.85 1061.2L365.27 1064.62M361.85 1064.62L365.27 1061.2M361.14 1062.91H365.97M363.56 1060.49V1065.33M368.26 1059.59L371.68 1063.01M368.26 1063.01L371.68 1059.59M367.55 1061.3H372.38M369.97 1058.89V1063.72M374.44 1057.26L377.86 1060.68M374.44 1060.68L377.86 1057.26M373.73 1058.97H378.57M376.15 1056.56V1061.39M380.65 1054.99L384.07 1058.41M380.65 1058.41L384.07 1054.99M379.94 1056.7H384.77M382.36 1054.28V1059.12M386.3 1051.58L389.72 1055M386.3 1055L389.72 1051.58M385.59 1053.29H390.42M388.01 1050.87V1055.71M392.13 1048.48L395.55 1051.9M392.13 1051.9L395.55 1048.48M391.42 1050.19H396.26M393.84 1047.77V1052.61M397.75 1045.01L401.17 1048.43M397.75 1048.43L401.17 1045.01M397.04 1046.72H401.88M399.46 1044.3V1049.14M403.05 1041.06L406.47 1044.48M403.05 1044.48L406.47 1041.06M402.34 1042.77H407.18M404.76 1040.35V1045.19M408.79 1037.82L412.21 1041.24M408.79 1041.24L412.21 1037.82M408.08 1039.53H412.92M410.5 1037.12V1041.95M414.29 1034.21L417.71 1037.63M414.29 1037.63L417.71 1034.21M413.58 1035.92H418.42M416 1033.5V1038.34M419.82 1030.62L423.24 1034.04M419.82 1034.04L423.24 1030.62M419.11 1032.33H423.95M421.53 1029.91V1034.75M425.9 1029.14L429.32 1032.56M425.9 1032.56L429.32 1029.14M425.19 1030.85H430.03M427.61 1028.43V1033.26M432.43 1029.43L435.85 1032.85M432.43 1032.85L435.85 1029.43M431.73 1031.14H436.56M434.14 1028.72V1033.56M439.02 1028.99L442.44 1032.41M439.02 1032.41L442.44 1028.99M438.31 1030.7H443.15M440.73 1028.28V1033.12M445.63 1028.92L449.05 1032.34M445.63 1032.34L449.05 1028.92M444.92 1030.63H449.76M447.34 1028.21V1033.04M452.23 1028.57L455.65 1031.99M452.23 1031.99L455.65 1028.57M451.52 1030.28H456.35M453.94 1027.86V1032.7M458.75 1027.48L462.17 1030.9M458.75 1030.9L462.17 1027.48M458.04 1029.19H462.88M460.46 1026.77V1031.61M465.32 1026.78L468.74 1030.2M465.32 1030.2L468.74 1026.78M464.61 1028.49H469.45M467.03 1026.07V1030.91M471.79 1025.48L475.21 1028.9M471.79 1028.9L475.21 1025.48M471.08 1027.19H475.92M473.5 1024.77V1029.61M478.09 1023.49L481.51 1026.91M478.09 1026.91L481.51 1023.49M477.38 1025.2H482.22M479.8 1022.78V1027.62" fill="none" stroke="#e23c1c" stroke-width="0.9"/>
<path d="M429.8 987.31L432.49 990L429.8 992.69L427.11 990ZM428.32 990H431.28M429.8 988.52V991.48M434.33 988.24L437.01 990.93L434.33 993.62L431.64 990.93ZM432.85 990.93H435.8M434.33 989.45V992.41M438.83 989.27L441.51 991.96L438.83 994.65L436.14 991.96ZM437.35 991.96H440.31M438.83 990.48V993.44M443.26 990.58L445.95 993.27L443.26 995.96L440.57 993.27ZM441.78 993.27H444.74M443.26 991.79V994.75M447.79 991.21L450.48 993.9L447.79 996.59L445.1 993.9ZM446.31 993.9H449.27M447.79 992.42V995.38M452.41 991.21L455.1 993.9L452.41 996.59L449.72 993.9ZM450.93 993.9H453.89M452.41 992.42V995.38M457.03 991.21L459.72 993.9L457.03 996.59L454.34 993.9ZM455.55 993.9H458.51M457.03 992.42V995.38M461.64 991.34L464.33 994.03L461.64 996.72L458.95 994.03ZM460.16 994.03H463.12M461.64 992.55V995.51M466.17 992.26L468.86 994.95L466.17 997.63L463.48 994.95ZM464.69 994.95H467.65M466.17 993.47V996.42M470.62 992.17L473.31 994.86L470.62 997.55L467.93 994.86ZM469.14 994.86H472.1M470.62 993.38V996.34M474.95 990.57L477.64 993.25L474.95 995.94L472.27 993.25ZM473.47 993.25H476.43M474.95 991.78V994.73M479.45 989.52L482.14 992.21L479.45 994.89L476.76 992.21ZM477.97 992.21H480.93M479.45 990.73V993.68M484 988.91L486.69 991.6L484 994.29L481.32 991.6ZM482.53 991.6H485.48M484 990.12V993.08M488.63 988.91L491.31 991.6L488.63 994.29L485.94 991.6ZM487.15 991.6H490.1M488.63 990.12V993.08M492.31 991.5L495 994.18L492.31 996.87L489.63 994.18ZM490.84 994.18H493.79M492.31 992.71V995.66M495.71 994.62L498.4 997.31L495.71 1000L493.02 997.31ZM494.23 997.31H497.19M495.71 995.83V998.79M499.08 997.75L501.77 1000.43L499.08 1003.12L496.39 1000.43ZM497.6 1000.43H500.56M499.08 998.96V1001.91M503.23 999.78L505.92 1002.47L503.23 1005.15L500.54 1002.47ZM501.75 1002.47H504.71M503.23 1000.99V1003.94M507.03 1002.41L509.72 1005.09L507.03 1007.78L504.34 1005.09ZM505.55 1005.09H508.51M507.03 1003.62V1006.57M511.42 1003.54L514.11 1006.22L511.42 1008.91L508.73 1006.22ZM509.94 1006.22H512.9M511.42 1004.75V1007.7M515.89 1004.67L518.58 1007.36L515.89 1010.05L513.21 1007.36ZM514.42 1007.36H517.37M515.89 1005.88V1008.84M520.19 1006.33L522.87 1009.02L520.19 1011.71L517.5 1009.02ZM518.71 1009.02H521.66M520.19 1007.54V1010.5M524.39 1008.23L527.08 1010.92L524.39 1013.61L521.71 1010.92ZM522.92 1010.92H525.87M524.39 1009.44V1012.4M528.7 1009.91L531.39 1012.6L528.7 1015.29L526.01 1012.6ZM527.22 1012.6H530.18M528.7 1011.12V1014.08M535.5 1008.91L538.19 1011.6L535.5 1014.29L532.81 1011.6ZM534.02 1011.6H536.98M535.5 1010.12V1013.08M542 1008.91L544.69 1011.6L542 1014.29L539.31 1011.6ZM540.52 1011.6H543.48M542 1010.12V1013.08M548.2 1010.91L550.89 1013.6L548.2 1016.29L545.51 1013.6ZM546.72 1013.6H549.68M548.2 1012.12V1015.08M554.7 1010.91L557.39 1013.6L554.7 1016.29L552.01 1013.6ZM553.22 1013.6H556.18M554.7 1012.12V1015.08M560.3 1009.91L562.99 1012.6L560.3 1015.29L557.61 1012.6ZM558.82 1012.6H561.78M560.3 1011.12V1014.08M562.5 1011.81L565.19 1014.5L562.5 1017.19L559.81 1014.5ZM561.02 1014.5H563.98M562.5 1013.02V1015.98M564.8 1014.81L567.49 1017.5L564.8 1020.19L562.11 1017.5ZM563.32 1017.5H566.28M564.8 1016.02V1018.98" fill="none" stroke="#7a5a3e" stroke-width="0.9"/>
<path d="M366.9 1040.8a1.9 1.9 0 1 0 3.8 0a1.9 1.9 0 1 0 -3.8 0ZM367.66 1040.8H369.94M368.8 1039.66V1041.94M371.72 1038.89a1.9 1.9 0 1 0 3.8 0a1.9 1.9 0 1 0 -3.8 0ZM372.48 1038.89H374.76M373.62 1037.75V1040.03M376.6 1037.14a1.9 1.9 0 1 0 3.8 0a1.9 1.9 0 1 0 -3.8 0ZM377.36 1037.14H379.64M378.5 1036V1038.28M381.57 1035.67a1.9 1.9 0 1 0 3.8 0a1.9 1.9 0 1 0 -3.8 0ZM382.33 1035.67H384.61M383.47 1034.53V1036.81M386.63 1034.55a1.9 1.9 0 1 0 3.8 0a1.9 1.9 0 1 0 -3.8 0ZM387.39 1034.55H389.67M388.53 1033.41V1035.69M391.73 1033.96a1.9 1.9 0 1 0 3.8 0a1.9 1.9 0 1 0 -3.8 0ZM392.49 1033.96H394.77M393.63 1032.82V1035.1M396.88 1034.54a1.9 1.9 0 1 0 3.8 0a1.9 1.9 0 1 0 -3.8 0ZM397.64 1034.54H399.92M398.78 1033.4V1035.68M401.05 1037.5a1.9 1.9 0 1 0 3.8 0a1.9 1.9 0 1 0 -3.8 0ZM401.81 1037.5H404.09M402.95 1036.36V1038.64M405.42 1035.11a1.9 1.9 0 1 0 3.8 0a1.9 1.9 0 1 0 -3.8 0ZM406.18 1035.11H408.46M407.32 1033.97V1036.25M410.12 1034.56a1.9 1.9 0 1 0 3.8 0a1.9 1.9 0 1 0 -3.8 0ZM410.88 1034.56H413.16M412.02 1033.42V1035.7M414.89 1034.3a1.9 1.9 0 1 0 3.8 0a1.9 1.9 0 1 0 -3.8 0ZM415.65 1034.3H417.93M416.79 1033.16V1035.44M419.4 1031.76a1.9 1.9 0 1 0 3.8 0a1.9 1.9 0 1 0 -3.8 0ZM420.16 1031.76H422.44M421.3 1030.62V1032.9M424.06 1029.48a1.9 1.9 0 1 0 3.8 0a1.9 1.9 0 1 0 -3.8 0ZM424.82 1029.48H427.1M425.96 1028.34V1030.62M428.8 1027.48a1.9 1.9 0 1 0 3.8 0a1.9 1.9 0 1 0 -3.8 0ZM429.56 1027.48H431.84M430.7 1026.34V1028.62M433.94 1026.82a1.9 1.9 0 1 0 3.8 0a1.9 1.9 0 1 0 -3.8 0ZM434.7 1026.82H436.98M435.84 1025.68V1027.96M438.8 1025.01a1.9 1.9 0 1 0 3.8 0a1.9 1.9 0 1 0 -3.8 0ZM439.56 1025.01H441.84M440.7 1023.87V1026.15M443.77 1023.58a1.9 1.9 0 1 0 3.8 0a1.9 1.9 0 1 0 -3.8 0ZM444.53 1023.58H446.81M445.67 1022.44V1024.72M448.86 1022.67a1.9 1.9 0 1 0 3.8 0a1.9 1.9 0 1 0 -3.8 0ZM449.62 1022.67H451.9M450.76 1021.53V1023.81M454.02 1022.14a1.9 1.9 0 1 0 3.8 0a1.9 1.9 0 1 0 -3.8 0ZM454.78 1022.14H457.06M455.92 1021V1023.28M459.18 1021.62a1.9 1.9 0 1 0 3.8 0a1.9 1.9 0 1 0 -3.8 0ZM459.94 1021.62H462.22M461.08 1020.48V1022.76M464.34 1021.51a1.9 1.9 0 1 0 3.8 0a1.9 1.9 0 1 0 -3.8 0ZM465.1 1021.51H467.38M466.24 1020.37V1022.65M469.5 1022.04a1.9 1.9 0 1 0 3.8 0a1.9 1.9 0 1 0 -3.8 0ZM470.26 1022.04H472.54M471.4 1020.9V1023.18M474.61 1022.9a1.9 1.9 0 1 0 3.8 0a1.9 1.9 0 1 0 -3.8 0ZM475.37 1022.9H477.65M476.51 1021.76V1024.04M478.7 1025.7a1.9 1.9 0 1 0 3.8 0a1.9 1.9 0 1 0 -3.8 0ZM479.46 1025.7H481.74M480.6 1024.56V1026.84" fill="none" stroke="#4c4caa" stroke-width="0.9"/>
<path d="M475.6 700.16L478.23 704.72L472.97 704.72ZM475.6 706.24L478.23 701.68L472.97 701.68ZM481.6 698.26L484.23 702.82L478.97 702.82ZM481.6 704.34L484.23 699.78L478.97 699.78ZM486.3 704.46L488.93 709.02L483.67 709.02ZM486.3 710.54L488.93 705.98L483.67 705.98ZM491.6 711.86L494.23 716.42L488.97 716.42ZM491.6 717.94L494.23 713.38L488.97 713.38ZM497.5 713.36L500.13 717.92L494.87 717.92ZM497.5 719.44L500.13 714.88L494.87 714.88ZM503.8 712.66L506.43 717.22L501.17 717.22ZM503.8 718.74L506.43 714.18L501.17 714.18ZM509.2 718.56L511.83 723.12L506.57 723.12ZM509.2 724.64L511.83 720.08L506.57 720.08ZM514.7 715.76L517.33 720.32L512.07 720.32ZM514.7 721.84L517.33 717.28L512.07 717.28ZM519.7 724.36L522.33 728.92L517.07 728.92ZM519.7 730.44L522.33 725.88L517.07 725.88ZM525.4 727.96L528.03 732.52L522.77 732.52ZM525.4 734.04L528.03 729.48L522.77 729.48ZM531.1 737.36L533.73 741.92L528.47 741.92ZM531.1 743.44L533.73 738.88L528.47 738.88ZM537.4 741.56L540.03 746.12L534.77 746.12ZM537.4 747.64L540.03 743.08L534.77 743.08ZM543.2 748.86L545.83 753.42L540.57 753.42ZM543.2 754.94L545.83 750.38L540.57 750.38ZM548.3 754.86L550.93 759.42L545.67 759.42ZM548.3 760.94L550.93 756.38L545.67 756.38ZM553.5 762.96L556.13 767.52L550.87 767.52ZM553.5 769.04L556.13 764.48L550.87 764.48ZM558.2 764.96L560.83 769.52L555.57 769.52ZM558.2 771.04L560.83 766.48L555.57 766.48ZM562.4 772.86L565.03 777.42L559.77 777.42ZM562.4 778.94L565.03 774.38L559.77 774.38ZM566.6 779.06L569.23 783.62L563.97 783.62ZM566.6 785.14L569.23 780.58L563.97 780.58ZM571.3 787.66L573.93 792.22L568.67 792.22ZM571.3 793.74L573.93 789.18L568.67 789.18ZM576.5 793.16L579.13 797.72L573.87 797.72ZM576.5 799.24L579.13 794.68L573.87 794.68ZM582 801.16L584.63 805.72L579.37 805.72ZM582 807.24L584.63 802.68L579.37 802.68ZM586.6 805.16L589.23 809.72L583.97 809.72ZM586.6 811.24L589.23 806.68L583.97 806.68ZM591 809.16L593.63 813.72L588.37 813.72ZM591 815.24L593.63 810.68L588.37 810.68ZM594.1 819.06L596.73 823.62L591.47 823.62ZM594.1 825.14L596.73 820.58L591.47 820.58ZM597.3 823.66L599.93 828.22L594.67 828.22ZM597.3 829.74L599.93 825.18L594.67 825.18ZM600.4 825.26L603.03 829.82L597.77 829.82ZM600.4 831.34L603.03 826.78L597.77 826.78ZM602.6 828.36L605.23 832.92L599.97 832.92ZM602.6 834.44L605.23 829.88L599.97 829.88ZM606.2 827.96L608.83 832.52L603.57 832.52ZM606.2 834.04L608.83 829.48L603.57 829.48ZM609.8 827.96L612.43 832.52L607.17 832.52ZM609.8 834.04L612.43 829.48L607.17 829.48ZM613.5 827.96L616.13 832.52L610.87 832.52ZM613.5 834.04L616.13 829.48L610.87 829.48ZM619.2 832.66L621.83 837.22L616.57 837.22ZM619.2 838.74L621.83 834.18L616.57 834.18ZM616 837.26L618.63 841.82L613.37 841.82ZM616 843.34L618.63 838.78L613.37 838.78Z" fill="none" stroke="#e4452a" stroke-width="0.9"/>
<path d="M517.5 688.4H521.3V692.2H517.5ZM521.1 694.7H524.9V698.5H521.1ZM515.2 713.5H519V717.3H515.2ZM524.1 721.6H527.9V725.4H524.1ZM530.8 744.7H534.6V748.5H530.8ZM526.1 750.5H529.9V754.3H526.1ZM533.9 753.2H537.7V757H533.9ZM511.3 759.9H515.1V763.7H511.3ZM528.1 762.5H531.9V766.3H528.1ZM536.6 762.2H540.4V766H536.6ZM541.7 769.3H545.5V773.1H541.7ZM547.5 780.2H551.3V784H547.5ZM554.3 777.6H558.1V781.4H554.3ZM504.7 785.4H508.5V789.2H504.7ZM498.4 804.3H502.2V808.1H498.4ZM559.7 802.2H563.5V806H559.7ZM565.2 814.4H569V818.2H565.2ZM571.5 822.8H575.3V826.6H571.5ZM576.6 851.4H580.4V855.2H576.6ZM581.6 865H585.4V868.8H581.6ZM585.5 883.5H589.3V887.3H585.5ZM589.4 891.3H593.2V895.1H589.4ZM594.1 894.4H597.9V898.2H594.1ZM598.8 889.7H602.6V893.5H598.8ZM602.7 891.3H606.5V895.1H602.7ZM606.6 890.5H610.4V894.3H606.6ZM612.1 894.4H615.9V898.2H612.1ZM616 890.5H619.8V894.3H616ZM620.7 891.3H624.5V895.1H620.7ZM623.8 888.2H627.6V892H623.8Z" fill="#9fcfa8" stroke="#5aa66a" stroke-width="0.9"/>
<path d="M398.2 1036.9a1.9 1.9 0 1 0 3.8 0a1.9 1.9 0 1 0 -3.8 0ZM398.2 1035L402 1038.8M398.2 1038.8L402 1035M402.82 1038.69a1.9 1.9 0 1 0 3.8 0a1.9 1.9 0 1 0 -3.8 0ZM402.82 1036.79L406.62 1040.59M402.82 1040.59L406.62 1036.79M407.63 1039.71a1.9 1.9 0 1 0 3.8 0a1.9 1.9 0 1 0 -3.8 0ZM407.63 1037.81L411.43 1041.61M407.63 1041.61L411.43 1037.81M412.19 1041.23a1.9 1.9 0 1 0 3.8 0a1.9 1.9 0 1 0 -3.8 0ZM412.19 1039.33L415.99 1043.13M412.19 1043.13L415.99 1039.33M416.13 1044.22a1.9 1.9 0 1 0 3.8 0a1.9 1.9 0 1 0 -3.8 0ZM416.13 1042.32L419.93 1046.12M416.13 1046.12L419.93 1042.32M420.89 1044.8a1.9 1.9 0 1 0 3.8 0a1.9 1.9 0 1 0 -3.8 0ZM420.89 1042.9L424.69 1046.7M420.89 1046.7L424.69 1042.9M425.84 1044.74a1.9 1.9 0 1 0 3.8 0a1.9 1.9 0 1 0 -3.8 0ZM425.84 1042.84L429.64 1046.64M425.84 1046.64L429.64 1042.84M430.79 1044.49a1.9 1.9 0 1 0 3.8 0a1.9 1.9 0 1 0 -3.8 0ZM430.79 1042.59L434.59 1046.39M430.79 1046.39L434.59 1042.59M435.74 1044.24a1.9 1.9 0 1 0 3.8 0a1.9 1.9 0 1 0 -3.8 0ZM435.74 1042.34L439.54 1046.14M435.74 1046.14L439.54 1042.34M440.69 1043.97a1.9 1.9 0 1 0 3.8 0a1.9 1.9 0 1 0 -3.8 0ZM440.69 1042.07L444.49 1045.87M440.69 1045.87L444.49 1042.07M445.61 1043.47a1.9 1.9 0 1 0 3.8 0a1.9 1.9 0 1 0 -3.8 0ZM445.61 1041.57L449.41 1045.37M445.61 1045.37L449.41 1041.57M450.56 1043.2a1.9 1.9 0 1 0 3.8 0a1.9 1.9 0 1 0 -3.8 0ZM450.56 1041.3L454.36 1045.1M450.56 1045.1L454.36 1041.3M455.51 1043.2a1.9 1.9 0 1 0 3.8 0a1.9 1.9 0 1 0 -3.8 0ZM455.51 1041.3L459.31 1045.1M455.51 1045.1L459.31 1041.3M460.38 1044.04a1.9 1.9 0 1 0 3.8 0a1.9 1.9 0 1 0 -3.8 0ZM460.38 1042.14L464.18 1045.94M460.38 1045.94L464.18 1042.14M465.17 1045.28a1.9 1.9 0 1 0 3.8 0a1.9 1.9 0 1 0 -3.8 0ZM465.17 1043.38L468.97 1047.18M465.17 1047.18L468.97 1043.38M469.97 1046.3a1.9 1.9 0 1 0 3.8 0a1.9 1.9 0 1 0 -3.8 0ZM469.97 1044.4L473.77 1048.2M469.97 1048.2L473.77 1044.4M474.93 1046.28a1.9 1.9 0 1 0 3.8 0a1.9 1.9 0 1 0 -3.8 0ZM474.93 1044.38L478.73 1048.18M474.93 1048.18L478.73 1044.38M479.79 1045.33a1.9 1.9 0 1 0 3.8 0a1.9 1.9 0 1 0 -3.8 0ZM479.79 1043.43L483.59 1047.23M479.79 1047.23L483.59 1043.43M484.56 1044.03a1.9 1.9 0 1 0 3.8 0a1.9 1.9 0 1 0 -3.8 0ZM484.56 1042.13L488.36 1045.93M484.56 1045.93L488.36 1042.13M489.38 1042.93a1.9 1.9 0 1 0 3.8 0a1.9 1.9 0 1 0 -3.8 0ZM489.38 1041.03L493.18 1044.83M489.38 1044.83L493.18 1041.03M494.27 1042.6a1.9 1.9 0 1 0 3.8 0a1.9 1.9 0 1 0 -3.8 0ZM494.27 1040.7L498.07 1044.5M494.27 1044.5L498.07 1040.7M499.07 1043.82a1.9 1.9 0 1 0 3.8 0a1.9 1.9 0 1 0 -3.8 0ZM499.07 1041.92L502.87 1045.72M499.07 1045.72L502.87 1041.92M503.67 1045.65a1.9 1.9 0 1 0 3.8 0a1.9 1.9 0 1 0 -3.8 0ZM503.67 1043.75L507.47 1047.55M503.67 1047.55L507.47 1043.75M508.4 1047.1a1.9 1.9 0 1 0 3.8 0a1.9 1.9 0 1 0 -3.8 0ZM508.4 1045.2L512.2 1049M508.4 1049L512.2 1045.2" fill="none" stroke="#74308a" stroke-width="0.9"/>
<path d="M302 1015H305.8V1018.8H302ZM302 1018.8L303.9 1015L305.8 1018.8M309 1015H312.8V1018.8H309ZM309 1018.8L310.9 1015L312.8 1018.8M316.5 1015H320.3V1018.8H316.5ZM316.5 1018.8L318.4 1015L320.3 1018.8M323.9 1014.4H327.7V1018.2H323.9ZM323.9 1018.2L325.8 1014.4L327.7 1018.2M330.9 1013.1H334.7V1016.9H330.9ZM330.9 1016.9L332.8 1013.1L334.7 1016.9M338.4 1011.9H342.2V1015.7H338.4ZM338.4 1015.7L340.3 1011.9L342.2 1015.7M345 1010.3H348.8V1014.1H345ZM345 1014.1L346.9 1010.3L348.8 1014.1M352 1008.8H355.8V1012.6H352ZM352 1012.6L353.9 1008.8L355.8 1012.6M358.8 1006.1H362.6V1009.9H358.8ZM358.8 1009.9L360.7 1006.1L362.6 1009.9M365.6 1004.1H369.4V1007.9H365.6ZM365.6 1007.9L367.5 1004.1L369.4 1007.9M371.9 1002.2H375.7V1006H371.9ZM371.9 1006L373.8 1002.2L375.7 1006M378.6 999.9H382.4V1003.7H378.6ZM378.6 1003.7L380.5 999.9L382.4 1003.7M384.9 997.5H388.7V1001.3H384.9ZM384.9 1001.3L386.8 997.5L388.7 1001.3M391.6 995.2H395.4V999H391.6ZM391.6 999L393.5 995.2L395.4 999M398.2 993.1H402V996.9H398.2ZM398.2 996.9L400.1 993.1L402 996.9M404.4 991.6H408.2V995.4H404.4ZM404.4 995.4L406.3 991.6L408.2 995.4M410.4 989.7H414.2V993.5H410.4ZM410.4 993.5L412.3 989.7L414.2 993.5M416.1 988.1H419.9V991.9H416.1ZM416.1 991.9L418 988.1L419.9 991.9M420.8 986.3H424.6V990.1H420.8ZM420.8 990.1L422.7 986.3L424.6 990.1M424 985H427.8V988.8H424ZM424 988.8L425.9 985L427.8 988.8M429.4 982.7H433.2V986.5H429.4ZM429.4 986.5L431.3 982.7L433.2 986.5M435.4 979.5H439.2V983.3H435.4ZM435.4 983.3L437.3 979.5L439.2 983.3M441.6 977.2H445.4V981H441.6ZM441.6 981L443.5 977.2L445.4 981M447.9 974.4H451.7V978.2H447.9ZM447.9 978.2L449.8 974.4L451.7 978.2M454.1 972.2H457.9V976H454.1ZM454.1 976L456 972.2L457.9 976M461 969.4H464.8V973.2H461ZM461 973.2L462.9 969.4L464.8 973.2M467.7 967H471.5V970.8H467.7ZM467.7 970.8L469.6 967L471.5 970.8M474.5 964.7H478.3V968.5H474.5ZM474.5 968.5L476.4 964.7L478.3 968.5M481 962.3H484.8V966.1H481ZM481 966.1L482.9 962.3L484.8 966.1M487 964.4H490.8V968.2H487ZM487 968.2L488.9 964.4L490.8 968.2M492.8 961.9H496.6V965.7H492.8ZM492.8 965.7L494.7 961.9L496.6 965.7" fill="none" stroke="#2c7d7d" stroke-width="0.9"/>
<path d="M188.33 1092.73H191.67V1096.07H188.33ZM194.13 1092.73H197.47V1096.07H194.13ZM199.63 1092.73H202.97V1096.07H199.63ZM205.03 1092.73H208.37V1096.07H205.03ZM210.83 1092.73H214.17V1096.07H210.83ZM216.43 1092.43H219.77V1095.77H216.43ZM222.23 1092.33H225.57V1095.67H222.23ZM228.03 1092.33H231.37V1095.67H228.03ZM234.03 1091.93H237.37V1095.27H234.03ZM240.23 1091.93H243.57V1095.27H240.23ZM245.73 1091.63H249.07V1094.97H245.73ZM251.23 1091.63H254.57V1094.97H251.23ZM256.63 1091.23H259.97V1094.57H256.63ZM262.13 1091.23H265.47V1094.57H262.13ZM267.63 1090.93H270.97V1094.27H267.63ZM273.03 1090.93H276.37V1094.27H273.03ZM280.13 1090.43H283.47V1093.77H280.13ZM287.13 1089.93H290.47V1093.27H287.13ZM294.23 1089.93H297.57V1093.27H294.23ZM301.23 1089.63H304.57V1092.97H301.23ZM309.83 1089.63H313.17V1092.97H309.83ZM317.63 1089.33H320.97V1092.67H317.63ZM326.43 1089.23H329.77V1092.57H326.43ZM335.83 1088.73H339.17V1092.07H335.83ZM345.23 1088.43H348.57V1091.77H345.23ZM354.63 1088.13H357.97V1091.47H354.63ZM364.03 1088.13H367.37V1091.47H364.03ZM373.33 1087.63H376.67V1090.97H373.33ZM381.23 1087.13H384.57V1090.47H381.23ZM389.03 1086.83H392.37V1090.17H389.03ZM396.03 1086.83H399.37V1090.17H396.03ZM403.13 1086.53H406.47V1089.87H403.13Z" fill="#c4502f" stroke="#c4502f" stroke-width="0.6"/>
<path d="M318.18 1104.6a1.52 1.52 0 1 0 3.04 0a1.52 1.52 0 1 0 -3.04 0ZM324.63 1104.52a1.52 1.52 0 1 0 3.04 0a1.52 1.52 0 1 0 -3.04 0ZM331.08 1104.43a1.52 1.52 0 1 0 3.04 0a1.52 1.52 0 1 0 -3.04 0ZM337.53 1104.35a1.52 1.52 0 1 0 3.04 0a1.52 1.52 0 1 0 -3.04 0ZM343.98 1104.26a1.52 1.52 0 1 0 3.04 0a1.52 1.52 0 1 0 -3.04 0ZM350.43 1104.18a1.52 1.52 0 1 0 3.04 0a1.52 1.52 0 1 0 -3.04 0ZM356.88 1104.09a1.52 1.52 0 1 0 3.04 0a1.52 1.52 0 1 0 -3.04 0ZM363.33 1104.01a1.52 1.52 0 1 0 3.04 0a1.52 1.52 0 1 0 -3.04 0ZM369.78 1103.92a1.52 1.52 0 1 0 3.04 0a1.52 1.52 0 1 0 -3.04 0ZM376.23 1103.84a1.52 1.52 0 1 0 3.04 0a1.52 1.52 0 1 0 -3.04 0ZM382.68 1103.75a1.52 1.52 0 1 0 3.04 0a1.52 1.52 0 1 0 -3.04 0ZM389.13 1103.67a1.52 1.52 0 1 0 3.04 0a1.52 1.52 0 1 0 -3.04 0ZM395.58 1103.58a1.52 1.52 0 1 0 3.04 0a1.52 1.52 0 1 0 -3.04 0ZM402.03 1103.5a1.52 1.52 0 1 0 3.04 0a1.52 1.52 0 1 0 -3.04 0ZM408.48 1103.42a1.52 1.52 0 1 0 3.04 0a1.52 1.52 0 1 0 -3.04 0ZM414.93 1103.33a1.52 1.52 0 1 0 3.04 0a1.52 1.52 0 1 0 -3.04 0ZM421.38 1103.25a1.52 1.52 0 1 0 3.04 0a1.52 1.52 0 1 0 -3.04 0ZM427.83 1103.16a1.52 1.52 0 1 0 3.04 0a1.52 1.52 0 1 0 -3.04 0ZM434.28 1103.08a1.52 1.52 0 1 0 3.04 0a1.52 1.52 0 1 0 -3.04 0ZM440.73 1102.99a1.52 1.52 0 1 0 3.04 0a1.52 1.52 0 1 0 -3.04 0ZM447.18 1102.91a1.52 1.52 0 1 0 3.04 0a1.52 1.52 0 1 0 -3.04 0ZM453.63 1102.82a1.52 1.52 0 1 0 3.04 0a1.52 1.52 0 1 0 -3.04 0ZM460.08 1102.74a1.52 1.52 0 1 0 3.04 0a1.52 1.52 0 1 0 -3.04 0ZM466.53 1102.65a1.52 1.52 0 1 0 3.04 0a1.52 1.52 0 1 0 -3.04 0ZM472.98 1102.57a1.52 1.52 0 1 0 3.04 0a1.52 1.52 0 1 0 -3.04 0ZM479.43 1102.48a1.52 1.52 0 1 0 3.04 0a1.52 1.52 0 1 0 -3.04 0ZM485.88 1102.4a1.52 1.52 0 1 0 3.04 0a1.52 1.52 0 1 0 -3.04 0Z" fill="#6856b2" stroke="#6856b2" stroke-width="0.6"/>
<path d="M326 1104.14L328.05 1107.68L323.95 1107.68ZM336.67 1104.1L338.71 1107.65L334.62 1107.65ZM347.33 1104.07L349.38 1107.62L345.29 1107.62ZM358 1104.04L360.05 1107.58L355.95 1107.58ZM368.67 1104L370.71 1107.55L366.62 1107.55ZM379.33 1103.97L381.38 1107.52L377.29 1107.52ZM390 1103.94L392.05 1107.48L387.95 1107.48ZM400.67 1103.9L402.71 1107.45L398.62 1107.45ZM411.33 1103.87L413.38 1107.42L409.29 1107.42ZM422 1103.84L424.05 1107.38L419.95 1107.38ZM432.67 1103.8L434.71 1107.35L430.62 1107.35ZM443.33 1103.77L445.38 1107.32L441.29 1107.32ZM454 1103.74L456.05 1107.28L451.95 1107.28ZM464.67 1103.7L466.71 1107.25L462.62 1107.25ZM475.33 1103.67L477.38 1107.22L473.29 1107.22ZM486 1103.64L488.05 1107.18L483.95 1107.18ZM492 1103.14L494.05 1106.68L489.95 1106.68ZM496 1103.05L498.05 1106.6L493.95 1106.6ZM500 1102.97L502.05 1106.52L497.95 1106.52ZM504 1102.89L506.05 1106.43L501.95 1106.43ZM508 1102.8L510.05 1106.35L505.95 1106.35ZM512 1102.72L514.05 1106.27L509.95 1106.27ZM516 1102.64L518.05 1106.18L513.95 1106.18ZM522 1102.44L524.05 1105.98L519.95 1105.98ZM531 1102.24L533.05 1105.78L528.95 1105.78ZM539.4 1102.14L541.45 1105.68L537.35 1105.68ZM547.6 1102.04L549.65 1105.58L545.55 1105.58ZM555.8 1101.94L557.85 1105.48L553.75 1105.48Z" fill="#a8285a" stroke="#a8285a" stroke-width="0.6"/>
<path d="M254.4 1107.73L255.97 1109.3L254.4 1110.87L252.83 1109.3ZM256.81 1107.73L258.38 1109.3L256.81 1110.87L255.25 1109.3ZM259.23 1107.73L260.8 1109.3L259.23 1110.87L257.66 1109.3ZM261.64 1107.73L263.21 1109.3L261.64 1110.87L260.07 1109.3ZM264.06 1107.73L265.62 1109.3L264.06 1110.87L262.49 1109.3ZM266.47 1107.73L268.04 1109.3L266.47 1110.87L264.9 1109.3ZM268.88 1107.73L270.45 1109.3L268.88 1110.87L267.32 1109.3ZM271.3 1107.73L272.86 1109.3L271.3 1110.87L269.73 1109.3ZM273.71 1107.73L275.28 1109.3L273.71 1110.87L272.14 1109.3ZM276.12 1107.73L277.69 1109.3L276.12 1110.87L274.56 1109.3ZM278.54 1107.73L280.11 1109.3L278.54 1110.87L276.97 1109.3ZM280.95 1107.73L282.52 1109.3L280.95 1110.87L279.38 1109.3ZM283.37 1107.73L284.93 1109.3L283.37 1110.87L281.8 1109.3ZM285.78 1107.73L287.35 1109.3L285.78 1110.87L284.21 1109.3ZM288.19 1107.73L289.76 1109.3L288.19 1110.87L286.63 1109.3ZM290.61 1107.73L292.17 1109.3L290.61 1110.87L289.04 1109.3ZM293.02 1107.73L294.59 1109.3L293.02 1110.87L291.45 1109.3ZM295.43 1107.73L297 1109.3L295.43 1110.87L293.87 1109.3ZM297.85 1107.73L299.42 1109.3L297.85 1110.87L296.28 1109.3ZM300.26 1107.73L301.83 1109.3L300.26 1110.87L298.69 1109.3ZM302.68 1107.73L304.24 1109.3L302.68 1110.87L301.11 1109.3ZM305.09 1107.73L306.66 1109.3L305.09 1110.87L303.52 1109.3ZM307.5 1107.73L309.07 1109.3L307.5 1110.87L305.94 1109.3ZM309.92 1107.73L311.48 1109.3L309.92 1110.87L308.35 1109.3ZM312.33 1107.73L313.9 1109.3L312.33 1110.87L310.76 1109.3ZM314.74 1107.73L316.31 1109.3L314.74 1110.87L313.18 1109.3ZM317.16 1107.73L318.73 1109.3L317.16 1110.87L315.59 1109.3ZM319.57 1107.73L321.14 1109.3L319.57 1110.87L318 1109.3ZM321.99 1107.73L323.55 1109.3L321.99 1110.87L320.42 1109.3ZM324.4 1107.73L325.97 1109.3L324.4 1110.87L322.83 1109.3Z" fill="#7b7b7b" stroke="#7b7b7b" stroke-width="0.6"/>
<path d="M146.35 1055a1.75 1.75 0 1 0 3.5 0a1.75 1.75 0 1 0 -3.5 0ZM149.33 1054.32a1.75 1.75 0 1 0 3.5 0a1.75 1.75 0 1 0 -3.5 0ZM152.32 1053.64a1.75 1.75 0 1 0 3.5 0a1.75 1.75 0 1 0 -3.5 0ZM155.3 1052.95a1.75 1.75 0 1 0 3.5 0a1.75 1.75 0 1 0 -3.5 0ZM158.28 1052.27a1.75 1.75 0 1 0 3.5 0a1.75 1.75 0 1 0 -3.5 0ZM161.26 1051.59a1.75 1.75 0 1 0 3.5 0a1.75 1.75 0 1 0 -3.5 0ZM164.24 1050.91a1.75 1.75 0 1 0 3.5 0a1.75 1.75 0 1 0 -3.5 0ZM167.22 1050.23a1.75 1.75 0 1 0 3.5 0a1.75 1.75 0 1 0 -3.5 0ZM170.21 1049.55a1.75 1.75 0 1 0 3.5 0a1.75 1.75 0 1 0 -3.5 0ZM173.19 1048.86a1.75 1.75 0 1 0 3.5 0a1.75 1.75 0 1 0 -3.5 0ZM176.17 1048.18a1.75 1.75 0 1 0 3.5 0a1.75 1.75 0 1 0 -3.5 0ZM179.15 1047.5a1.75 1.75 0 1 0 3.5 0a1.75 1.75 0 1 0 -3.5 0ZM183.85 1045.6a1.75 1.75 0 1 0 3.5 0a1.75 1.75 0 1 0 -3.5 0ZM191.65 1045.2a1.75 1.75 0 1 0 3.5 0a1.75 1.75 0 1 0 -3.5 0ZM197.95 1044.7a1.75 1.75 0 1 0 3.5 0a1.75 1.75 0 1 0 -3.5 0ZM203.85 1044.7a1.75 1.75 0 1 0 3.5 0a1.75 1.75 0 1 0 -3.5 0ZM209.65 1044.4a1.75 1.75 0 1 0 3.5 0a1.75 1.75 0 1 0 -3.5 0ZM215.45 1043.1a1.75 1.75 0 1 0 3.5 0a1.75 1.75 0 1 0 -3.5 0ZM221.35 1043.1a1.75 1.75 0 1 0 3.5 0a1.75 1.75 0 1 0 -3.5 0ZM227.65 1041.6a1.75 1.75 0 1 0 3.5 0a1.75 1.75 0 1 0 -3.5 0ZM234.25 1039.7a1.75 1.75 0 1 0 3.5 0a1.75 1.75 0 1 0 -3.5 0ZM240.45 1037.8a1.75 1.75 0 1 0 3.5 0a1.75 1.75 0 1 0 -3.5 0ZM246.75 1035.3a1.75 1.75 0 1 0 3.5 0a1.75 1.75 0 1 0 -3.5 0ZM253.45 1032.7a1.75 1.75 0 1 0 3.5 0a1.75 1.75 0 1 0 -3.5 0ZM259.75 1030a1.75 1.75 0 1 0 3.5 0a1.75 1.75 0 1 0 -3.5 0ZM265.95 1028.8a1.75 1.75 0 1 0 3.5 0a1.75 1.75 0 1 0 -3.5 0ZM272.25 1026.1a1.75 1.75 0 1 0 3.5 0a1.75 1.75 0 1 0 -3.5 0ZM278.45 1024.9a1.75 1.75 0 1 0 3.5 0a1.75 1.75 0 1 0 -3.5 0ZM284.75 1024.1a1.75 1.75 0 1 0 3.5 0a1.75 1.75 0 1 0 -3.5 0ZM290.95 1022.5a1.75 1.75 0 1 0 3.5 0a1.75 1.75 0 1 0 -3.5 0ZM296.45 1021.3a1.75 1.75 0 1 0 3.5 0a1.75 1.75 0 1 0 -3.5 0ZM301.95 1019.4a1.75 1.75 0 1 0 3.5 0a1.75 1.75 0 1 0 -3.5 0Z" fill="#c55530" stroke="#c55530" stroke-width="0.6"/>
<path d="M110.07 1100.4a1.33 1.33 0 1 0 2.66 0a1.33 1.33 0 1 0 -2.66 0ZM112.86 1100.4a1.33 1.33 0 1 0 2.66 0a1.33 1.33 0 1 0 -2.66 0ZM115.64 1100.4a1.33 1.33 0 1 0 2.66 0a1.33 1.33 0 1 0 -2.66 0ZM118.43 1100.4a1.33 1.33 0 1 0 2.66 0a1.33 1.33 0 1 0 -2.66 0ZM121.21 1100.4a1.33 1.33 0 1 0 2.66 0a1.33 1.33 0 1 0 -2.66 0ZM124 1100.4a1.33 1.33 0 1 0 2.66 0a1.33 1.33 0 1 0 -2.66 0ZM126.78 1100.4a1.33 1.33 0 1 0 2.66 0a1.33 1.33 0 1 0 -2.66 0ZM129.57 1100.4a1.33 1.33 0 1 0 2.66 0a1.33 1.33 0 1 0 -2.66 0ZM134.27 1100.4a1.33 1.33 0 1 0 2.66 0a1.33 1.33 0 1 0 -2.66 0ZM140.71 1100.3a1.33 1.33 0 1 0 2.66 0a1.33 1.33 0 1 0 -2.66 0ZM147.15 1100.2a1.33 1.33 0 1 0 2.66 0a1.33 1.33 0 1 0 -2.66 0ZM153.58 1100.1a1.33 1.33 0 1 0 2.66 0a1.33 1.33 0 1 0 -2.66 0ZM160.02 1100a1.33 1.33 0 1 0 2.66 0a1.33 1.33 0 1 0 -2.66 0ZM166.46 1099.9a1.33 1.33 0 1 0 2.66 0a1.33 1.33 0 1 0 -2.66 0ZM172.9 1099.8a1.33 1.33 0 1 0 2.66 0a1.33 1.33 0 1 0 -2.66 0ZM179.34 1099.7a1.33 1.33 0 1 0 2.66 0a1.33 1.33 0 1 0 -2.66 0ZM185.77 1099.6a1.33 1.33 0 1 0 2.66 0a1.33 1.33 0 1 0 -2.66 0ZM192.21 1099.5a1.33 1.33 0 1 0 2.66 0a1.33 1.33 0 1 0 -2.66 0ZM198.65 1099.4a1.33 1.33 0 1 0 2.66 0a1.33 1.33 0 1 0 -2.66 0ZM205.09 1099.3a1.33 1.33 0 1 0 2.66 0a1.33 1.33 0 1 0 -2.66 0ZM211.53 1099.2a1.33 1.33 0 1 0 2.66 0a1.33 1.33 0 1 0 -2.66 0ZM217.97 1099.1a1.33 1.33 0 1 0 2.66 0a1.33 1.33 0 1 0 -2.66 0ZM224.4 1099a1.33 1.33 0 1 0 2.66 0a1.33 1.33 0 1 0 -2.66 0ZM230.84 1098.9a1.33 1.33 0 1 0 2.66 0a1.33 1.33 0 1 0 -2.66 0ZM237.28 1098.8a1.33 1.33 0 1 0 2.66 0a1.33 1.33 0 1 0 -2.66 0ZM243.72 1098.7a1.33 1.33 0 1 0 2.66 0a1.33 1.33 0 1 0 -2.66 0ZM250.16 1098.6a1.33 1.33 0 1 0 2.66 0a1.33 1.33 0 1 0 -2.66 0ZM256.59 1098.5a1.33 1.33 0 1 0 2.66 0a1.33 1.33 0 1 0 -2.66 0ZM263.03 1098.4a1.33 1.33 0 1 0 2.66 0a1.33 1.33 0 1 0 -2.66 0ZM269.47 1098.3a1.33 1.33 0 1 0 2.66 0a1.33 1.33 0 1 0 -2.66 0Z" fill="#3b63ab" stroke="#3b63ab" stroke-width="0.6"/>
<path d="M172 1101.5a1.9 1.9 0 1 0 3.8 0a1.9 1.9 0 1 0 -3.8 0ZM175.18 1101.45a1.9 1.9 0 1 0 3.8 0a1.9 1.9 0 1 0 -3.8 0ZM178.37 1101.4a1.9 1.9 0 1 0 3.8 0a1.9 1.9 0 1 0 -3.8 0ZM181.55 1101.35a1.9 1.9 0 1 0 3.8 0a1.9 1.9 0 1 0 -3.8 0ZM184.73 1101.3a1.9 1.9 0 1 0 3.8 0a1.9 1.9 0 1 0 -3.8 0ZM187.92 1101.25a1.9 1.9 0 1 0 3.8 0a1.9 1.9 0 1 0 -3.8 0ZM191.1 1101.2a1.9 1.9 0 1 0 3.8 0a1.9 1.9 0 1 0 -3.8 0ZM194.7 1101a1.9 1.9 0 1 0 3.8 0a1.9 1.9 0 1 0 -3.8 0ZM200.67 1100.9a1.9 1.9 0 1 0 3.8 0a1.9 1.9 0 1 0 -3.8 0ZM206.65 1100.8a1.9 1.9 0 1 0 3.8 0a1.9 1.9 0 1 0 -3.8 0ZM212.62 1100.7a1.9 1.9 0 1 0 3.8 0a1.9 1.9 0 1 0 -3.8 0ZM218.59 1100.6a1.9 1.9 0 1 0 3.8 0a1.9 1.9 0 1 0 -3.8 0ZM224.56 1100.5a1.9 1.9 0 1 0 3.8 0a1.9 1.9 0 1 0 -3.8 0ZM230.54 1100.4a1.9 1.9 0 1 0 3.8 0a1.9 1.9 0 1 0 -3.8 0ZM236.51 1100.3a1.9 1.9 0 1 0 3.8 0a1.9 1.9 0 1 0 -3.8 0ZM242.48 1100.2a1.9 1.9 0 1 0 3.8 0a1.9 1.9 0 1 0 -3.8 0ZM248.45 1100.1a1.9 1.9 0 1 0 3.8 0a1.9 1.9 0 1 0 -3.8 0ZM254.43 1100a1.9 1.9 0 1 0 3.8 0a1.9 1.9 0 1 0 -3.8 0ZM260.4 1099.9a1.9 1.9 0 1 0 3.8 0a1.9 1.9 0 1 0 -3.8 0ZM266.37 1099.8a1.9 1.9 0 1 0 3.8 0a1.9 1.9 0 1 0 -3.8 0ZM272.35 1099.7a1.9 1.9 0 1 0 3.8 0a1.9 1.9 0 1 0 -3.8 0ZM278.32 1099.6a1.9 1.9 0 1 0 3.8 0a1.9 1.9 0 1 0 -3.8 0ZM284.29 1099.5a1.9 1.9 0 1 0 3.8 0a1.9 1.9 0 1 0 -3.8 0ZM290.26 1099.4a1.9 1.9 0 1 0 3.8 0a1.9 1.9 0 1 0 -3.8 0ZM296.24 1099.3a1.9 1.9 0 1 0 3.8 0a1.9 1.9 0 1 0 -3.8 0ZM302.21 1099.2a1.9 1.9 0 1 0 3.8 0a1.9 1.9 0 1 0 -3.8 0ZM308.18 1099.1a1.9 1.9 0 1 0 3.8 0a1.9 1.9 0 1 0 -3.8 0ZM314.15 1099a1.9 1.9 0 1 0 3.8 0a1.9 1.9 0 1 0 -3.8 0ZM320.13 1098.9a1.9 1.9 0 1 0 3.8 0a1.9 1.9 0 1 0 -3.8 0ZM326.1 1098.8a1.9 1.9 0 1 0 3.8 0a1.9 1.9 0 1 0 -3.8 0Z" fill="none" stroke="#e59c50" stroke-width="0.9"/>
<path d="M355.9 1079.6H359.7V1083.4H355.9ZM361.25 1079.06H365.05V1082.86H361.25ZM366.61 1078.69H370.41V1082.49H366.61ZM371.98 1078.51H375.78V1082.31H371.98ZM377.35 1078.72H381.15V1082.52H377.35ZM382.7 1079.14H386.5V1082.94H382.7ZM388.05 1079.51H391.85V1083.31H388.05ZM393.39 1078.96H397.19V1082.76H393.39ZM398.65 1077.92H402.45V1081.72H398.65ZM403.89 1076.75H407.69V1080.55H403.89ZM409.21 1075.93H413.01V1079.73H409.21ZM414.56 1075.55H418.36V1079.35H414.56ZM419.93 1075.51H423.73V1079.31H419.93ZM425.28 1075.92H429.08V1079.72H425.28ZM430.6 1076.72H434.4V1080.52H430.6ZM435.92 1077.37H439.72V1081.17H435.92ZM441.29 1077.58H445.09V1081.38H441.29ZM446.66 1077.84H450.46V1081.64H446.66ZM452.03 1078H455.83V1081.8H452.03ZM457.4 1078H461.2V1081.8H457.4ZM462.77 1077.73H466.57V1081.53H462.77ZM468.11 1077.22H471.91V1081.02H468.11ZM473.43 1076.45H477.23V1080.25H473.43ZM478.7 1075.4H482.5V1079.2H478.7Z" fill="none" stroke="#6f9f6f" stroke-width="0.9"/>
<path d="M107.9 496.16 L109.9 496.43 L111.9 496.69 L113.89 496.94 L115.89 497.19 L117.89 497.43 L119.89 497.66 L121.89 497.89 L123.88 498.11 L125.88 498.32 L127.88 498.53 L129.88 498.72 L131.88 498.92 L133.87 499.1 L135.87 499.28 L137.87 499.45 L139.87 499.62 L141.87 499.78 L143.86 499.93 L145.86 500.07 L147.86 500.21 L149.86 500.34 L151.85 500.47 L153.85 500.58 L155.85 500.7 L157.85 500.8 L159.85 500.9 L161.84 500.99 L163.84 501.07 L165.84 501.15 L167.84 501.22 L169.84 501.29 L171.83 501.34 L173.83 501.39 L175.83 501.44 L177.83 501.48 L179.83 501.51 L181.82 501.53 L183.82 501.55 L185.82 501.56 L187.82 501.57 L189.82 501.56 L191.81 501.56 L193.81 501.54 L195.81 501.52 L197.81 501.49 L199.81 501.46 L201.8 501.42 L203.8 501.37 L205.8 501.31 L207.8 501.25 L209.8 501.19 L211.79 501.11 L213.79 501.03 L215.79 500.94 L217.79 500.85 L219.78 500.75 L221.78 500.65 L223.78 500.53 L225.78 500.41 L227.78 500.29 L229.77 500.16 L231.77 500.02 L233.77 499.87 L235.77 499.72 L237.77 499.57 L239.76 499.4 L241.76 499.23 L243.76 499.06 L245.76 498.87 L247.76 498.68 L249.75 498.49 L251.75 498.29 L253.75 498.08 L255.75 497.86 L257.75 497.64 L259.74 497.41 L261.74 497.18 L263.74 496.94 L265.74 496.7 L267.74 496.44 L269.73 496.18 L271.73 495.92 L273.73 495.65 L275.73 495.37 L277.73 495.09 L279.72 494.8 L281.72 494.5 L283.72 494.2 L285.72 493.89 L287.72 493.58 L289.71 493.26 L291.71 492.93 L293.71 492.6 L295.71 492.26 L297.7 491.91 L299.7 491.56 L301.7 491.2 L303.7 490.83 L305.7 490.46 L307.69 490.08 L309.69 489.7 L311.69 489.31 L313.69 488.91 L315.69 488.5 L317.68 488.09 L319.68 487.67 L321.68 487.24 L323.68 486.81 L325.68 486.37 L327.67 485.93 L329.67 485.47 L331.67 485.01 L333.67 484.55 L335.67 484.07 L337.66 483.59 L339.66 483.1 L341.66 482.61 L343.66 482.1 L345.66 481.59 L347.65 481.08 L349.65 480.55 L351.65 480.02 L353.65 479.48 L355.65 478.94 L357.64 478.38 L359.64 477.82 L361.64 477.25 L363.64 476.68 L365.63 476.09 L367.63 475.5 L369.63 474.9 L371.63 474.3 L373.63 473.68 L375.62 473.06 L377.62 472.43 L379.62 471.79 L381.62 471.15 L383.62 470.5 L385.61 469.84 L387.61 469.17 L389.61 468.49 L391.61 467.81 L393.61 467.11 L395.6 466.41 L397.6 465.7 L399.6 464.99 L401.6 464.26 L403.6 463.53 L405.59 462.79 L407.59 462.04 L409.59 461.28 L411.59 460.51 L413.59 459.74 L415.58 458.96 L417.58 458.17 L419.58 457.37 L421.58 456.56 L423.58 455.74 L425.57 454.92 L427.57 454.08 L429.57 453.24 L431.57 452.39 L433.57 451.53 L435.56 450.66 L437.56 449.78 L439.56 448.9 L441.56 448 L443.55 447.1 L445.55 446.19 L447.55 445.27 L449.55 444.34 L451.55 443.4 L453.54 442.45 L455.54 441.49 L457.54 440.53 L459.54 439.55 L461.54 438.57 L463.53 437.56 L465.53 436.54 L467.53 435.49 L469.53 434.41 L471.53 433.29 L473.52 432.12 L475.52 430.91 L477.52 429.64 L479.52 428.32 L481.52 426.92 L483.51 425.46 L485.51 423.92 L487.51 422.3 L489.51 420.59 L491.51 418.81 L493.5 416.97 L495.5 415.05 L497.5 413.09 L499.5 411.07 L501.5 409.01 L503.49 406.91 L505.49 404.78 L507.49 402.62 L509.49 400.44 L511.48 398.26 L513.48 396.06 L515.48 393.85 L517.48 391.63 L519.48 389.41 L521.47 387.18 L523.47 384.94 L525.47 382.71 L527.47 380.46 L529.47 378.22 L531.46 375.98 L533.46 373.73 L535.46 371.49 L537.46 369.25 L539.46 367.01 L541.45 364.78 L543.45 362.55 L545.45 360.33 L547.45 358.11 L549.45 355.91 L551.44 353.72 L553.44 351.53 L555.44 349.36 L557.44 347.2 L559.44 345.05 L561.43 342.92 L563.43 340.81 L565.43 338.71 L567.43 336.63 L569.43 334.57 L571.42 332.53 L573.42 330.51 L575.42 328.52 L577.42 326.55 L579.42 324.6 L581.41 322.67 L583.41 320.78 L585.41 318.91 L587.41 317.07 L589.4 315.26 L591.4 313.47 L593.4 311.72 L595.4 309.99 L597.4 308.29 L599.39 306.62 L601.39 304.98 L603.39 303.37 L605.39 301.79 L607.39 300.23 L609.38 298.7 L611.38 297.2 L613.38 295.73 L615.38 294.29 L617.38 292.87 L619.37 291.49 L621.37 290.13 L623.37 288.8 L625.37 287.5 L627.37 286.23 L629.36 284.99 L631.36 283.78 L633.36 282.59 L635.36 281.44 L637.36 280.31 L639.35 279.21 L641.35 278.14 L643.35 277.1 L645.35 276.08 L647.35 275.1 L649.34 274.14 L651.34 273.22 L653.34 272.32 L655.34 271.45 L657.33 270.61 L659.33 269.8 L661.33 269.01 L663.33 268.26 L665.33 267.54 L667.32 266.84 L669.32 266.17 L671.32 265.53 L673.32 264.92 L675.32 264.34 L677.31 263.79 L679.31 263.27 L681.31 262.78 L683.31 262.31 L685.31 261.88 L687.3 261.47 L689.3 261.09 L691.3 260.74" fill="none" stroke="#f4efe6" stroke-opacity="0.7" stroke-width="5" stroke-linejoin="round"/><path d="M107.9 496.16 L109.9 496.43 L111.9 496.69 L113.89 496.94 L115.89 497.19 L117.89 497.43 L119.89 497.66 L121.89 497.89 L123.88 498.11 L125.88 498.32 L127.88 498.53 L129.88 498.72 L131.88 498.92 L133.87 499.1 L135.87 499.28 L137.87 499.45 L139.87 499.62 L141.87 499.78 L143.86 499.93 L145.86 500.07 L147.86 500.21 L149.86 500.34 L151.85 500.47 L153.85 500.58 L155.85 500.7 L157.85 500.8 L159.85 500.9 L161.84 500.99 L163.84 501.07 L165.84 501.15 L167.84 501.22 L169.84 501.29 L171.83 501.34 L173.83 501.39 L175.83 501.44 L177.83 501.48 L179.83 501.51 L181.82 501.53 L183.82 501.55 L185.82 501.56 L187.82 501.57 L189.82 501.56 L191.81 501.56 L193.81 501.54 L195.81 501.52 L197.81 501.49 L199.81 501.46 L201.8 501.42 L203.8 501.37 L205.8 501.31 L207.8 501.25 L209.8 501.19 L211.79 501.11 L213.79 501.03 L215.79 500.94 L217.79 500.85 L219.78 500.75 L221.78 500.65 L223.78 500.53 L225.78 500.41 L227.78 500.29 L229.77 500.16 L231.77 500.02 L233.77 499.87 L235.77 499.72 L237.77 499.57 L239.76 499.4 L241.76 499.23 L243.76 499.06 L245.76 498.87 L247.76 498.68 L249.75 498.49 L251.75 498.29 L253.75 498.08 L255.75 497.86 L257.75 497.64 L259.74 497.41 L261.74 497.18 L263.74 496.94 L265.74 496.7 L267.74 496.44 L269.73 496.18 L271.73 495.92 L273.73 495.65 L275.73 495.37 L277.73 495.09 L279.72 494.8 L281.72 494.5 L283.72 494.2 L285.72 493.89 L287.72 493.58 L289.71 493.26 L291.71 492.93 L293.71 492.6 L295.71 492.26 L297.7 491.91 L299.7 491.56 L301.7 491.2 L303.7 490.83 L305.7 490.46 L307.69 490.08 L309.69 489.7 L311.69 489.31 L313.69 488.91 L315.69 488.5 L317.68 488.09 L319.68 487.67 L321.68 487.24 L323.68 486.81 L325.68 486.37 L327.67 485.93 L329.67 485.47 L331.67 485.01 L333.67 484.55 L335.67 484.07 L337.66 483.59 L339.66 483.1 L341.66 482.61 L343.66 482.1 L345.66 481.59 L347.65 481.08 L349.65 480.55 L351.65 480.02 L353.65 479.48 L355.65 478.94 L357.64 478.38 L359.64 477.82 L361.64 477.25 L363.64 476.68 L365.63 476.09 L367.63 475.5 L369.63 474.9 L371.63 474.3 L373.63 473.68 L375.62 473.06 L377.62 472.43 L379.62 471.79 L381.62 471.15 L383.62 470.5 L385.61 469.84 L387.61 469.17 L389.61 468.49 L391.61 467.81 L393.61 467.11 L395.6 466.41 L397.6 465.7 L399.6 464.99 L401.6 464.26 L403.6 463.53 L405.59 462.79 L407.59 462.04 L409.59 461.28 L411.59 460.51 L413.59 459.74 L415.58 458.96 L417.58 458.17 L419.58 457.37 L421.58 456.56 L423.58 455.74 L425.57 454.92 L427.57 454.08 L429.57 453.24 L431.57 452.39 L433.57 451.53 L435.56 450.66 L437.56 449.78 L439.56 448.9 L441.56 448 L443.55 447.1 L445.55 446.19 L447.55 445.27 L449.55 444.34 L451.55 443.4 L453.54 442.45 L455.54 441.49 L457.54 440.53 L459.54 439.55 L461.54 438.57 L463.53 437.56 L465.53 436.54 L467.53 435.49 L469.53 434.41 L471.53 433.29 L473.52 432.12 L475.52 430.91 L477.52 429.64 L479.52 428.32 L481.52 426.92 L483.51 425.46 L485.51 423.92 L487.51 422.3 L489.51 420.59 L491.51 418.81 L493.5 416.97 L495.5 415.05 L497.5 413.09 L499.5 411.07 L501.5 409.01 L503.49 406.91 L505.49 404.78 L507.49 402.62 L509.49 400.44 L511.48 398.26 L513.48 396.06 L515.48 393.85 L517.48 391.63 L519.48 389.41 L521.47 387.18 L523.47 384.94 L525.47 382.71 L527.47 380.46 L529.47 378.22 L531.46 375.98 L533.46 373.73 L535.46 371.49 L537.46 369.25 L539.46 367.01 L541.45 364.78 L543.45 362.55 L545.45 360.33 L547.45 358.11 L549.45 355.91 L551.44 353.72 L553.44 351.53 L555.44 349.36 L557.44 347.2 L559.44 345.05 L561.43 342.92 L563.43 340.81 L565.43 338.71 L567.43 336.63 L569.43 334.57 L571.42 332.53 L573.42 330.51 L575.42 328.52 L577.42 326.55 L579.42 324.6 L581.41 322.67 L583.41 320.78 L585.41 318.91 L587.41 317.07 L589.4 315.26 L591.4 313.47 L593.4 311.72 L595.4 309.99 L597.4 308.29 L599.39 306.62 L601.39 304.98 L603.39 303.37 L605.39 301.79 L607.39 300.23 L609.38 298.7 L611.38 297.2 L613.38 295.73 L615.38 294.29 L617.38 292.87 L619.37 291.49 L621.37 290.13 L623.37 288.8 L625.37 287.5 L627.37 286.23 L629.36 284.99 L631.36 283.78 L633.36 282.59 L635.36 281.44 L637.36 280.31 L639.35 279.21 L641.35 278.14 L643.35 277.1 L645.35 276.08 L647.35 275.1 L649.34 274.14 L651.34 273.22 L653.34 272.32 L655.34 271.45 L657.33 270.61 L659.33 269.8 L661.33 269.01 L663.33 268.26 L665.33 267.54 L667.32 266.84 L669.32 266.17 L671.32 265.53 L673.32 264.92 L675.32 264.34 L677.31 263.79 L679.31 263.27 L681.31 262.78 L683.31 262.31 L685.31 261.88 L687.3 261.47 L689.3 261.09 L691.3 260.74" fill="none" stroke="#5680cf" stroke-width="2" stroke-linejoin="round"/>
<path d="M922.2 499.41 L924.19 499.74 L926.19 500.06 L928.18 500.38 L930.18 500.7 L932.17 501.01 L934.17 501.32 L936.16 501.63 L938.16 501.93 L940.15 502.23 L942.15 502.53 L944.14 502.83 L946.14 503.11 L948.13 503.4 L950.13 503.68 L952.12 503.96 L954.12 504.24 L956.11 504.51 L958.11 504.77 L960.1 505.04 L962.1 505.29 L964.09 505.55 L966.09 505.8 L968.08 506.04 L970.08 506.29 L972.07 506.52 L974.07 506.76 L976.06 506.98 L978.05 507.21 L980.05 507.42 L982.04 507.64 L984.04 507.85 L986.03 508.05 L988.03 508.25 L990.02 508.45 L992.02 508.63 L994.01 508.82 L996.01 509 L998 509.17 L1000 509.34 L1001.99 509.5 L1003.99 509.66 L1005.98 509.81 L1007.98 509.96 L1009.97 510.1 L1011.97 510.24 L1013.96 510.37 L1015.96 510.49 L1017.95 510.61 L1019.95 510.72 L1021.94 510.83 L1023.94 510.93 L1025.93 511.02 L1027.92 511.11 L1029.92 511.19 L1031.91 511.27 L1033.91 511.34 L1035.9 511.4 L1037.9 511.46 L1039.89 511.51 L1041.89 511.55 L1043.88 511.59 L1045.88 511.62 L1047.87 511.65 L1049.87 511.66 L1051.86 511.67 L1053.86 511.68 L1055.85 511.67 L1057.85 511.66 L1059.84 511.65 L1061.84 511.62 L1063.83 511.59 L1065.83 511.55 L1067.82 511.51 L1069.82 511.46 L1071.81 511.4 L1073.81 511.34 L1075.8 511.27 L1077.8 511.2 L1079.79 511.12 L1081.78 511.04 L1083.78 510.95 L1085.77 510.86 L1087.77 510.76 L1089.76 510.66 L1091.76 510.55 L1093.75 510.44 L1095.75 510.32 L1097.74 510.21 L1099.74 510.09 L1101.73 509.96 L1103.73 509.83 L1105.72 509.7 L1107.72 509.57 L1109.71 509.43 L1111.71 509.29 L1113.7 509.15 L1115.7 509.01 L1117.69 508.86 L1119.69 508.72 L1121.68 508.57 L1123.68 508.42 L1125.67 508.27 L1127.67 508.12 L1129.66 507.96 L1131.66 507.81 L1133.65 507.66 L1135.64 507.5 L1137.64 507.35 L1139.63 507.2 L1141.63 507.04 L1143.62 506.89 L1145.62 506.74 L1147.61 506.58 L1149.61 506.43 L1151.6 506.28 L1153.6 506.13 L1155.59 505.98 L1157.59 505.82 L1159.58 505.66 L1161.58 505.49 L1163.57 505.31 L1165.57 505.12 L1167.56 504.91 L1169.56 504.7 L1171.55 504.46 L1173.55 504.21 L1175.54 503.93 L1177.54 503.63 L1179.53 503.31 L1181.53 502.97 L1183.52 502.59 L1185.51 502.19 L1187.51 501.75 L1189.5 501.29 L1191.5 500.78 L1193.49 500.24 L1195.49 499.67 L1197.48 499.05 L1199.48 498.4 L1201.47 497.72 L1203.47 496.99 L1205.46 496.22 L1207.46 495.42 L1209.45 494.58 L1211.45 493.69 L1213.44 492.76 L1215.44 491.79 L1217.43 490.78 L1219.43 489.73 L1221.42 488.64 L1223.42 487.5 L1225.41 486.31 L1227.41 485.08 L1229.4 483.81 L1231.4 482.49 L1233.39 481.12 L1235.39 479.71 L1237.38 478.25 L1239.37 476.74 L1241.37 475.18 L1243.36 473.58 L1245.36 471.92 L1247.35 470.22 L1249.35 468.46 L1251.34 466.67 L1253.34 464.82 L1255.33 462.94 L1257.33 461.01 L1259.32 459.04 L1261.32 457.02 L1263.31 454.97 L1265.31 452.88 L1267.3 450.76 L1269.3 448.6 L1271.29 446.4 L1273.29 444.18 L1275.28 441.92 L1277.28 439.63 L1279.27 437.31 L1281.27 434.96 L1283.26 432.57 L1285.26 430.15 L1287.25 427.7 L1289.24 425.2 L1291.24 422.67 L1293.23 420.1 L1295.23 417.49 L1297.22 414.83 L1299.22 412.13 L1301.21 409.38 L1303.21 406.59 L1305.2 403.75 L1307.2 400.87 L1309.19 397.97 L1311.19 395.05 L1313.18 392.14 L1315.18 389.25 L1317.17 386.38 L1319.17 383.55 L1321.16 380.77 L1323.16 378.06 L1325.15 375.43 L1327.15 372.88 L1329.14 370.44 L1331.14 368.09 L1333.13 365.84 L1335.13 363.68 L1337.12 361.62 L1339.12 359.64 L1341.11 357.76 L1343.1 355.96 L1345.1 354.25 L1347.09 352.62 L1349.09 351.07 L1351.08 349.61 L1353.08 348.22 L1355.07 346.91 L1357.07 345.68 L1359.06 344.52 L1361.06 343.44 L1363.05 342.42 L1365.05 341.47 L1367.04 340.59 L1369.04 339.78 L1371.03 339.03 L1373.03 338.34 L1375.02 337.72 L1377.02 337.15 L1379.01 336.64 L1381.01 336.19 L1383 335.79 L1385 335.44 L1386.99 335.14 L1388.99 334.9 L1390.98 334.71 L1392.98 334.58 L1394.97 334.5 L1396.96 334.49 L1398.96 334.53 L1400.95 334.63 L1402.95 334.8 L1404.94 335.03 L1406.94 335.33 L1408.93 335.69 L1410.93 336.12 L1412.92 336.63 L1414.92 337.2 L1416.91 337.85 L1418.91 338.57 L1420.9 339.37 L1422.9 340.24 L1424.89 341.2 L1426.89 342.23 L1428.88 343.35 L1430.88 344.55 L1432.87 345.83 L1434.87 347.2 L1436.86 348.66 L1438.86 350.2 L1440.85 351.84 L1442.85 353.57 L1444.84 355.39 L1446.83 357.31 L1448.83 359.32 L1450.82 361.43 L1452.82 363.63 L1454.81 365.92 L1456.81 368.29 L1458.8 370.75 L1460.8 373.29 L1462.79 375.91 L1464.79 378.61 L1466.78 381.38 L1468.78 384.22 L1470.77 387.13 L1472.77 390.11 L1474.76 393.14 L1476.76 396.24 L1478.75 399.4 L1480.75 402.61 L1482.74 405.87 L1484.74 409.19 L1486.73 412.55 L1488.73 415.96 L1490.72 419.4 L1492.72 422.89 L1494.71 426.41 L1496.71 429.97 L1498.7 433.56" fill="none" stroke="#f4efe6" stroke-opacity="0.7" stroke-width="5" stroke-linejoin="round"/><path d="M922.2 499.41 L924.19 499.74 L926.19 500.06 L928.18 500.38 L930.18 500.7 L932.17 501.01 L934.17 501.32 L936.16 501.63 L938.16 501.93 L940.15 502.23 L942.15 502.53 L944.14 502.83 L946.14 503.11 L948.13 503.4 L950.13 503.68 L952.12 503.96 L954.12 504.24 L956.11 504.51 L958.11 504.77 L960.1 505.04 L962.1 505.29 L964.09 505.55 L966.09 505.8 L968.08 506.04 L970.08 506.29 L972.07 506.52 L974.07 506.76 L976.06 506.98 L978.05 507.21 L980.05 507.42 L982.04 507.64 L984.04 507.85 L986.03 508.05 L988.03 508.25 L990.02 508.45 L992.02 508.63 L994.01 508.82 L996.01 509 L998 509.17 L1000 509.34 L1001.99 509.5 L1003.99 509.66 L1005.98 509.81 L1007.98 509.96 L1009.97 510.1 L1011.97 510.24 L1013.96 510.37 L1015.96 510.49 L1017.95 510.61 L1019.95 510.72 L1021.94 510.83 L1023.94 510.93 L1025.93 511.02 L1027.92 511.11 L1029.92 511.19 L1031.91 511.27 L1033.91 511.34 L1035.9 511.4 L1037.9 511.46 L1039.89 511.51 L1041.89 511.55 L1043.88 511.59 L1045.88 511.62 L1047.87 511.65 L1049.87 511.66 L1051.86 511.67 L1053.86 511.68 L1055.85 511.67 L1057.85 511.66 L1059.84 511.65 L1061.84 511.62 L1063.83 511.59 L1065.83 511.55 L1067.82 511.51 L1069.82 511.46 L1071.81 511.4 L1073.81 511.34 L1075.8 511.27 L1077.8 511.2 L1079.79 511.12 L1081.78 511.04 L1083.78 510.95 L1085.77 510.86 L1087.77 510.76 L1089.76 510.66 L1091.76 510.55 L1093.75 510.44 L1095.75 510.32 L1097.74 510.21 L1099.74 510.09 L1101.73 509.96 L1103.73 509.83 L1105.72 509.7 L1107.72 509.57 L1109.71 509.43 L1111.71 509.29 L1113.7 509.15 L1115.7 509.01 L1117.69 508.86 L1119.69 508.72 L1121.68 508.57 L1123.68 508.42 L1125.67 508.27 L1127.67 508.12 L1129.66 507.96 L1131.66 507.81 L1133.65 507.66 L1135.64 507.5 L1137.64 507.35 L1139.63 507.2 L1141.63 507.04 L1143.62 506.89 L1145.62 506.74 L1147.61 506.58 L1149.61 506.43 L1151.6 506.28 L1153.6 506.13 L1155.59 505.98 L1157.59 505.82 L1159.58 505.66 L1161.58 505.49 L1163.57 505.31 L1165.57 505.12 L1167.56 504.91 L1169.56 504.7 L1171.55 504.46 L1173.55 504.21 L1175.54 503.93 L1177.54 503.63 L1179.53 503.31 L1181.53 502.97 L1183.52 502.59 L1185.51 502.19 L1187.51 501.75 L1189.5 501.29 L1191.5 500.78 L1193.49 500.24 L1195.49 499.67 L1197.48 499.05 L1199.48 498.4 L1201.47 497.72 L1203.47 496.99 L1205.46 496.22 L1207.46 495.42 L1209.45 494.58 L1211.45 493.69 L1213.44 492.76 L1215.44 491.79 L1217.43 490.78 L1219.43 489.73 L1221.42 488.64 L1223.42 487.5 L1225.41 486.31 L1227.41 485.08 L1229.4 483.81 L1231.4 482.49 L1233.39 481.12 L1235.39 479.71 L1237.38 478.25 L1239.37 476.74 L1241.37 475.18 L1243.36 473.58 L1245.36 471.92 L1247.35 470.22 L1249.35 468.46 L1251.34 466.67 L1253.34 464.82 L1255.33 462.94 L1257.33 461.01 L1259.32 459.04 L1261.32 457.02 L1263.31 454.97 L1265.31 452.88 L1267.3 450.76 L1269.3 448.6 L1271.29 446.4 L1273.29 444.18 L1275.28 441.92 L1277.28 439.63 L1279.27 437.31 L1281.27 434.96 L1283.26 432.57 L1285.26 430.15 L1287.25 427.7 L1289.24 425.2 L1291.24 422.67 L1293.23 420.1 L1295.23 417.49 L1297.22 414.83 L1299.22 412.13 L1301.21 409.38 L1303.21 406.59 L1305.2 403.75 L1307.2 400.87 L1309.19 397.97 L1311.19 395.05 L1313.18 392.14 L1315.18 389.25 L1317.17 386.38 L1319.17 383.55 L1321.16 380.77 L1323.16 378.06 L1325.15 375.43 L1327.15 372.88 L1329.14 370.44 L1331.14 368.09 L1333.13 365.84 L1335.13 363.68 L1337.12 361.62 L1339.12 359.64 L1341.11 357.76 L1343.1 355.96 L1345.1 354.25 L1347.09 352.62 L1349.09 351.07 L1351.08 349.61 L1353.08 348.22 L1355.07 346.91 L1357.07 345.68 L1359.06 344.52 L1361.06 343.44 L1363.05 342.42 L1365.05 341.47 L1367.04 340.59 L1369.04 339.78 L1371.03 339.03 L1373.03 338.34 L1375.02 337.72 L1377.02 337.15 L1379.01 336.64 L1381.01 336.19 L1383 335.79 L1385 335.44 L1386.99 335.14 L1388.99 334.9 L1390.98 334.71 L1392.98 334.58 L1394.97 334.5 L1396.96 334.49 L1398.96 334.53 L1400.95 334.63 L1402.95 334.8 L1404.94 335.03 L1406.94 335.33 L1408.93 335.69 L1410.93 336.12 L1412.92 336.63 L1414.92 337.2 L1416.91 337.85 L1418.91 338.57 L1420.9 339.37 L1422.9 340.24 L1424.89 341.2 L1426.89 342.23 L1428.88 343.35 L1430.88 344.55 L1432.87 345.83 L1434.87 347.2 L1436.86 348.66 L1438.86 350.2 L1440.85 351.84 L1442.85 353.57 L1444.84 355.39 L1446.83 357.31 L1448.83 359.32 L1450.82 361.43 L1452.82 363.63 L1454.81 365.92 L1456.81 368.29 L1458.8 370.75 L1460.8 373.29 L1462.79 375.91 L1464.79 378.61 L1466.78 381.38 L1468.78 384.22 L1470.77 387.13 L1472.77 390.11 L1474.76 393.14 L1476.76 396.24 L1478.75 399.4 L1480.75 402.61 L1482.74 405.87 L1484.74 409.19 L1486.73 412.55 L1488.73 415.96 L1490.72 419.4 L1492.72 422.89 L1494.71 426.41 L1496.71 429.97 L1498.7 433.56" fill="none" stroke="#5680cf" stroke-width="2" stroke-linejoin="round"/>
<path d="M112.6 1078.6 L114.6 1079.05 L116.59 1079.48 L118.59 1079.9 L120.58 1080.32 L122.58 1080.73 L124.58 1081.13 L126.57 1081.52 L128.57 1081.9 L130.56 1082.27 L132.56 1082.63 L134.55 1082.99 L136.55 1083.34 L138.55 1083.68 L140.54 1084.01 L142.54 1084.33 L144.53 1084.64 L146.53 1084.95 L148.53 1085.24 L150.52 1085.53 L152.52 1085.81 L154.51 1086.08 L156.51 1086.35 L158.5 1086.61 L160.5 1086.85 L162.5 1087.1 L164.49 1087.33 L166.49 1087.55 L168.48 1087.77 L170.48 1087.98 L172.48 1088.18 L174.47 1088.38 L176.47 1088.56 L178.46 1088.74 L180.46 1088.91 L182.46 1089.08 L184.45 1089.23 L186.45 1089.38 L188.44 1089.53 L190.44 1089.66 L192.43 1089.79 L194.43 1089.91 L196.43 1090.02 L198.42 1090.13 L200.42 1090.23 L202.41 1090.32 L204.41 1090.4 L206.41 1090.48 L208.4 1090.55 L210.4 1090.62 L212.39 1090.68 L214.39 1090.73 L216.38 1090.77 L218.38 1090.81 L220.38 1090.84 L222.37 1090.86 L224.37 1090.88 L226.36 1090.89 L228.36 1090.9 L230.36 1090.9 L232.35 1090.89 L234.35 1090.88 L236.34 1090.86 L238.34 1090.83 L240.34 1090.8 L242.33 1090.76 L244.33 1090.71 L246.32 1090.66 L248.32 1090.61 L250.31 1090.54 L252.31 1090.47 L254.31 1090.4 L256.3 1090.32 L258.3 1090.23 L260.29 1090.14 L262.29 1090.04 L264.29 1089.94 L266.28 1089.83 L268.28 1089.72 L270.27 1089.6 L272.27 1089.47 L274.26 1089.34 L276.26 1089.21 L278.26 1089.07 L280.25 1088.92 L282.25 1088.77 L284.24 1088.61 L286.24 1088.45 L288.24 1088.29 L290.23 1088.11 L292.23 1087.94 L294.22 1087.76 L296.22 1087.57 L298.22 1087.38 L300.21 1087.18 L302.21 1086.98 L304.2 1086.77 L306.2 1086.56 L308.19 1086.35 L310.19 1086.13 L312.19 1085.9 L314.18 1085.68 L316.18 1085.44 L318.17 1085.21 L320.17 1084.96 L322.17 1084.72 L324.16 1084.47 L326.16 1084.21 L328.15 1083.95 L330.15 1083.69 L332.14 1083.42 L334.14 1083.15 L336.14 1082.88 L338.13 1082.6 L340.13 1082.31 L342.12 1082.02 L344.12 1081.72 L346.12 1081.42 L348.11 1081.1 L350.11 1080.78 L352.1 1080.45 L354.1 1080.1 L356.1 1079.74 L358.09 1079.37 L360.09 1078.99 L362.08 1078.59 L364.08 1078.18 L366.07 1077.75 L368.07 1077.3 L370.07 1076.84 L372.06 1076.35 L374.06 1075.85 L376.05 1075.33 L378.05 1074.78 L380.05 1074.22 L382.04 1073.63 L384.04 1073.01 L386.03 1072.37 L388.03 1071.71 L390.02 1071.02 L392.02 1070.3 L394.02 1069.56 L396.01 1068.79 L398.01 1067.98 L400 1067.15 L402 1066.28 L404 1065.39 L405.99 1064.46 L407.99 1063.49 L409.98 1062.49 L411.98 1061.46 L413.98 1060.39 L415.97 1059.28 L417.97 1058.13 L419.96 1056.95 L421.96 1055.72 L423.95 1054.46 L425.95 1053.15 L427.95 1051.8 L429.94 1050.41 L431.94 1048.97 L433.93 1047.49 L435.93 1045.96 L437.93 1044.39 L439.92 1042.77 L441.92 1041.1 L443.91 1039.38 L445.91 1037.61 L447.9 1035.8 L449.9 1033.93 L451.9 1032 L453.89 1030.03 L455.89 1028 L457.88 1025.91 L459.88 1023.78 L461.88 1021.59 L463.87 1019.34 L465.87 1017.06 L467.86 1014.72 L469.86 1012.34 L471.86 1009.91 L473.85 1007.44 L475.85 1004.93 L477.84 1002.39 L479.84 999.8 L481.83 997.18 L483.83 994.53 L485.83 991.84 L487.82 989.13 L489.82 986.37 L491.81 983.58 L493.81 980.73 L495.81 977.81 L497.8 974.83 L499.8 971.76 L501.79 968.61 L503.79 965.36 L505.78 962.01 L507.78 958.57 L509.78 955.08 L511.77 951.55 L513.77 947.99 L515.76 944.42 L517.76 940.87 L519.76 937.36 L521.75 933.89 L523.75 930.5 L525.74 927.19 L527.74 924 L529.74 920.93 L531.73 917.98 L533.73 915.15 L535.72 912.43 L537.72 909.82 L539.71 907.29 L541.71 904.86 L543.71 902.5 L545.7 900.21 L547.7 897.99 L549.69 895.82 L551.69 893.71 L553.69 891.63 L555.68 889.59 L557.68 887.57 L559.67 885.57 L561.67 883.58 L563.66 881.61 L565.66 879.65 L567.66 877.72 L569.65 875.81 L571.65 873.93 L573.64 872.09 L575.64 870.29 L577.64 868.53 L579.63 866.82 L581.63 865.16 L583.62 863.56 L585.62 862.02 L587.62 860.54 L589.61 859.14 L591.61 857.8 L593.6 856.55 L595.6 855.38 L597.59 854.3 L599.59 853.31 L601.59 852.41 L603.58 851.61 L605.58 850.91 L607.57 850.3 L609.57 849.78 L611.57 849.36 L613.56 849.03 L615.56 848.79 L617.55 848.63 L619.55 848.56 L621.54 848.58 L623.54 848.67 L625.54 848.86 L627.53 849.12 L629.53 849.46 L631.52 849.88 L633.52 850.37 L635.52 850.94 L637.51 851.59 L639.51 852.3 L641.5 853.09 L643.5 853.95 L645.5 854.87 L647.49 855.86 L649.49 856.92 L651.48 858.04 L653.48 859.23 L655.47 860.47 L657.47 861.77 L659.47 863.14 L661.46 864.56 L663.46 866.03 L665.45 867.56 L667.45 869.14 L669.45 870.78 L671.44 872.46 L673.44 874.19 L675.43 875.97 L677.43 877.79 L679.42 879.66 L681.42 881.57 L683.42 883.53 L685.41 885.52 L687.41 887.55 L689.4 889.62 L691.4 891.73" fill="none" stroke="#f4efe6" stroke-opacity="0.7" stroke-width="5" stroke-linejoin="round"/><path d="M112.6 1078.6 L114.6 1079.05 L116.59 1079.48 L118.59 1079.9 L120.58 1080.32 L122.58 1080.73 L124.58 1081.13 L126.57 1081.52 L128.57 1081.9 L130.56 1082.27 L132.56 1082.63 L134.55 1082.99 L136.55 1083.34 L138.55 1083.68 L140.54 1084.01 L142.54 1084.33 L144.53 1084.64 L146.53 1084.95 L148.53 1085.24 L150.52 1085.53 L152.52 1085.81 L154.51 1086.08 L156.51 1086.35 L158.5 1086.61 L160.5 1086.85 L162.5 1087.1 L164.49 1087.33 L166.49 1087.55 L168.48 1087.77 L170.48 1087.98 L172.48 1088.18 L174.47 1088.38 L176.47 1088.56 L178.46 1088.74 L180.46 1088.91 L182.46 1089.08 L184.45 1089.23 L186.45 1089.38 L188.44 1089.53 L190.44 1089.66 L192.43 1089.79 L194.43 1089.91 L196.43 1090.02 L198.42 1090.13 L200.42 1090.23 L202.41 1090.32 L204.41 1090.4 L206.41 1090.48 L208.4 1090.55 L210.4 1090.62 L212.39 1090.68 L214.39 1090.73 L216.38 1090.77 L218.38 1090.81 L220.38 1090.84 L222.37 1090.86 L224.37 1090.88 L226.36 1090.89 L228.36 1090.9 L230.36 1090.9 L232.35 1090.89 L234.35 1090.88 L236.34 1090.86 L238.34 1090.83 L240.34 1090.8 L242.33 1090.76 L244.33 1090.71 L246.32 1090.66 L248.32 1090.61 L250.31 1090.54 L252.31 1090.47 L254.31 1090.4 L256.3 1090.32 L258.3 1090.23 L260.29 1090.14 L262.29 1090.04 L264.29 1089.94 L266.28 1089.83 L268.28 1089.72 L270.27 1089.6 L272.27 1089.47 L274.26 1089.34 L276.26 1089.21 L278.26 1089.07 L280.25 1088.92 L282.25 1088.77 L284.24 1088.61 L286.24 1088.45 L288.24 1088.29 L290.23 1088.11 L292.23 1087.94 L294.22 1087.76 L296.22 1087.57 L298.22 1087.38 L300.21 1087.18 L302.21 1086.98 L304.2 1086.77 L306.2 1086.56 L308.19 1086.35 L310.19 1086.13 L312.19 1085.9 L314.18 1085.68 L316.18 1085.44 L318.17 1085.21 L320.17 1084.96 L322.17 1084.72 L324.16 1084.47 L326.16 1084.21 L328.15 1083.95 L330.15 1083.69 L332.14 1083.42 L334.14 1083.15 L336.14 1082.88 L338.13 1082.6 L340.13 1082.31 L342.12 1082.02 L344.12 1081.72 L346.12 1081.42 L348.11 1081.1 L350.11 1080.78 L352.1 1080.45 L354.1 1080.1 L356.1 1079.74 L358.09 1079.37 L360.09 1078.99 L362.08 1078.59 L364.08 1078.18 L366.07 1077.75 L368.07 1077.3 L370.07 1076.84 L372.06 1076.35 L374.06 1075.85 L376.05 1075.33 L378.05 1074.78 L380.05 1074.22 L382.04 1073.63 L384.04 1073.01 L386.03 1072.37 L388.03 1071.71 L390.02 1071.02 L392.02 1070.3 L394.02 1069.56 L396.01 1068.79 L398.01 1067.98 L400 1067.15 L402 1066.28 L404 1065.39 L405.99 1064.46 L407.99 1063.49 L409.98 1062.49 L411.98 1061.46 L413.98 1060.39 L415.97 1059.28 L417.97 1058.13 L419.96 1056.95 L421.96 1055.72 L423.95 1054.46 L425.95 1053.15 L427.95 1051.8 L429.94 1050.41 L431.94 1048.97 L433.93 1047.49 L435.93 1045.96 L437.93 1044.39 L439.92 1042.77 L441.92 1041.1 L443.91 1039.38 L445.91 1037.61 L447.9 1035.8 L449.9 1033.93 L451.9 1032 L453.89 1030.03 L455.89 1028 L457.88 1025.91 L459.88 1023.78 L461.88 1021.59 L463.87 1019.34 L465.87 1017.06 L467.86 1014.72 L469.86 1012.34 L471.86 1009.91 L473.85 1007.44 L475.85 1004.93 L477.84 1002.39 L479.84 999.8 L481.83 997.18 L483.83 994.53 L485.83 991.84 L487.82 989.13 L489.82 986.37 L491.81 983.58 L493.81 980.73 L495.81 977.81 L497.8 974.83 L499.8 971.76 L501.79 968.61 L503.79 965.36 L505.78 962.01 L507.78 958.57 L509.78 955.08 L511.77 951.55 L513.77 947.99 L515.76 944.42 L517.76 940.87 L519.76 937.36 L521.75 933.89 L523.75 930.5 L525.74 927.19 L527.74 924 L529.74 920.93 L531.73 917.98 L533.73 915.15 L535.72 912.43 L537.72 909.82 L539.71 907.29 L541.71 904.86 L543.71 902.5 L545.7 900.21 L547.7 897.99 L549.69 895.82 L551.69 893.71 L553.69 891.63 L555.68 889.59 L557.68 887.57 L559.67 885.57 L561.67 883.58 L563.66 881.61 L565.66 879.65 L567.66 877.72 L569.65 875.81 L571.65 873.93 L573.64 872.09 L575.64 870.29 L577.64 868.53 L579.63 866.82 L581.63 865.16 L583.62 863.56 L585.62 862.02 L587.62 860.54 L589.61 859.14 L591.61 857.8 L593.6 856.55 L595.6 855.38 L597.59 854.3 L599.59 853.31 L601.59 852.41 L603.58 851.61 L605.58 850.91 L607.57 850.3 L609.57 849.78 L611.57 849.36 L613.56 849.03 L615.56 848.79 L617.55 848.63 L619.55 848.56 L621.54 848.58 L623.54 848.67 L625.54 848.86 L627.53 849.12 L629.53 849.46 L631.52 849.88 L633.52 850.37 L635.52 850.94 L637.51 851.59 L639.51 852.3 L641.5 853.09 L643.5 853.95 L645.5 854.87 L647.49 855.86 L649.49 856.92 L651.48 858.04 L653.48 859.23 L655.47 860.47 L657.47 861.77 L659.47 863.14 L661.46 864.56 L663.46 866.03 L665.45 867.56 L667.45 869.14 L669.45 870.78 L671.44 872.46 L673.44 874.19 L675.43 875.97 L677.43 877.79 L679.42 879.66 L681.42 881.57 L683.42 883.53 L685.41 885.52 L687.41 887.55 L689.4 889.62 L691.4 891.73" fill="none" stroke="#5680cf" stroke-width="2" stroke-linejoin="round"/>
<path d="M79.1 54V553.2H720.3" fill="none" stroke="#222" stroke-width="1.6"/><path d="M76.3 532.3H79.1M76.3 394.1H79.1M76.3 255.7H79.1M76.3 116.7H79.1M259.4 553.2V556M440.2 553.2V556M621.7 553.2V556" fill="none" stroke="#222" stroke-width="1.2"/>
<path d="M892.9 53.4V552.3H1527.7" fill="none" stroke="#3a3a3a" stroke-width="1.6"/><path d="M890.1 521.8H892.9M890.1 374.6H892.9M890.1 228.1H892.9M1070.6 552.3V555.1M1250.7 552.3V555.1M1429.9 552.3V555.1" fill="none" stroke="#3a3a3a" stroke-width="1.2"/>
<path d="M83.9 639.5V1138.5H720.3" fill="none" stroke="#3a3a3a" stroke-width="1.6"/><path d="M81.1 1113.8H83.9M81.1 990.4H83.9M81.1 867H83.9M81.1 743.5H83.9M262.8 1138.5V1141.3M442.9 1138.5V1141.3M623.2 1138.5V1141.3" fill="none" stroke="#3a3a3a" stroke-width="1.2"/>
<path d="M768.7 760.43L777.86 776.29L759.54 776.29Z" fill="none" stroke="#71bace" stroke-width="1.1"/>
<path d="M759.08 798.65H778.32M768.7 789.03V808.27" fill="none" stroke="#61b793" stroke-width="1.1"/>
<path d="M761.9 819.5L775.5 833.1M761.9 833.1L775.5 819.5" fill="none" stroke="#595996" stroke-width="1.1"/>
<path d="M768.7 844.33L778.32 853.95L768.7 863.57L759.08 853.95Z" fill="none" stroke="#f19f84" stroke-width="1.1"/>
<path d="M768.7 892.17L777.86 876.31L759.54 876.31Z" fill="none" stroke="#9797d0" stroke-width="1.1"/>
<path d="M761.9 902.45H775.5V916.05H761.9ZM761.9 902.45L775.5 916.05M761.9 916.05L775.5 902.45" fill="none" stroke="#9fdccc" stroke-width="1.1"/>
<path d="M761.9 930.1L775.5 943.7M761.9 943.7L775.5 930.1M759.08 936.9H778.32M768.7 927.28V946.52" fill="none" stroke="#e75f44" stroke-width="1.1"/>
<path d="M768.7 954.93L778.32 964.55L768.7 974.17L759.08 964.55ZM759.08 964.55H778.32M768.7 954.93V974.17" fill="none" stroke="#917760" stroke-width="1.1"/>
<path d="M761.9 992.2a6.8 6.8 0 1 0 13.6 0a6.8 6.8 0 1 0 -13.6 0ZM761.9 992.2H775.5M768.7 985.4V999" fill="none" stroke="#6c6cb9" stroke-width="1.1"/>
<path d="M768.7 1009.28L777.86 1027.78L759.54 1027.78ZM768.7 1030.42L777.86 1011.92L759.54 1011.92Z" fill="none" stroke="#e86650" stroke-width="1.1"/>
<path d="M1136.7 744.1H1150.3V757.7H1136.7ZM1143.5 744.1V757.7" fill="none" stroke="#77b684" stroke-width="1.1"/>
<path d="M1136.7 778.67a6.8 6.8 0 1 0 13.6 0a6.8 6.8 0 1 0 -13.6 0ZM1136.7 771.87L1150.3 785.47M1136.7 785.47L1150.3 771.87" fill="none" stroke="#8d559f" stroke-width="1.1"/>
<path d="M1136.7 799.64H1150.3V813.24H1136.7ZM1136.7 813.24L1143.5 799.64L1150.3 813.24" fill="none" stroke="#519494" stroke-width="1.1"/>
<path d="M1136.7 827.41H1150.3V841.01H1136.7Z" fill="#ce6f54"/>
<path d="M1136.7 861.98a6.8 6.8 0 1 0 13.6 0a6.8 6.8 0 1 0 -13.6 0Z" fill="#8374bf"/>
<path d="M1143.5 879.18L1152.66 895.04L1134.34 895.04Z" fill="#b74e77"/>
<path d="M1143.5 910.04L1150.98 917.52L1143.5 925L1136.02 917.52Z" fill="#929292"/>
<path d="M1136.7 945.29a6.8 6.8 0 1 0 13.6 0a6.8 6.8 0 1 0 -13.6 0Z" fill="#cf7355"/>
<path d="M1138.97 973.06a4.53 4.53 0 1 0 9.07 0a4.53 4.53 0 1 0 -9.07 0Z" fill="#5e7fba"/>
<path d="M1136.7 1000.83a6.8 6.8 0 1 0 13.6 0a6.8 6.8 0 1 0 -13.6 0Z" fill="none" stroke="#e9ad6f" stroke-width="1.1"/>
<path d="M1137.2 1022.3H1149.8V1034.9H1137.2Z" fill="none" stroke="#88b088" stroke-width="1.1"/>
<g font-family="Liberation Sans, Arial, Helvetica, sans-serif" fill="#000"><text x="7.28" y="53.2" font-size="64.93" textLength="42.04" lengthAdjust="spacingAndGlyphs">A</text>
<text x="807.35" y="53.2" font-size="64.93" textLength="42.14" lengthAdjust="spacingAndGlyphs">B</text>
<text x="7.77" y="638.55" font-size="64.51" textLength="45.28" lengthAdjust="spacingAndGlyphs">C</text>
<text x="55.13" y="129.95" font-size="34.5" textLength="20.8" lengthAdjust="spacingAndGlyphs">6</text>
<text x="55.32" y="269" font-size="34.5" textLength="19.47" lengthAdjust="spacingAndGlyphs">4</text>
<text x="55.19" y="407.5" font-size="34.5" textLength="20.17" lengthAdjust="spacingAndGlyphs">2</text>
<text x="56.02" y="545.25" font-size="34.5" textLength="19.2" lengthAdjust="spacingAndGlyphs">0</text>
<text x="838.61" y="237.75" font-size="34.5" textLength="48.28" lengthAdjust="spacingAndGlyphs">0.8</text>
<text x="838.42" y="384.25" font-size="34.5" textLength="48.13" lengthAdjust="spacingAndGlyphs">0.4</text>
<text x="838.61" y="531.25" font-size="34.5" textLength="48.28" lengthAdjust="spacingAndGlyphs">0.0</text>
<text x="37.65" y="757.46" font-size="34.5" textLength="39.04" lengthAdjust="spacingAndGlyphs">60</text>
<text x="38.54" y="880.15" font-size="34.5" textLength="38.11" lengthAdjust="spacingAndGlyphs">40</text>
<text x="37.65" y="1003.36" font-size="34.5" textLength="39.04" lengthAdjust="spacingAndGlyphs">20</text>
<text x="58.29" y="1126.05" font-size="34.5" textLength="18.27" lengthAdjust="spacingAndGlyphs">0</text>
<text x="236.54" y="581.15" font-size="34.5" textLength="47.39" lengthAdjust="spacingAndGlyphs">0.4</text>
<text x="417.3" y="581.15" font-size="34.5" textLength="48.68" lengthAdjust="spacingAndGlyphs">0.6</text>
<text x="598.81" y="581.15" font-size="34.5" textLength="48.18" lengthAdjust="spacingAndGlyphs">0.8</text>
<text x="1048.62" y="580.96" font-size="34.5" textLength="48.13" lengthAdjust="spacingAndGlyphs">0.4</text>
<text x="1227.82" y="580.96" font-size="34.5" textLength="48.04" lengthAdjust="spacingAndGlyphs">0.6</text>
<text x="1407.03" y="580.96" font-size="34.5" textLength="47.65" lengthAdjust="spacingAndGlyphs">0.8</text>
<text x="239.44" y="1166.25" font-size="34.5" textLength="47.29" lengthAdjust="spacingAndGlyphs">0.4</text>
<text x="419.23" y="1166.25" font-size="34.5" textLength="47.72" lengthAdjust="spacingAndGlyphs">0.6</text>
<text x="599.74" y="1166.25" font-size="34.5" textLength="47.12" lengthAdjust="spacingAndGlyphs">0.8</text>
<text x="393.41" y="609.46" font-size="34.5" textLength="58.73" lengthAdjust="spacingAndGlyphs">SDI</text>
<text x="1202.41" y="609.46" font-size="34.5" textLength="58.73" lengthAdjust="spacingAndGlyphs">SDI</text>
<text x="394.31" y="1194.95" font-size="34.5" textLength="58.73" lengthAdjust="spacingAndGlyphs">SDI</text>
<text transform="translate(32.05 424.49) rotate(-90)" x="0" y="0" font-size="34.5" textLength="236.42" lengthAdjust="spacingAndGlyphs">Incidence Rate</text>
<text transform="translate(833.05 388.6) rotate(-90)" x="0" y="0" font-size="34.5" textLength="194.22" lengthAdjust="spacingAndGlyphs">Deaths Rate</text>
<text transform="translate(31.66 1043.48) rotate(-90)" x="0" y="0" font-size="34.5" textLength="170.55" lengthAdjust="spacingAndGlyphs">DALY Rate</text>
<text x="794" y="781.3" font-size="27.3" textLength="289.96" lengthAdjust="spacingAndGlyphs">High−income Asia Pacific</text>
<text x="794" y="809.05" font-size="27.3" textLength="321.98" lengthAdjust="spacingAndGlyphs">High−income North America</text>
<text x="794" y="836.8" font-size="27.3" textLength="186.33" lengthAdjust="spacingAndGlyphs">Western Europe</text>
<text x="794" y="864.55" font-size="27.3" textLength="124.25" lengthAdjust="spacingAndGlyphs">Australasia</text>
<text x="794" y="892.3" font-size="27.3" textLength="251.19" lengthAdjust="spacingAndGlyphs">Andean Latin America</text>
<text x="794" y="920.05" font-size="27.3" textLength="251.23" lengthAdjust="spacingAndGlyphs">Tropical Latin America</text>
<text x="794" y="947.8" font-size="27.3" textLength="245.51" lengthAdjust="spacingAndGlyphs">Central Latin America</text>
<text x="794" y="975.55" font-size="27.3" textLength="267.91" lengthAdjust="spacingAndGlyphs">Southern Latin America</text>
<text x="794" y="1003.3" font-size="27.3" textLength="119.06" lengthAdjust="spacingAndGlyphs">Caribbean</text>
<text x="794" y="1031.05" font-size="27.3" textLength="172.59" lengthAdjust="spacingAndGlyphs">Central Europe</text>
<text x="1170.6" y="761" font-size="27.3" textLength="179.34" lengthAdjust="spacingAndGlyphs">Eastern Europe</text>
<text x="1170.6" y="788.75" font-size="27.3" textLength="138.35" lengthAdjust="spacingAndGlyphs">Central Asia</text>
<text x="1170.6" y="816.5" font-size="27.3" textLength="327.81" lengthAdjust="spacingAndGlyphs">North Africa and Middle East</text>
<text x="1170.6" y="844.25" font-size="27.3" textLength="123.54" lengthAdjust="spacingAndGlyphs">South Asia</text>
<text x="1170.6" y="872" font-size="27.3" textLength="171.44" lengthAdjust="spacingAndGlyphs">Southeast Asia</text>
<text x="1170.6" y="899.75" font-size="27.3" textLength="107.58" lengthAdjust="spacingAndGlyphs">East Asia</text>
<text x="1170.6" y="927.5" font-size="27.3" textLength="94.59" lengthAdjust="spacingAndGlyphs">Oceania</text>
<text x="1170.6" y="955.25" font-size="27.3" textLength="331.83" lengthAdjust="spacingAndGlyphs">Western Sub−Saharan Africa</text>
<text x="1170.6" y="983" font-size="27.3" textLength="326.06" lengthAdjust="spacingAndGlyphs">Eastern Sub−Saharan Africa</text>
<text x="1170.6" y="1010.75" font-size="27.3" textLength="319.19" lengthAdjust="spacingAndGlyphs">Central Sub−Saharan Africa</text>
<text x="1170.6" y="1038.5" font-size="27.3" textLength="341.39" lengthAdjust="spacingAndGlyphs">Southern Sub−Saharan Africa</text></g>
</svg>
</body></html>
